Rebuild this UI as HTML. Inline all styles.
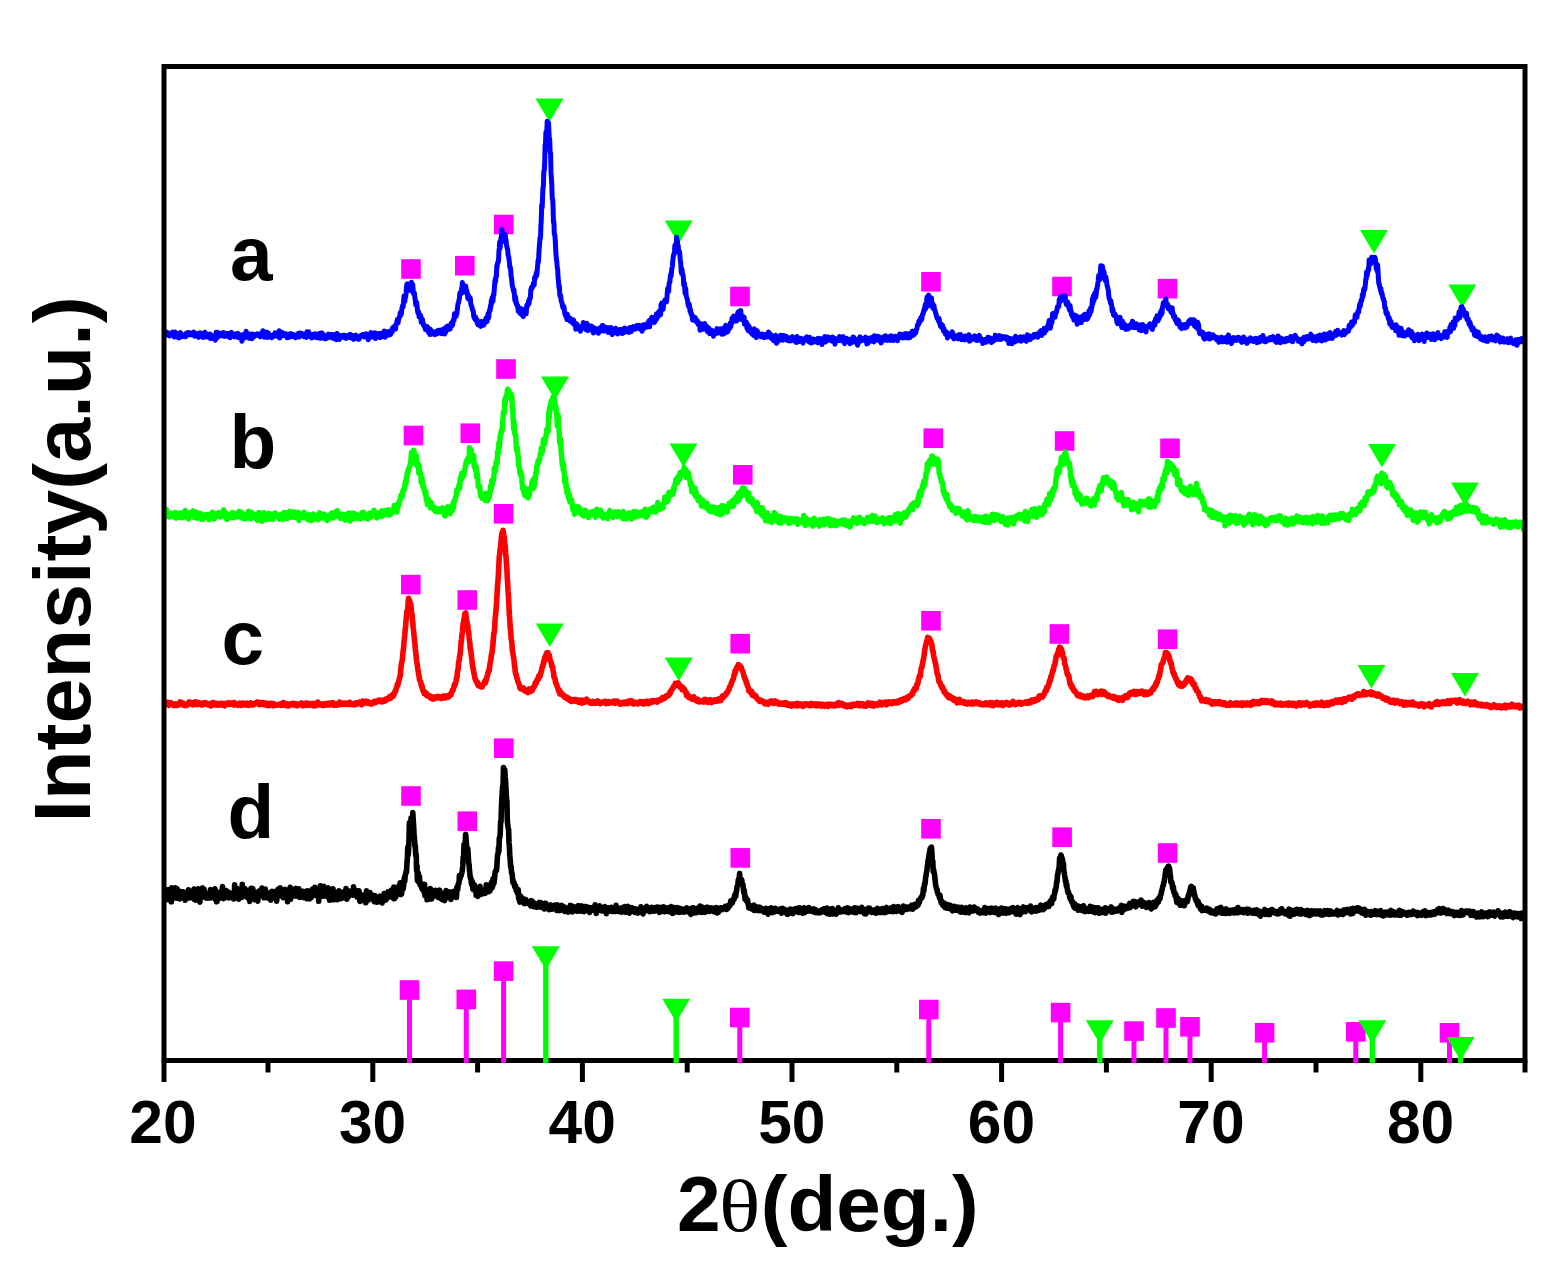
<!DOCTYPE html>
<html lang="en"><head><meta charset="utf-8"><title>XRD patterns</title>
<style>html,body{margin:0;padding:0;background:#fff}svg{display:block}</style></head>
<body>
<svg width="1558" height="1276" viewBox="0 0 1558 1276">
<rect width="1558" height="1276" fill="#fff"/>
<g fill="#ff00ff">
<rect x="401.2" y="259.2" width="19.6" height="19.6"/>
<rect x="455.0" y="255.9" width="19.6" height="19.6"/>
<rect x="494.0" y="214.7" width="19.6" height="19.6"/>
<rect x="730.2" y="286.7" width="19.6" height="19.6"/>
<rect x="921.2" y="272.0" width="19.6" height="19.6"/>
<rect x="1052.2" y="276.7" width="19.6" height="19.6"/>
<rect x="1157.7" y="278.9" width="19.6" height="19.6"/>
<rect x="403.7" y="425.7" width="19.6" height="19.6"/>
<rect x="460.5" y="423.4" width="19.6" height="19.6"/>
<rect x="496.2" y="359.2" width="19.6" height="19.6"/>
<rect x="733.0" y="465.0" width="19.6" height="19.6"/>
<rect x="923.5" y="428.4" width="19.6" height="19.6"/>
<rect x="1054.8" y="431.2" width="19.6" height="19.6"/>
<rect x="1160.2" y="438.5" width="19.6" height="19.6"/>
<rect x="401.0" y="574.8" width="19.6" height="19.6"/>
<rect x="457.5" y="590.2" width="19.6" height="19.6"/>
<rect x="493.8" y="504.0" width="19.6" height="19.6"/>
<rect x="730.4" y="633.9" width="19.6" height="19.6"/>
<rect x="921.2" y="611.0" width="19.6" height="19.6"/>
<rect x="1049.6" y="624.2" width="19.6" height="19.6"/>
<rect x="1157.8" y="629.4" width="19.6" height="19.6"/>
<rect x="401.2" y="786.2" width="19.6" height="19.6"/>
<rect x="457.5" y="811.4" width="19.6" height="19.6"/>
<rect x="494.0" y="738.4" width="19.6" height="19.6"/>
<rect x="730.5" y="848.1" width="19.6" height="19.6"/>
<rect x="921.2" y="819.0" width="19.6" height="19.6"/>
<rect x="1052.3" y="827.4" width="19.6" height="19.6"/>
<rect x="1157.8" y="843.2" width="19.6" height="19.6"/>
</g>
<g fill="#00ff00">
<path d="M535.5 98.5 H563.5 L549.5 122.0 Z"/>
<path d="M664.7 220.5 H692.7 L678.7 244.0 Z"/>
<path d="M1360.0 230.0 H1388.0 L1374.0 253.5 Z"/>
<path d="M1448.3 284.5 H1476.3 L1462.3 308.0 Z"/>
<path d="M541.0 376.5 H569.0 L555.0 400.0 Z"/>
<path d="M669.5 443.5 H697.5 L683.5 467.0 Z"/>
<path d="M1368.0 444.0 H1396.0 L1382.0 467.5 Z"/>
<path d="M1451.0 482.5 H1479.0 L1465.0 506.0 Z"/>
<path d="M535.8 623.5 H563.8 L549.8 647.0 Z"/>
<path d="M664.8 657.5 H692.8 L678.8 681.0 Z"/>
<path d="M1357.5 665.0 H1385.5 L1371.5 688.5 Z"/>
<path d="M1451.0 673.0 H1479.0 L1465.0 696.5 Z"/>
</g>
<path fill="none" stroke="#0000ff" stroke-width="5.0" stroke-linejoin="round" stroke-linecap="butt" d="M165.0 334.6L165.4 335.1L165.8 334.9L166.3 332.0L166.7 335.1L167.1 334.3L167.5 332.5L167.9 334.2L168.4 334.2L168.8 335.0L169.2 334.7L169.6 336.0L170.0 334.4L170.5 334.9L170.9 333.6L171.3 334.7L171.7 333.6L172.1 332.6L172.6 332.1L173.0 333.9L173.4 334.5L173.8 333.9L174.2 337.0L174.7 337.0L175.1 332.1L175.5 332.4L175.9 334.6L176.3 334.5L176.8 334.7L177.2 334.4L177.6 337.2L178.0 333.8L178.4 334.7L178.9 338.0L179.3 335.8L179.7 335.9L180.1 334.3L180.5 332.6L181.0 335.6L181.4 336.8L181.8 335.3L182.2 335.6L182.6 336.4L183.1 334.9L183.5 336.3L183.9 335.6L184.3 335.4L184.7 334.7L185.2 335.8L185.6 336.7L186.0 335.9L186.4 333.0L186.8 335.1L187.3 333.0L187.7 335.0L188.1 332.4L188.5 334.2L188.9 333.5L189.4 332.8L189.8 334.2L190.2 334.7L190.6 334.8L191.0 333.2L191.5 333.2L191.9 334.4L192.3 334.2L192.7 334.7L193.1 335.0L193.6 331.9L194.0 334.8L194.4 336.1L194.8 333.7L195.2 333.2L195.7 335.5L196.1 335.5L196.5 336.1L196.9 335.5L197.3 333.7L197.8 336.6L198.2 336.5L198.6 337.3L199.0 336.3L199.4 332.9L199.9 333.0L200.3 335.3L200.7 334.6L201.1 333.1L201.5 335.2L202.0 336.0L202.4 336.5L202.8 337.3L203.2 336.4L203.6 336.3L204.1 335.3L204.5 337.3L204.9 332.3L205.3 334.8L205.7 335.8L206.2 333.8L206.6 336.2L207.0 334.4L207.4 336.9L207.8 335.8L208.3 336.5L208.7 337.2L209.1 336.6L209.5 334.7L209.9 334.0L210.4 338.5L210.8 336.2L211.2 335.1L211.6 336.4L212.0 336.3L212.5 338.4L212.9 337.2L213.3 337.5L213.7 337.1L214.1 338.6L214.6 336.9L215.0 338.5L215.4 340.1L215.8 334.7L216.2 332.3L216.7 336.1L217.1 337.7L217.5 332.8L217.9 332.4L218.3 334.8L218.8 333.8L219.2 334.5L219.6 335.2L220.0 335.9L220.4 334.3L220.9 335.7L221.3 334.9L221.7 333.0L222.1 333.0L222.5 333.3L223.0 334.5L223.4 332.5L223.8 332.8L224.2 336.6L224.6 335.0L225.1 334.2L225.5 335.6L225.9 334.3L226.3 334.3L226.7 335.4L227.2 335.2L227.6 333.4L228.0 336.5L228.4 334.6L228.8 334.1L229.3 334.2L229.7 335.6L230.1 337.8L230.5 333.3L230.9 335.7L231.4 332.2L231.8 335.0L232.2 336.1L232.6 335.4L233.0 334.2L233.5 335.1L233.9 335.0L234.3 335.1L234.7 336.9L235.1 334.6L235.6 334.0L236.0 334.7L236.4 336.2L236.8 335.8L237.2 335.8L237.7 335.7L238.1 333.4L238.5 337.7L238.9 335.1L239.3 334.5L239.8 336.9L240.2 337.7L240.6 336.6L241.0 336.2L241.4 335.0L241.9 341.2L242.3 338.3L242.7 335.4L243.1 335.7L243.5 337.1L244.0 334.2L244.4 335.1L244.8 335.2L245.2 337.8L245.6 336.9L246.1 331.2L246.5 335.4L246.9 334.0L247.3 337.1L247.7 335.3L248.2 336.2L248.6 334.6L249.0 337.2L249.4 338.2L249.8 334.1L250.3 336.4L250.7 334.5L251.1 335.2L251.5 335.0L251.9 338.8L252.4 334.1L252.8 335.6L253.2 337.4L253.6 336.1L254.0 335.8L254.5 335.0L254.9 336.2L255.3 334.6L255.7 334.9L256.1 334.6L256.6 334.5L257.0 334.5L257.4 333.8L257.8 335.1L258.2 334.3L258.7 334.9L259.1 334.0L259.5 334.6L259.9 333.9L260.3 336.8L260.8 333.8L261.2 333.8L261.6 335.3L262.0 334.6L262.4 332.9L262.9 330.7L263.3 335.0L263.7 335.6L264.1 333.6L264.5 337.2L265.0 335.2L265.4 334.1L265.8 335.5L266.2 335.1L266.6 335.6L267.1 332.1L267.5 337.4L267.9 334.1L268.3 332.8L268.7 335.7L269.2 334.5L269.6 336.4L270.0 335.1L270.4 336.4L270.8 336.8L271.3 335.7L271.7 337.8L272.1 335.8L272.5 336.0L272.9 335.9L273.4 336.4L273.8 335.0L274.2 334.3L274.6 336.1L275.0 332.7L275.5 334.1L275.9 335.2L276.3 333.9L276.7 334.7L277.1 335.1L277.6 336.5L278.0 333.6L278.4 334.3L278.8 334.9L279.2 330.8L279.7 338.0L280.1 333.6L280.5 333.5L280.9 335.6L281.3 334.3L281.8 332.2L282.2 335.7L282.6 335.4L283.0 333.0L283.4 334.1L283.9 335.6L284.3 334.0L284.7 335.4L285.1 335.6L285.5 335.6L286.0 333.7L286.4 335.2L286.8 334.4L287.2 337.8L287.6 336.7L288.1 337.6L288.5 337.1L288.9 336.5L289.3 334.1L289.7 335.9L290.2 336.9L290.6 334.1L291.0 333.6L291.4 334.8L291.8 334.0L292.3 334.0L292.7 335.3L293.1 334.8L293.5 336.8L293.9 334.8L294.4 335.7L294.8 336.3L295.2 335.4L295.6 337.9L296.0 335.2L296.5 335.5L296.9 336.0L297.3 336.8L297.7 334.0L298.1 335.5L298.6 333.3L299.0 337.1L299.4 334.7L299.8 333.0L300.2 333.2L300.7 334.2L301.1 334.5L301.5 333.4L301.9 333.5L302.3 335.2L302.8 334.5L303.2 336.2L303.6 336.5L304.0 335.3L304.4 336.6L304.9 334.0L305.3 336.8L305.7 335.8L306.1 336.4L306.5 337.4L307.0 331.7L307.4 334.9L307.8 332.7L308.2 334.6L308.6 331.7L309.1 333.8L309.5 334.9L309.9 336.2L310.3 336.7L310.7 335.7L311.2 336.3L311.6 338.0L312.0 336.9L312.4 334.4L312.8 337.6L313.3 336.3L313.7 336.2L314.1 334.7L314.5 335.9L314.9 333.7L315.4 335.4L315.8 334.2L316.2 336.2L316.6 337.7L317.0 335.2L317.5 335.6L317.9 336.4L318.3 337.7L318.7 337.6L319.1 333.5L319.6 336.5L320.0 337.0L320.4 338.4L320.8 333.0L321.2 334.5L321.7 337.6L322.1 333.0L322.5 334.0L322.9 336.7L323.3 337.8L323.8 335.7L324.2 337.9L324.6 337.2L325.0 338.8L325.4 336.9L325.9 338.8L326.3 335.4L326.7 336.3L327.1 336.5L327.5 337.8L328.0 336.9L328.4 334.1L328.8 336.4L329.2 336.1L329.6 335.4L330.1 335.5L330.5 335.6L330.9 334.4L331.3 337.6L331.7 337.5L332.2 335.9L332.6 338.0L333.0 334.4L333.4 335.1L333.8 334.7L334.3 338.8L334.7 334.9L335.1 338.0L335.5 338.7L335.9 338.3L336.4 339.6L336.8 335.7L337.2 333.4L337.6 338.1L338.0 336.0L338.5 337.0L338.9 335.7L339.3 339.6L339.7 338.3L340.1 335.4L340.6 337.4L341.0 335.7L341.4 335.6L341.8 335.4L342.2 335.5L342.7 336.8L343.1 336.8L343.5 336.3L343.9 337.5L344.3 335.1L344.8 336.7L345.2 336.4L345.6 338.2L346.0 335.8L346.4 338.4L346.9 336.1L347.3 335.7L347.7 336.1L348.1 336.5L348.5 335.3L349.0 334.9L349.4 334.9L349.8 335.5L350.2 334.3L350.6 337.9L351.1 338.0L351.5 337.1L351.9 336.2L352.3 335.4L352.7 336.2L353.2 337.2L353.6 339.4L354.0 337.7L354.4 336.3L354.8 336.3L355.3 335.4L355.7 335.1L356.1 335.8L356.5 336.3L356.9 338.5L357.4 336.2L357.8 338.0L358.2 339.2L358.6 336.8L359.0 339.2L359.5 338.1L359.9 336.5L360.3 337.2L360.7 336.0L361.1 335.3L361.6 335.9L362.0 336.3L362.4 336.3L362.8 334.6L363.2 336.3L363.7 334.6L364.1 336.3L364.5 337.0L364.9 336.4L365.3 336.3L365.8 336.5L366.2 333.8L366.6 334.7L367.0 336.0L367.4 336.8L367.9 336.0L368.3 339.7L368.7 336.3L369.1 338.2L369.5 337.1L370.0 335.1L370.4 333.8L370.8 332.7L371.2 334.8L371.6 336.3L372.1 336.3L372.5 336.5L372.9 335.6L373.3 337.3L373.7 333.0L374.2 335.3L374.6 335.4L375.0 332.9L375.4 338.5L375.8 333.1L376.3 333.6L376.7 334.1L377.1 336.9L377.5 334.2L377.9 336.5L378.4 336.7L378.8 336.1L379.2 333.5L379.6 334.4L380.0 337.8L380.5 333.6L380.9 334.6L381.3 335.6L381.7 336.9L382.1 335.6L382.6 335.6L383.0 333.0L383.4 335.0L383.8 334.6L384.2 330.9L384.7 335.4L385.1 337.2L385.5 332.5L385.9 333.8L386.3 335.7L386.8 332.1L387.2 331.8L387.6 333.4L388.0 334.3L388.4 334.2L388.9 335.0L389.3 334.0L389.7 331.2L390.1 333.6L390.5 334.4L391.0 332.8L391.4 332.5L391.8 331.1L392.2 332.0L392.6 327.7L393.1 329.7L393.5 328.4L393.9 329.7L394.3 328.1L394.7 325.9L395.2 327.6L395.6 329.0L396.0 324.2L396.4 324.5L396.8 322.5L397.3 319.5L397.7 323.1L398.1 322.7L398.5 319.9L398.9 318.3L399.4 317.1L399.8 316.4L400.2 312.7L400.6 314.6L401.0 315.0L401.5 312.9L401.9 308.4L402.3 307.4L402.7 305.3L403.1 307.0L403.6 301.6L404.0 296.1L404.4 298.8L404.8 301.4L405.2 297.9L405.7 296.8L406.1 292.9L406.5 286.9L406.9 284.2L407.3 283.8L407.8 284.8L408.2 284.4L408.6 286.3L409.0 284.0L409.4 289.0L409.9 286.2L410.3 286.7L410.7 290.7L411.1 286.1L411.5 282.3L412.0 287.6L412.4 290.6L412.8 284.6L413.2 291.4L413.6 293.9L414.1 292.5L414.5 293.4L414.9 297.9L415.3 300.1L415.7 304.8L416.2 304.7L416.6 302.1L417.0 305.1L417.4 309.3L417.8 312.8L418.3 311.4L418.7 312.1L419.1 317.1L419.5 314.1L419.9 315.3L420.4 315.1L420.8 316.5L421.2 322.3L421.6 318.1L422.0 321.1L422.5 319.5L422.9 323.0L423.3 325.1L423.7 324.2L424.1 325.2L424.6 327.1L425.0 327.2L425.4 329.6L425.8 328.7L426.2 327.8L426.7 327.4L427.1 326.6L427.5 329.1L427.9 327.4L428.3 332.4L428.8 331.6L429.2 329.2L429.6 330.3L430.0 334.4L430.4 329.3L430.9 331.4L431.3 334.3L431.7 331.5L432.1 331.4L432.5 331.6L433.0 333.3L433.4 333.3L433.8 333.1L434.2 333.9L434.6 332.9L435.1 334.6L435.5 332.4L435.9 331.9L436.3 331.4L436.7 331.2L437.2 332.4L437.6 333.6L438.0 331.7L438.4 330.3L438.8 330.2L439.3 331.0L439.7 332.2L440.1 332.7L440.5 331.6L440.9 332.7L441.4 333.7L441.8 329.8L442.2 332.0L442.6 329.4L443.0 332.2L443.5 330.7L443.9 328.9L444.3 331.4L444.7 334.0L445.1 331.2L445.6 332.4L446.0 329.9L446.4 326.7L446.8 330.2L447.2 328.6L447.7 326.0L448.1 329.5L448.5 329.4L448.9 327.5L449.3 329.3L449.8 325.9L450.2 328.9L450.6 325.1L451.0 326.0L451.4 322.9L451.9 325.8L452.3 323.4L452.7 324.8L453.1 320.4L453.5 319.9L454.0 320.3L454.4 313.8L454.8 314.4L455.2 317.1L455.6 315.6L456.1 316.4L456.5 313.8L456.9 313.8L457.3 309.8L457.7 305.9L458.2 303.0L458.6 302.7L459.0 299.9L459.4 298.9L459.8 293.2L460.3 292.4L460.7 293.3L461.1 293.7L461.5 290.0L461.9 287.1L462.4 282.6L462.8 292.6L463.2 285.7L463.6 291.2L464.0 291.3L464.5 288.9L464.9 287.6L465.3 288.8L465.7 286.0L466.1 290.2L466.6 290.2L467.0 291.6L467.4 294.9L467.8 298.2L468.2 295.1L468.7 299.1L469.1 296.4L469.5 297.7L469.9 298.4L470.3 298.1L470.8 304.1L471.2 305.1L471.6 306.3L472.0 307.1L472.4 309.6L472.9 310.6L473.3 311.2L473.7 316.0L474.1 317.6L474.5 315.9L475.0 319.3L475.4 316.6L475.8 320.0L476.2 320.7L476.6 320.7L477.1 319.7L477.5 324.0L477.9 323.6L478.3 324.9L478.7 323.5L479.2 322.7L479.6 324.8L480.0 323.1L480.4 324.9L480.8 326.4L481.3 323.7L481.7 321.4L482.1 322.2L482.5 323.9L482.9 322.2L483.4 324.4L483.8 325.1L484.2 323.6L484.6 323.2L485.0 323.1L485.5 319.9L485.9 318.2L486.3 320.2L486.7 319.7L487.1 321.5L487.6 316.2L488.0 313.8L488.4 318.1L488.8 316.9L489.2 311.4L489.7 309.5L490.1 310.7L490.5 305.5L490.9 306.7L491.3 300.4L491.8 303.2L492.2 297.5L492.6 299.4L493.0 301.0L493.4 294.3L493.9 294.9L494.3 289.1L494.7 283.8L495.1 279.4L495.5 282.0L496.0 276.1L496.4 276.6L496.8 265.4L497.2 266.2L497.6 262.5L498.1 262.5L498.5 261.1L498.9 251.7L499.3 248.0L499.7 242.0L500.2 247.8L500.6 241.2L501.0 237.9L501.4 236.8L501.8 229.2L502.3 232.5L502.7 239.4L503.1 238.2L503.5 237.7L503.9 234.7L504.4 238.5L504.8 241.6L505.2 234.5L505.6 239.4L506.0 239.8L506.5 245.3L506.9 246.5L507.3 248.6L507.7 249.4L508.1 255.3L508.6 256.4L509.0 259.2L509.4 262.6L509.8 267.4L510.2 267.0L510.7 270.0L511.1 276.3L511.5 277.9L511.9 281.5L512.3 285.7L512.8 287.3L513.2 289.2L513.6 291.2L514.0 289.8L514.4 295.0L514.9 300.4L515.3 299.7L515.7 297.3L516.1 303.5L516.5 302.3L517.0 305.4L517.4 306.5L517.8 305.7L518.2 311.4L518.6 309.8L519.1 310.8L519.5 311.1L519.9 312.9L520.3 313.7L520.7 308.6L521.2 312.3L521.6 309.3L522.0 313.5L522.4 315.6L522.8 315.7L523.3 316.6L523.7 312.3L524.1 313.5L524.5 311.8L524.9 314.2L525.4 312.8L525.8 308.1L526.2 313.8L526.6 306.5L527.0 304.9L527.5 305.8L527.9 305.6L528.3 304.3L528.7 300.4L529.1 303.5L529.6 298.4L530.0 298.9L530.4 297.8L530.8 290.0L531.2 288.7L531.7 287.1L532.1 288.3L532.5 286.7L532.9 286.0L533.3 283.5L533.8 284.7L534.2 285.0L534.6 277.6L535.0 278.7L535.4 277.7L535.9 274.9L536.3 272.8L536.7 275.8L537.1 271.5L537.5 267.3L538.0 260.6L538.4 262.4L538.8 255.4L539.2 247.7L539.6 243.7L540.1 237.3L540.5 238.0L540.9 226.5L541.3 219.4L541.7 205.1L542.2 207.7L542.6 195.9L543.0 187.8L543.4 186.2L543.8 171.3L544.3 170.4L544.7 162.3L545.1 145.1L545.5 144.3L545.9 132.2L546.4 133.4L546.8 132.2L547.2 121.3L547.6 131.6L548.0 124.9L548.5 122.8L548.9 130.9L549.3 140.0L549.7 138.9L550.1 151.7L550.6 153.6L551.0 172.4L551.4 178.5L551.8 184.3L552.2 198.6L552.7 199.2L553.1 208.6L553.5 222.7L553.9 221.7L554.3 234.0L554.8 234.8L555.2 239.4L555.6 247.2L556.0 254.8L556.4 258.7L556.9 262.9L557.3 268.0L557.7 269.8L558.1 277.6L558.5 281.5L559.0 288.0L559.4 285.9L559.8 295.5L560.2 296.1L560.6 295.3L561.1 300.3L561.5 301.9L561.9 302.6L562.3 304.5L562.7 306.8L563.2 308.1L563.6 307.8L564.0 306.7L564.4 310.4L564.8 314.0L565.3 313.1L565.7 316.1L566.1 316.8L566.5 315.4L566.9 319.4L567.4 314.3L567.8 318.8L568.2 317.3L568.6 316.9L569.0 319.6L569.5 318.1L569.9 321.1L570.3 318.3L570.7 320.8L571.1 320.5L571.6 322.1L572.0 321.4L572.4 321.3L572.8 323.4L573.2 319.8L573.7 320.3L574.1 323.3L574.5 324.8L574.9 324.3L575.3 325.1L575.8 329.2L576.2 323.5L576.6 324.9L577.0 324.3L577.4 327.6L577.9 327.0L578.3 328.7L578.7 328.8L579.1 327.5L579.5 326.5L580.0 326.8L580.4 331.3L580.8 328.9L581.2 328.3L581.6 326.2L582.1 326.5L582.5 326.5L582.9 325.6L583.3 322.5L583.7 327.0L584.2 327.1L584.6 327.6L585.0 326.8L585.4 329.4L585.8 327.5L586.3 328.3L586.7 323.3L587.1 325.3L587.5 330.6L587.9 324.7L588.4 327.3L588.8 329.8L589.2 326.5L589.6 329.9L590.0 326.6L590.5 326.3L590.9 327.3L591.3 326.0L591.7 328.8L592.1 328.0L592.6 328.8L593.0 327.1L593.4 333.0L593.8 329.4L594.2 329.3L594.7 330.3L595.1 329.1L595.5 328.5L595.9 329.5L596.3 330.8L596.8 331.0L597.2 331.8L597.6 329.6L598.0 328.9L598.4 333.3L598.9 329.7L599.3 330.8L599.7 330.8L600.1 331.5L600.5 327.4L601.0 328.7L601.4 328.1L601.8 328.4L602.2 325.6L602.6 329.3L603.1 325.6L603.5 330.0L603.9 331.0L604.3 330.2L604.7 327.4L605.2 330.5L605.6 328.4L606.0 327.4L606.4 327.8L606.8 328.6L607.3 330.4L607.7 332.1L608.1 327.8L608.5 330.2L608.9 332.3L609.4 331.2L609.8 331.3L610.2 327.9L610.6 331.6L611.0 327.5L611.5 330.5L611.9 333.0L612.3 334.5L612.7 332.5L613.1 332.9L613.6 331.1L614.0 331.1L614.4 332.9L614.8 330.9L615.2 330.6L615.7 328.3L616.1 330.9L616.5 330.9L616.9 330.0L617.3 330.8L617.8 334.0L618.2 332.4L618.6 331.0L619.0 329.8L619.4 329.8L619.9 329.3L620.3 331.9L620.7 329.4L621.1 333.1L621.5 329.6L622.0 331.2L622.4 333.6L622.8 332.0L623.2 330.7L623.6 331.7L624.1 332.6L624.5 327.9L624.9 330.1L625.3 329.7L625.7 329.2L626.2 331.1L626.6 328.9L627.0 330.6L627.4 331.2L627.8 332.0L628.3 330.4L628.7 332.4L629.1 328.9L629.5 330.8L629.9 327.5L630.4 328.3L630.8 328.8L631.2 331.7L631.6 329.3L632.0 327.9L632.5 329.5L632.9 326.8L633.3 326.6L633.7 328.2L634.1 328.2L634.6 329.2L635.0 327.5L635.4 328.8L635.8 329.0L636.2 327.4L636.7 326.6L637.1 325.4L637.5 327.5L637.9 326.8L638.3 328.1L638.8 327.3L639.2 327.7L639.6 325.4L640.0 327.9L640.4 329.3L640.9 327.9L641.3 329.6L641.7 329.0L642.1 331.2L642.5 328.0L643.0 325.1L643.4 328.5L643.8 327.0L644.2 324.7L644.6 328.1L645.1 327.4L645.5 327.0L645.9 324.8L646.3 325.8L646.7 325.9L647.2 326.9L647.6 323.1L648.0 323.6L648.4 324.7L648.8 320.9L649.3 320.4L649.7 326.8L650.1 320.0L650.5 323.3L650.9 319.8L651.4 319.0L651.8 317.3L652.2 318.4L652.6 320.7L653.0 317.5L653.5 320.5L653.9 320.5L654.3 322.6L654.7 318.1L655.1 321.5L655.6 320.1L656.0 317.8L656.4 314.1L656.8 318.8L657.2 313.6L657.7 313.7L658.1 315.3L658.5 316.3L658.9 311.4L659.3 312.7L659.8 311.3L660.2 313.8L660.6 314.8L661.0 304.8L661.4 309.8L661.9 303.0L662.3 306.9L662.7 303.5L663.1 309.6L663.5 305.4L664.0 302.8L664.4 301.6L664.8 300.1L665.2 302.0L665.6 300.0L666.1 300.1L666.5 301.9L666.9 298.4L667.3 292.8L667.7 288.4L668.2 289.6L668.6 291.5L669.0 284.7L669.4 282.3L669.8 282.4L670.3 277.2L670.7 274.4L671.1 276.0L671.5 272.1L671.9 268.3L672.4 266.3L672.8 260.8L673.2 257.1L673.6 254.8L674.0 254.7L674.5 251.0L674.9 245.3L675.3 245.4L675.7 245.2L676.1 246.4L676.6 237.2L677.0 241.3L677.4 240.8L677.8 245.1L678.2 245.8L678.7 252.4L679.1 251.6L679.5 251.7L679.9 255.5L680.3 260.0L680.8 263.7L681.2 271.8L681.6 273.5L682.0 269.3L682.4 274.1L682.9 274.5L683.3 276.7L683.7 285.1L684.1 285.5L684.5 283.2L685.0 293.2L685.4 287.7L685.8 290.0L686.2 295.6L686.6 297.2L687.1 298.9L687.5 300.1L687.9 303.6L688.3 305.1L688.7 306.8L689.2 303.9L689.6 306.1L690.0 311.5L690.4 309.4L690.8 311.9L691.3 314.8L691.7 313.8L692.1 316.0L692.5 319.9L692.9 317.1L693.4 319.9L693.8 319.0L694.2 318.6L694.6 317.9L695.0 317.4L695.5 317.9L695.9 321.4L696.3 321.3L696.7 320.2L697.1 322.6L697.6 320.8L698.0 324.2L698.4 322.6L698.8 323.6L699.2 324.4L699.7 325.8L700.1 330.2L700.5 323.4L700.9 326.2L701.3 328.2L701.8 328.2L702.2 325.3L702.6 329.2L703.0 325.2L703.4 326.0L703.9 329.2L704.3 325.4L704.7 323.5L705.1 328.0L705.5 327.6L706.0 328.2L706.4 326.3L706.8 327.9L707.2 326.7L707.6 331.9L708.1 331.0L708.5 331.4L708.9 327.9L709.3 332.2L709.7 333.6L710.2 333.0L710.6 333.1L711.0 331.1L711.4 330.1L711.8 332.8L712.3 332.8L712.7 332.9L713.1 332.7L713.5 336.3L713.9 331.8L714.4 332.1L714.8 331.2L715.2 333.1L715.6 333.3L716.0 332.1L716.5 331.2L716.9 328.6L717.3 333.2L717.7 330.9L718.1 329.1L718.6 330.1L719.0 329.4L719.4 330.8L719.8 331.7L720.2 331.2L720.7 328.7L721.1 332.8L721.5 334.0L721.9 334.2L722.3 333.0L722.8 333.5L723.2 333.9L723.6 330.9L724.0 333.9L724.4 327.6L724.9 327.9L725.3 328.9L725.7 325.3L726.1 327.8L726.5 331.4L727.0 332.2L727.4 329.9L727.8 331.8L728.2 329.3L728.6 328.1L729.1 329.3L729.5 327.4L729.9 327.9L730.3 322.9L730.7 327.0L731.2 322.9L731.6 323.6L732.0 318.3L732.4 319.8L732.8 320.7L733.3 320.5L733.7 316.1L734.1 321.5L734.5 319.8L734.9 318.2L735.4 320.1L735.8 316.8L736.2 318.8L736.6 321.0L737.0 317.2L737.5 313.9L737.9 312.4L738.3 315.7L738.7 314.8L739.1 311.2L739.6 311.5L740.0 314.0L740.4 319.3L740.8 310.5L741.2 317.0L741.7 317.0L742.1 319.0L742.5 319.7L742.9 318.7L743.3 316.8L743.8 317.5L744.2 317.4L744.6 324.3L745.0 322.6L745.4 322.9L745.9 323.0L746.3 322.0L746.7 326.4L747.1 328.5L747.5 329.1L748.0 324.8L748.4 330.8L748.8 327.4L749.2 326.6L749.6 328.6L750.1 329.8L750.5 332.4L750.9 330.8L751.3 330.5L751.7 331.7L752.2 334.3L752.6 329.7L753.0 331.7L753.4 331.1L753.8 335.4L754.3 328.7L754.7 334.0L755.1 331.0L755.5 331.7L755.9 333.9L756.4 337.6L756.8 332.7L757.2 330.8L757.6 335.6L758.0 332.5L758.5 333.9L758.9 334.9L759.3 334.8L759.7 335.3L760.1 336.3L760.6 336.4L761.0 336.7L761.4 335.5L761.8 335.7L762.2 334.0L762.7 336.6L763.1 335.7L763.5 336.3L763.9 335.7L764.3 337.6L764.8 336.5L765.2 337.3L765.6 334.5L766.0 335.1L766.4 336.1L766.9 334.6L767.3 337.1L767.7 334.0L768.1 335.9L768.5 332.1L769.0 334.0L769.4 335.4L769.8 335.6L770.2 333.6L770.6 336.3L771.1 338.1L771.5 338.5L771.9 336.4L772.3 336.6L772.7 335.9L773.2 339.1L773.6 340.7L774.0 337.7L774.4 336.4L774.8 339.7L775.3 340.1L775.7 335.3L776.1 340.2L776.5 343.3L776.9 340.5L777.4 340.4L777.8 340.7L778.2 341.2L778.6 336.7L779.0 336.8L779.5 339.0L779.9 336.9L780.3 337.9L780.7 335.2L781.1 339.5L781.6 339.8L782.0 338.1L782.4 338.0L782.8 340.3L783.2 335.6L783.7 336.2L784.1 335.7L784.5 337.5L784.9 336.9L785.3 338.8L785.8 337.6L786.2 336.4L786.6 336.5L787.0 340.2L787.4 339.0L787.9 338.8L788.3 339.6L788.7 339.6L789.1 340.9L789.5 340.5L790.0 338.2L790.4 337.7L790.8 337.8L791.2 337.8L791.6 340.7L792.1 337.7L792.5 336.5L792.9 338.0L793.3 337.7L793.7 339.2L794.2 337.9L794.6 339.9L795.0 340.1L795.4 341.3L795.8 342.3L796.3 342.4L796.7 340.4L797.1 336.5L797.5 337.4L797.9 339.0L798.4 341.8L798.8 340.5L799.2 341.5L799.6 339.9L800.0 339.9L800.5 339.2L800.9 338.3L801.3 340.2L801.7 341.0L802.1 339.1L802.6 341.7L803.0 343.2L803.4 340.3L803.8 340.0L804.2 339.4L804.7 339.0L805.1 339.1L805.5 337.7L805.9 338.4L806.3 337.6L806.8 337.0L807.2 338.6L807.6 340.6L808.0 338.3L808.4 338.6L808.9 342.0L809.3 341.0L809.7 337.3L810.1 339.9L810.5 339.1L811.0 343.0L811.4 340.0L811.8 340.7L812.2 342.6L812.6 339.5L813.1 342.3L813.5 338.9L813.9 340.3L814.3 339.7L814.7 340.9L815.2 340.8L815.6 340.6L816.0 339.6L816.4 342.0L816.8 342.3L817.3 342.3L817.7 342.8L818.1 338.2L818.5 341.3L818.9 341.6L819.4 339.3L819.8 341.3L820.2 341.3L820.6 339.4L821.0 338.5L821.5 340.4L821.9 344.6L822.3 341.4L822.7 339.4L823.1 340.6L823.6 339.3L824.0 340.1L824.4 340.4L824.8 336.5L825.2 340.7L825.7 342.0L826.1 339.2L826.5 338.6L826.9 340.7L827.3 337.1L827.8 337.3L828.2 336.9L828.6 338.4L829.0 339.6L829.4 339.1L829.9 340.0L830.3 340.2L830.7 340.4L831.1 339.0L831.5 339.9L832.0 341.1L832.4 337.1L832.8 338.6L833.2 338.3L833.6 338.8L834.1 338.0L834.5 338.1L834.9 344.2L835.3 341.5L835.7 338.8L836.2 339.4L836.6 340.6L837.0 339.6L837.4 340.7L837.8 339.0L838.3 339.8L838.7 340.4L839.1 339.8L839.5 336.4L839.9 340.0L840.4 340.6L840.8 340.2L841.2 337.8L841.6 339.0L842.0 339.5L842.5 336.9L842.9 336.7L843.3 341.0L843.7 339.3L844.1 342.3L844.6 343.6L845.0 338.9L845.4 338.4L845.8 339.4L846.2 340.9L846.7 338.3L847.1 341.2L847.5 341.6L847.9 341.2L848.3 340.2L848.8 341.3L849.2 341.9L849.6 339.4L850.0 343.7L850.4 340.5L850.9 340.9L851.3 340.2L851.7 340.7L852.1 342.4L852.5 338.6L853.0 337.0L853.4 338.6L853.8 337.3L854.2 338.6L854.6 339.3L855.1 340.1L855.5 342.3L855.9 339.6L856.3 341.7L856.7 341.0L857.2 342.9L857.6 345.2L858.0 342.4L858.4 343.3L858.8 340.0L859.3 337.7L859.7 338.5L860.1 336.9L860.5 337.9L860.9 338.8L861.4 340.9L861.8 339.6L862.2 339.6L862.6 338.7L863.0 338.7L863.5 340.0L863.9 339.6L864.3 339.6L864.7 339.6L865.1 340.5L865.6 337.1L866.0 338.2L866.4 339.7L866.8 344.0L867.2 341.2L867.7 341.6L868.1 343.4L868.5 341.9L868.9 339.9L869.3 339.7L869.8 338.0L870.2 339.8L870.6 339.8L871.0 338.1L871.4 338.7L871.9 338.4L872.3 341.2L872.7 337.1L873.1 339.2L873.5 340.2L874.0 341.9L874.4 335.7L874.8 338.3L875.2 339.1L875.6 337.0L876.1 340.0L876.5 338.7L876.9 338.6L877.3 336.2L877.7 336.8L878.2 337.7L878.6 340.5L879.0 338.1L879.4 336.8L879.8 337.6L880.3 338.7L880.7 342.1L881.1 343.0L881.5 338.0L881.9 340.3L882.4 341.1L882.8 340.8L883.2 338.8L883.6 336.9L884.0 338.0L884.5 336.3L884.9 339.3L885.3 339.7L885.7 335.7L886.1 338.5L886.6 339.4L887.0 340.2L887.4 340.4L887.8 340.0L888.2 337.6L888.7 337.8L889.1 339.2L889.5 336.5L889.9 338.1L890.3 340.4L890.8 338.0L891.2 335.8L891.6 338.5L892.0 339.5L892.4 337.7L892.9 339.5L893.3 340.4L893.7 336.9L894.1 336.6L894.5 338.0L895.0 336.2L895.4 338.4L895.8 336.8L896.2 339.1L896.6 337.5L897.1 337.1L897.5 340.8L897.9 336.2L898.3 336.5L898.7 335.4L899.2 335.4L899.6 334.0L900.0 335.3L900.4 334.4L900.8 335.0L901.3 336.6L901.7 337.7L902.1 337.4L902.5 336.3L902.9 337.9L903.4 337.5L903.8 337.3L904.2 334.1L904.6 336.8L905.0 335.0L905.5 337.9L905.9 336.4L906.3 333.6L906.7 333.7L907.1 337.4L907.6 334.1L908.0 337.1L908.4 334.8L908.8 338.1L909.2 333.9L909.7 337.3L910.1 337.4L910.5 333.1L910.9 333.0L911.3 335.1L911.8 333.0L912.2 331.2L912.6 333.0L913.0 335.5L913.4 331.2L913.9 334.8L914.3 331.8L914.7 333.4L915.1 331.5L915.5 333.2L916.0 331.7L916.4 329.2L916.8 329.2L917.2 326.9L917.6 324.8L918.1 324.1L918.5 324.4L918.9 321.0L919.3 322.5L919.7 321.9L920.2 321.3L920.6 317.9L921.0 317.6L921.4 317.2L921.8 319.6L922.3 315.0L922.7 314.1L923.1 313.6L923.5 312.4L923.9 310.3L924.4 308.3L924.8 309.7L925.2 304.4L925.6 306.9L926.0 308.5L926.5 304.7L926.9 297.3L927.3 301.4L927.7 300.6L928.1 300.0L928.6 295.1L929.0 300.8L929.4 296.4L929.8 301.7L930.2 302.6L930.7 306.0L931.1 299.9L931.5 298.0L931.9 305.2L932.3 306.1L932.8 303.7L933.2 308.5L933.6 308.3L934.0 305.5L934.4 308.8L934.9 310.1L935.3 311.8L935.7 313.4L936.1 313.8L936.5 316.3L937.0 318.2L937.4 317.4L937.8 318.6L938.2 319.3L938.6 321.3L939.1 318.5L939.5 323.2L939.9 323.0L940.3 326.0L940.7 324.4L941.2 327.3L941.6 327.3L942.0 324.5L942.4 327.0L942.8 325.9L943.3 330.8L943.7 330.2L944.1 328.8L944.5 331.9L944.9 332.1L945.4 334.0L945.8 333.2L946.2 334.0L946.6 331.9L947.0 335.3L947.5 338.0L947.9 336.3L948.3 335.2L948.7 336.3L949.1 334.5L949.6 336.2L950.0 334.1L950.4 335.2L950.8 334.7L951.2 333.2L951.7 334.6L952.1 331.8L952.5 334.9L952.9 333.0L953.3 337.9L953.8 338.8L954.2 337.2L954.6 338.5L955.0 336.2L955.4 337.5L955.9 335.9L956.3 335.9L956.7 337.7L957.1 337.8L957.5 338.2L958.0 338.7L958.4 337.2L958.8 334.8L959.2 336.3L959.6 335.4L960.1 335.5L960.5 334.6L960.9 338.5L961.3 339.5L961.7 336.2L962.2 338.9L962.6 339.2L963.0 336.6L963.4 338.0L963.8 339.7L964.3 338.5L964.7 339.9L965.1 335.9L965.5 336.4L965.9 338.6L966.4 338.6L966.8 337.7L967.2 336.6L967.6 336.4L968.0 336.6L968.5 338.2L968.9 334.8L969.3 341.2L969.7 339.2L970.1 338.0L970.6 340.5L971.0 336.8L971.4 338.7L971.8 338.1L972.2 338.5L972.7 338.1L973.1 338.6L973.5 336.8L973.9 337.3L974.3 337.9L974.8 335.9L975.2 339.8L975.6 338.9L976.0 336.6L976.4 340.6L976.9 340.1L977.3 336.8L977.7 339.0L978.1 340.2L978.5 339.5L979.0 336.2L979.4 335.4L979.8 337.8L980.2 337.4L980.6 338.6L981.1 339.4L981.5 340.7L981.9 339.2L982.3 339.2L982.7 343.5L983.2 339.9L983.6 341.3L984.0 341.3L984.4 340.8L984.8 339.5L985.3 342.2L985.7 340.8L986.1 341.4L986.5 342.0L986.9 340.3L987.4 340.6L987.8 337.3L988.2 338.7L988.6 341.0L989.0 339.0L989.5 337.6L989.9 339.5L990.3 339.0L990.7 339.1L991.1 338.5L991.6 342.6L992.0 338.7L992.4 339.6L992.8 339.6L993.2 341.3L993.7 338.5L994.1 340.6L994.5 338.8L994.9 337.7L995.3 335.1L995.8 339.1L996.2 339.3L996.6 339.1L997.0 338.3L997.4 337.3L997.9 336.3L998.3 339.5L998.7 338.1L999.1 336.4L999.5 335.5L1000.0 337.8L1000.4 337.1L1000.8 339.6L1001.2 338.8L1001.6 337.5L1002.1 336.8L1002.5 337.4L1002.9 336.6L1003.3 337.1L1003.7 337.1L1004.2 337.5L1004.6 338.2L1005.0 337.8L1005.4 338.6L1005.8 336.9L1006.3 338.6L1006.7 339.7L1007.1 339.1L1007.5 337.4L1007.9 338.1L1008.4 338.8L1008.8 343.5L1009.2 338.2L1009.6 339.8L1010.0 341.9L1010.5 340.7L1010.9 340.9L1011.3 338.6L1011.7 341.3L1012.1 343.7L1012.6 340.1L1013.0 341.2L1013.4 339.9L1013.8 340.8L1014.2 340.7L1014.7 342.0L1015.1 337.7L1015.5 336.2L1015.9 338.0L1016.3 338.4L1016.8 341.0L1017.2 339.2L1017.6 337.9L1018.0 339.7L1018.4 340.1L1018.9 338.7L1019.3 337.2L1019.7 339.6L1020.1 337.9L1020.5 336.8L1021.0 341.2L1021.4 337.2L1021.8 338.8L1022.2 338.6L1022.6 338.8L1023.1 338.3L1023.5 336.9L1023.9 339.9L1024.3 339.1L1024.7 339.4L1025.2 340.4L1025.6 339.9L1026.0 340.4L1026.4 341.3L1026.8 338.1L1027.3 334.8L1027.7 337.5L1028.1 337.7L1028.5 337.9L1028.9 337.1L1029.4 336.6L1029.8 339.1L1030.2 339.5L1030.6 335.9L1031.0 338.5L1031.5 336.6L1031.9 336.8L1032.3 337.6L1032.7 336.2L1033.1 336.1L1033.6 337.3L1034.0 334.4L1034.4 335.7L1034.8 336.1L1035.2 334.7L1035.7 336.4L1036.1 335.5L1036.5 334.1L1036.9 335.3L1037.3 336.0L1037.8 337.1L1038.2 334.2L1038.6 334.9L1039.0 335.2L1039.4 333.2L1039.9 331.9L1040.3 331.0L1040.7 331.2L1041.1 330.6L1041.5 335.6L1042.0 331.1L1042.4 333.0L1042.8 332.0L1043.2 332.7L1043.6 330.3L1044.1 328.4L1044.5 333.1L1044.9 330.0L1045.3 330.2L1045.7 330.1L1046.2 330.6L1046.6 329.3L1047.0 328.9L1047.4 326.9L1047.8 325.4L1048.3 324.5L1048.7 322.8L1049.1 320.5L1049.5 323.4L1049.9 322.1L1050.4 328.2L1050.8 325.4L1051.2 323.3L1051.6 319.5L1052.0 322.6L1052.5 313.8L1052.9 313.7L1053.3 314.6L1053.7 313.2L1054.1 314.0L1054.6 314.4L1055.0 317.3L1055.4 315.0L1055.8 313.6L1056.2 312.3L1056.7 311.3L1057.1 309.0L1057.5 306.7L1057.9 306.9L1058.3 305.9L1058.8 306.5L1059.2 300.0L1059.6 298.7L1060.0 300.9L1060.4 297.1L1060.9 301.2L1061.3 299.4L1061.7 297.7L1062.1 296.4L1062.5 299.5L1063.0 297.8L1063.4 296.6L1063.8 297.1L1064.2 299.6L1064.6 300.3L1065.1 295.5L1065.5 299.3L1065.9 302.4L1066.3 304.4L1066.7 303.3L1067.2 302.9L1067.6 301.8L1068.0 303.3L1068.4 306.7L1068.8 305.1L1069.3 309.3L1069.7 310.3L1070.1 305.5L1070.5 309.5L1070.9 310.0L1071.4 314.7L1071.8 314.2L1072.2 313.5L1072.6 317.0L1073.0 315.8L1073.5 317.8L1073.9 320.1L1074.3 319.2L1074.7 319.0L1075.1 316.8L1075.6 315.4L1076.0 318.9L1076.4 317.2L1076.8 317.9L1077.2 324.3L1077.7 322.0L1078.1 319.7L1078.5 316.9L1078.9 318.0L1079.3 321.0L1079.8 322.5L1080.2 320.0L1080.6 320.0L1081.0 321.0L1081.4 322.5L1081.9 316.5L1082.3 319.6L1082.7 318.8L1083.1 319.3L1083.5 317.3L1084.0 314.8L1084.4 315.9L1084.8 314.3L1085.2 318.3L1085.6 319.6L1086.1 319.6L1086.5 315.5L1086.9 314.5L1087.3 319.2L1087.7 316.1L1088.2 317.5L1088.6 314.9L1089.0 310.8L1089.4 315.0L1089.8 314.5L1090.3 310.5L1090.7 307.7L1091.1 311.3L1091.5 308.4L1091.9 307.0L1092.4 299.1L1092.8 303.9L1093.2 296.2L1093.6 298.5L1094.0 300.8L1094.5 294.2L1094.9 292.9L1095.3 294.9L1095.7 297.5L1096.1 295.4L1096.6 288.7L1097.0 288.9L1097.4 286.3L1097.8 283.4L1098.2 280.8L1098.7 275.5L1099.1 276.8L1099.5 276.8L1099.9 279.7L1100.3 273.5L1100.8 265.7L1101.2 269.0L1101.6 273.0L1102.0 271.2L1102.4 266.1L1102.9 270.9L1103.3 270.5L1103.7 271.4L1104.1 272.1L1104.5 276.8L1105.0 279.8L1105.4 280.7L1105.8 276.9L1106.2 279.2L1106.6 281.7L1107.1 285.6L1107.5 286.8L1107.9 288.6L1108.3 290.0L1108.7 295.5L1109.2 298.4L1109.6 299.5L1110.0 299.8L1110.4 303.0L1110.8 300.7L1111.3 303.4L1111.7 306.0L1112.1 311.1L1112.5 310.4L1112.9 309.1L1113.4 314.3L1113.8 315.4L1114.2 314.7L1114.6 313.5L1115.0 315.2L1115.5 315.8L1115.9 315.6L1116.3 317.2L1116.7 320.4L1117.1 322.8L1117.6 323.6L1118.0 321.7L1118.4 320.4L1118.8 321.2L1119.2 320.8L1119.7 323.6L1120.1 317.2L1120.5 323.6L1120.9 320.2L1121.3 324.4L1121.8 327.5L1122.2 324.3L1122.6 321.3L1123.0 327.4L1123.4 327.3L1123.9 325.4L1124.3 327.6L1124.7 324.2L1125.1 328.4L1125.5 329.0L1126.0 328.1L1126.4 328.2L1126.8 329.2L1127.2 328.8L1127.6 326.1L1128.1 329.0L1128.5 327.2L1128.9 325.9L1129.3 326.8L1129.7 326.2L1130.2 325.7L1130.6 324.6L1131.0 327.5L1131.4 323.9L1131.8 324.9L1132.3 321.3L1132.7 321.6L1133.1 325.8L1133.5 324.8L1133.9 325.6L1134.4 327.8L1134.8 326.8L1135.2 324.8L1135.6 325.4L1136.0 324.6L1136.5 323.9L1136.9 324.5L1137.3 326.5L1137.7 325.3L1138.1 325.5L1138.6 327.1L1139.0 329.8L1139.4 325.4L1139.8 327.1L1140.2 325.0L1140.7 330.6L1141.1 327.2L1141.5 328.4L1141.9 330.6L1142.3 329.7L1142.8 324.4L1143.2 328.4L1143.6 327.0L1144.0 328.7L1144.4 327.3L1144.9 328.8L1145.3 329.1L1145.7 328.5L1146.1 331.9L1146.5 326.6L1147.0 327.4L1147.4 326.3L1147.8 327.1L1148.2 326.0L1148.6 326.1L1149.1 325.7L1149.5 326.2L1149.9 323.7L1150.3 327.0L1150.7 327.4L1151.2 325.1L1151.6 325.1L1152.0 325.7L1152.4 329.5L1152.8 325.4L1153.3 325.6L1153.7 324.0L1154.1 322.9L1154.5 321.5L1154.9 325.2L1155.4 319.1L1155.8 321.3L1156.2 319.6L1156.6 318.6L1157.0 315.8L1157.5 316.9L1157.9 320.9L1158.3 317.0L1158.7 319.3L1159.1 318.4L1159.6 317.1L1160.0 316.0L1160.4 312.3L1160.8 313.0L1161.2 315.0L1161.7 309.5L1162.1 313.0L1162.5 307.1L1162.9 306.3L1163.3 302.7L1163.8 304.5L1164.2 302.4L1164.6 303.5L1165.0 301.2L1165.4 305.4L1165.9 299.1L1166.3 304.5L1166.7 304.3L1167.1 306.0L1167.5 303.9L1168.0 307.9L1168.4 308.8L1168.8 307.2L1169.2 308.4L1169.6 306.9L1170.1 309.1L1170.5 308.6L1170.9 311.9L1171.3 312.7L1171.7 309.1L1172.2 307.8L1172.6 313.2L1173.0 312.8L1173.4 316.6L1173.8 316.2L1174.3 316.4L1174.7 316.0L1175.1 319.8L1175.5 319.8L1175.9 319.3L1176.4 320.8L1176.8 323.5L1177.2 322.3L1177.6 319.7L1178.0 322.5L1178.5 321.2L1178.9 321.1L1179.3 325.2L1179.7 323.5L1180.1 327.3L1180.6 326.6L1181.0 324.6L1181.4 327.0L1181.8 328.6L1182.2 326.1L1182.7 325.1L1183.1 325.8L1183.5 325.5L1183.9 324.7L1184.3 324.6L1184.8 327.3L1185.2 327.9L1185.6 325.4L1186.0 327.4L1186.4 326.8L1186.9 327.0L1187.3 323.8L1187.7 323.5L1188.1 323.1L1188.5 321.6L1189.0 322.1L1189.4 323.7L1189.8 320.3L1190.2 321.2L1190.6 319.7L1191.1 321.3L1191.5 321.2L1191.9 319.7L1192.3 320.5L1192.7 320.8L1193.2 322.6L1193.6 324.0L1194.0 319.8L1194.4 325.9L1194.8 320.4L1195.3 325.2L1195.7 326.9L1196.1 325.5L1196.5 325.8L1196.9 324.6L1197.4 328.4L1197.8 322.3L1198.2 326.0L1198.6 324.7L1199.0 330.2L1199.5 333.1L1199.9 333.8L1200.3 333.9L1200.7 332.8L1201.1 331.6L1201.6 334.3L1202.0 333.7L1202.4 332.1L1202.8 332.2L1203.2 334.0L1203.7 337.9L1204.1 338.5L1204.5 339.0L1204.9 335.5L1205.3 335.7L1205.8 338.5L1206.2 336.3L1206.6 336.9L1207.0 334.3L1207.4 335.6L1207.9 336.4L1208.3 334.8L1208.7 334.9L1209.1 333.9L1209.5 339.0L1210.0 336.9L1210.4 334.5L1210.8 338.6L1211.2 337.0L1211.6 338.2L1212.1 336.4L1212.5 335.0L1212.9 334.8L1213.3 336.3L1213.7 337.2L1214.2 336.6L1214.6 336.3L1215.0 337.5L1215.4 337.5L1215.8 338.8L1216.3 339.5L1216.7 338.6L1217.1 339.1L1217.5 339.0L1217.9 337.6L1218.4 337.9L1218.8 342.3L1219.2 339.3L1219.6 337.7L1220.0 339.9L1220.5 339.2L1220.9 338.0L1221.3 338.5L1221.7 337.2L1222.1 338.7L1222.6 341.9L1223.0 340.9L1223.4 338.7L1223.8 340.0L1224.2 340.5L1224.7 339.0L1225.1 338.0L1225.5 341.8L1225.9 338.2L1226.3 337.2L1226.8 339.3L1227.2 342.2L1227.6 339.3L1228.0 339.5L1228.4 335.0L1228.9 337.3L1229.3 340.3L1229.7 337.8L1230.1 341.4L1230.5 340.5L1231.0 341.6L1231.4 343.6L1231.8 339.9L1232.2 340.8L1232.6 340.9L1233.1 340.6L1233.5 337.4L1233.9 340.7L1234.3 339.7L1234.7 339.0L1235.2 340.4L1235.6 338.5L1236.0 340.3L1236.4 339.4L1236.8 340.2L1237.3 337.6L1237.7 338.2L1238.1 339.9L1238.5 337.9L1238.9 337.4L1239.4 338.6L1239.8 340.4L1240.2 340.5L1240.6 340.5L1241.0 340.3L1241.5 341.9L1241.9 342.4L1242.3 340.5L1242.7 340.7L1243.1 341.3L1243.6 337.0L1244.0 338.9L1244.4 340.0L1244.8 340.9L1245.2 339.7L1245.7 341.9L1246.1 339.7L1246.5 341.3L1246.9 343.4L1247.3 339.2L1247.8 341.2L1248.2 340.6L1248.6 340.5L1249.0 339.6L1249.4 341.3L1249.9 338.9L1250.3 337.9L1250.7 340.6L1251.1 338.1L1251.5 340.6L1252.0 340.3L1252.4 338.8L1252.8 339.7L1253.2 339.5L1253.6 341.6L1254.1 339.5L1254.5 340.1L1254.9 339.2L1255.3 340.6L1255.7 338.3L1256.2 339.6L1256.6 339.6L1257.0 342.7L1257.4 341.7L1257.8 340.3L1258.3 342.1L1258.7 342.0L1259.1 339.4L1259.5 337.7L1259.9 341.7L1260.4 340.1L1260.8 337.2L1261.2 339.7L1261.6 339.5L1262.0 336.8L1262.5 339.1L1262.9 335.5L1263.3 337.6L1263.7 339.5L1264.1 341.0L1264.6 341.6L1265.0 341.3L1265.4 341.7L1265.8 339.6L1266.2 341.5L1266.7 339.0L1267.1 340.2L1267.5 339.0L1267.9 338.9L1268.3 339.6L1268.8 339.4L1269.2 340.1L1269.6 339.1L1270.0 337.5L1270.4 339.5L1270.9 338.7L1271.3 337.6L1271.7 337.5L1272.1 339.8L1272.5 337.7L1273.0 336.6L1273.4 339.0L1273.8 339.6L1274.2 339.8L1274.6 337.7L1275.1 339.1L1275.5 341.7L1275.9 338.4L1276.3 338.7L1276.7 342.4L1277.2 339.7L1277.6 338.1L1278.0 336.0L1278.4 339.5L1278.8 338.0L1279.3 340.0L1279.7 338.5L1280.1 337.7L1280.5 342.8L1280.9 340.2L1281.4 341.1L1281.8 340.2L1282.2 338.8L1282.6 340.1L1283.0 338.9L1283.5 341.0L1283.9 340.5L1284.3 339.6L1284.7 341.9L1285.1 340.5L1285.6 340.8L1286.0 339.1L1286.4 340.9L1286.8 338.2L1287.2 341.0L1287.7 338.9L1288.1 340.6L1288.5 339.6L1288.9 340.1L1289.3 339.6L1289.8 339.2L1290.2 338.8L1290.6 336.4L1291.0 336.5L1291.4 340.9L1291.9 340.4L1292.3 337.0L1292.7 341.8L1293.1 337.4L1293.5 338.5L1294.0 338.1L1294.4 336.9L1294.8 337.6L1295.2 335.2L1295.6 337.1L1296.1 337.0L1296.5 337.7L1296.9 338.2L1297.3 338.3L1297.7 338.9L1298.2 341.2L1298.6 339.3L1299.0 340.6L1299.4 340.5L1299.8 340.3L1300.3 341.1L1300.7 342.1L1301.1 340.7L1301.5 341.8L1301.9 343.9L1302.4 338.8L1302.8 339.6L1303.2 338.4L1303.6 342.0L1304.0 337.3L1304.5 339.2L1304.9 340.5L1305.3 337.4L1305.7 338.8L1306.1 337.8L1306.6 336.5L1307.0 338.1L1307.4 338.8L1307.8 337.6L1308.2 338.3L1308.7 338.8L1309.1 339.0L1309.5 335.9L1309.9 338.4L1310.3 336.4L1310.8 334.1L1311.2 336.0L1311.6 338.6L1312.0 338.3L1312.4 336.4L1312.9 340.4L1313.3 339.1L1313.7 337.5L1314.1 336.5L1314.5 338.0L1315.0 337.6L1315.4 340.4L1315.8 339.0L1316.2 341.0L1316.6 339.1L1317.1 337.2L1317.5 339.7L1317.9 336.1L1318.3 336.7L1318.7 336.5L1319.2 335.5L1319.6 338.5L1320.0 334.9L1320.4 340.4L1320.8 337.9L1321.3 340.1L1321.7 340.9L1322.1 337.1L1322.5 337.6L1322.9 339.6L1323.4 337.9L1323.8 337.5L1324.2 333.9L1324.6 335.2L1325.0 338.4L1325.5 339.9L1325.9 336.9L1326.3 336.7L1326.7 338.7L1327.1 338.1L1327.6 337.3L1328.0 335.7L1328.4 333.5L1328.8 338.6L1329.2 335.4L1329.7 337.7L1330.1 332.6L1330.5 335.8L1330.9 335.2L1331.3 334.4L1331.8 337.2L1332.2 338.4L1332.6 335.5L1333.0 337.5L1333.4 334.2L1333.9 333.9L1334.3 334.2L1334.7 333.5L1335.1 334.8L1335.5 331.5L1336.0 334.6L1336.4 335.3L1336.8 333.3L1337.2 332.0L1337.6 330.2L1338.1 333.9L1338.5 333.0L1338.9 334.0L1339.3 332.2L1339.7 333.9L1340.2 333.6L1340.6 333.7L1341.0 333.9L1341.4 334.4L1341.8 335.1L1342.3 332.1L1342.7 334.5L1343.1 332.9L1343.5 331.9L1343.9 330.6L1344.4 334.8L1344.8 333.0L1345.2 331.5L1345.6 332.4L1346.0 332.7L1346.5 331.4L1346.9 330.6L1347.3 331.7L1347.7 330.5L1348.1 329.8L1348.6 331.1L1349.0 326.0L1349.4 325.0L1349.8 326.5L1350.2 327.5L1350.7 326.1L1351.1 326.6L1351.5 321.9L1351.9 325.6L1352.3 325.2L1352.8 324.5L1353.2 321.4L1353.6 322.2L1354.0 322.2L1354.4 322.5L1354.9 318.2L1355.3 314.7L1355.7 316.1L1356.1 316.7L1356.5 315.1L1357.0 317.4L1357.4 313.3L1357.8 311.6L1358.2 311.6L1358.6 312.1L1359.1 308.2L1359.5 305.5L1359.9 303.7L1360.3 306.2L1360.7 302.8L1361.2 300.2L1361.6 301.0L1362.0 298.8L1362.4 294.4L1362.8 297.0L1363.3 294.9L1363.7 288.9L1364.1 288.7L1364.5 290.1L1364.9 288.4L1365.4 283.9L1365.8 279.3L1366.2 279.1L1366.6 272.0L1367.0 276.1L1367.5 273.1L1367.9 271.4L1368.3 268.2L1368.7 270.0L1369.1 260.1L1369.6 263.2L1370.0 264.4L1370.4 259.7L1370.8 264.1L1371.2 260.3L1371.7 257.2L1372.1 262.2L1372.5 259.7L1372.9 261.7L1373.3 257.6L1373.8 258.0L1374.2 261.3L1374.6 258.5L1375.0 257.4L1375.4 259.6L1375.9 264.4L1376.3 269.0L1376.7 264.0L1377.1 271.2L1377.5 264.6L1378.0 270.2L1378.4 278.5L1378.8 283.9L1379.2 283.5L1379.6 286.3L1380.1 288.4L1380.5 290.6L1380.9 288.4L1381.3 293.3L1381.7 292.3L1382.2 294.6L1382.6 296.8L1383.0 298.5L1383.4 298.4L1383.8 300.9L1384.3 301.2L1384.7 307.3L1385.1 308.1L1385.5 307.7L1385.9 312.5L1386.4 314.0L1386.8 313.2L1387.2 312.7L1387.6 314.6L1388.0 317.2L1388.5 319.2L1388.9 317.9L1389.3 317.8L1389.7 323.8L1390.1 323.4L1390.6 321.9L1391.0 321.3L1391.4 324.0L1391.8 326.7L1392.2 327.3L1392.7 326.8L1393.1 325.3L1393.5 327.4L1393.9 325.3L1394.3 325.7L1394.8 325.3L1395.2 325.9L1395.6 330.8L1396.0 324.8L1396.4 328.1L1396.9 326.2L1397.3 326.7L1397.7 329.7L1398.1 327.3L1398.5 330.1L1399.0 335.2L1399.4 330.8L1399.8 331.6L1400.2 329.4L1400.6 331.5L1401.1 328.2L1401.5 330.8L1401.9 331.0L1402.3 335.7L1402.7 332.9L1403.2 332.5L1403.6 332.8L1404.0 332.2L1404.4 335.6L1404.8 335.9L1405.3 332.8L1405.7 334.8L1406.1 332.8L1406.5 334.1L1406.9 334.4L1407.4 332.3L1407.8 332.4L1408.2 334.8L1408.6 329.8L1409.0 332.8L1409.5 331.8L1409.9 330.8L1410.3 333.6L1410.7 334.4L1411.1 336.2L1411.6 331.5L1412.0 337.8L1412.4 335.0L1412.8 337.4L1413.2 335.9L1413.7 334.6L1414.1 336.0L1414.5 340.7L1414.9 339.8L1415.3 335.7L1415.8 335.9L1416.2 337.9L1416.6 337.1L1417.0 336.2L1417.4 335.0L1417.9 334.4L1418.3 338.2L1418.7 338.9L1419.1 340.6L1419.5 336.4L1420.0 339.1L1420.4 338.0L1420.8 339.0L1421.2 336.5L1421.6 335.3L1422.1 334.0L1422.5 337.6L1422.9 337.0L1423.3 338.7L1423.7 336.3L1424.2 341.6L1424.6 335.6L1425.0 336.6L1425.4 335.8L1425.8 336.4L1426.3 334.6L1426.7 333.0L1427.1 334.0L1427.5 337.4L1427.9 336.0L1428.4 336.0L1428.8 335.0L1429.2 337.0L1429.6 337.0L1430.0 337.4L1430.5 334.3L1430.9 336.6L1431.3 339.4L1431.7 336.0L1432.1 336.2L1432.6 335.4L1433.0 333.7L1433.4 333.9L1433.8 336.5L1434.2 335.6L1434.7 339.8L1435.1 335.3L1435.5 334.5L1435.9 336.7L1436.3 335.5L1436.8 338.1L1437.2 335.2L1437.6 335.5L1438.0 332.5L1438.4 335.8L1438.9 336.0L1439.3 337.2L1439.7 335.5L1440.1 336.5L1440.5 337.0L1441.0 338.6L1441.4 336.2L1441.8 338.2L1442.2 336.2L1442.6 337.2L1443.1 335.4L1443.5 334.5L1443.9 334.6L1444.3 337.0L1444.7 331.8L1445.2 331.9L1445.6 334.5L1446.0 332.0L1446.4 331.7L1446.8 332.6L1447.3 337.4L1447.7 331.9L1448.1 331.8L1448.5 331.4L1448.9 332.5L1449.4 332.2L1449.8 327.6L1450.2 330.1L1450.6 331.6L1451.0 324.5L1451.5 328.9L1451.9 327.8L1452.3 326.2L1452.7 325.5L1453.1 322.1L1453.6 328.3L1454.0 323.2L1454.4 323.7L1454.8 325.7L1455.2 318.1L1455.7 320.7L1456.1 320.8L1456.5 320.4L1456.9 318.1L1457.3 319.8L1457.8 317.0L1458.2 318.8L1458.6 317.0L1459.0 312.0L1459.4 313.1L1459.9 317.6L1460.3 310.8L1460.7 310.1L1461.1 307.0L1461.5 308.9L1462.0 306.8L1462.4 308.3L1462.8 311.1L1463.2 309.1L1463.6 310.3L1464.1 314.5L1464.5 313.3L1464.9 314.9L1465.3 316.4L1465.7 313.7L1466.2 315.2L1466.6 313.3L1467.0 319.5L1467.4 318.4L1467.8 320.0L1468.3 319.0L1468.7 322.5L1469.1 324.3L1469.5 324.7L1469.9 322.1L1470.4 323.9L1470.8 326.9L1471.2 326.1L1471.6 328.5L1472.0 329.9L1472.5 327.5L1472.9 329.5L1473.3 328.2L1473.7 331.6L1474.1 332.2L1474.6 335.4L1475.0 332.3L1475.4 331.0L1475.8 334.1L1476.2 333.8L1476.7 334.2L1477.1 336.4L1477.5 334.1L1477.9 336.2L1478.3 331.9L1478.8 337.1L1479.2 336.3L1479.6 336.0L1480.0 335.6L1480.4 339.0L1480.9 336.3L1481.3 339.3L1481.7 336.8L1482.1 337.0L1482.5 337.9L1483.0 340.2L1483.4 337.4L1483.8 338.2L1484.2 338.1L1484.6 338.3L1485.1 336.9L1485.5 340.9L1485.9 341.1L1486.3 338.6L1486.7 339.7L1487.2 337.6L1487.6 341.3L1488.0 341.2L1488.4 339.6L1488.8 336.6L1489.3 339.0L1489.7 338.5L1490.1 337.7L1490.5 338.9L1490.9 335.9L1491.4 337.2L1491.8 336.0L1492.2 337.8L1492.6 340.0L1493.0 337.6L1493.5 339.3L1493.9 337.6L1494.3 337.7L1494.7 340.1L1495.1 339.6L1495.6 341.0L1496.0 340.2L1496.4 337.5L1496.8 335.0L1497.2 337.9L1497.7 336.4L1498.1 336.5L1498.5 336.4L1498.9 338.5L1499.3 338.7L1499.8 339.8L1500.2 342.1L1500.6 337.7L1501.0 339.6L1501.4 338.4L1501.9 338.5L1502.3 340.7L1502.7 341.1L1503.1 337.9L1503.5 342.0L1504.0 339.3L1504.4 342.1L1504.8 340.6L1505.2 342.0L1505.6 341.9L1506.1 339.8L1506.5 340.6L1506.9 338.9L1507.3 338.8L1507.7 340.2L1508.2 342.6L1508.6 340.2L1509.0 340.2L1509.4 342.5L1509.8 339.8L1510.3 339.5L1510.7 338.1L1511.1 340.2L1511.5 341.3L1511.9 340.8L1512.4 342.1L1512.8 342.2L1513.2 343.5L1513.6 343.0L1514.0 341.3L1514.5 342.4L1514.9 344.0L1515.3 342.2L1515.7 339.9L1516.1 342.2L1516.6 341.1L1517.0 345.3L1517.4 342.7L1517.8 339.4L1518.2 340.8L1518.7 342.6L1519.1 339.6L1519.5 341.2L1519.9 341.3L1520.3 341.1L1520.8 340.8L1521.2 341.7L1521.6 338.6L1522.0 339.3L1522.4 339.1L1522.9 339.7L1523.3 339.2L1523.7 339.8L1524.1 339.9"/>
<path fill="none" stroke="#00ff00" stroke-width="5.4" stroke-linejoin="round" stroke-linecap="butt" d="M165.0 514.3L165.4 513.7L165.8 513.1L166.3 509.5L166.7 516.0L167.1 515.9L167.5 514.3L167.9 515.9L168.4 515.4L168.8 513.9L169.2 517.1L169.6 514.6L170.0 514.4L170.5 513.0L170.9 515.6L171.3 514.8L171.7 515.7L172.1 514.2L172.6 515.0L173.0 513.7L173.4 516.7L173.8 514.9L174.2 515.4L174.7 515.3L175.1 512.4L175.5 515.9L175.9 518.0L176.3 513.2L176.8 513.0L177.2 513.4L177.6 517.8L178.0 515.7L178.4 517.4L178.9 516.4L179.3 515.1L179.7 515.2L180.1 514.1L180.5 516.5L181.0 512.9L181.4 513.9L181.8 515.0L182.2 517.8L182.6 513.8L183.1 512.9L183.5 513.6L183.9 516.2L184.3 514.9L184.7 516.4L185.2 510.5L185.6 516.6L186.0 516.0L186.4 512.0L186.8 514.0L187.3 516.4L187.7 516.2L188.1 516.2L188.5 519.0L188.9 515.2L189.4 514.3L189.8 513.0L190.2 513.9L190.6 513.9L191.0 514.1L191.5 513.7L191.9 514.9L192.3 511.6L192.7 512.3L193.1 510.8L193.6 515.8L194.0 514.9L194.4 517.5L194.8 515.8L195.2 513.7L195.7 515.4L196.1 515.3L196.5 512.2L196.9 513.3L197.3 518.3L197.8 516.3L198.2 516.9L198.6 515.2L199.0 515.3L199.4 517.1L199.9 514.4L200.3 513.4L200.7 514.8L201.1 513.8L201.5 516.8L202.0 519.4L202.4 515.7L202.8 519.4L203.2 516.1L203.6 517.3L204.1 515.1L204.5 515.2L204.9 517.1L205.3 515.8L205.7 514.9L206.2 515.7L206.6 515.2L207.0 514.5L207.4 516.4L207.8 517.7L208.3 517.9L208.7 517.2L209.1 519.7L209.5 515.5L209.9 514.4L210.4 518.0L210.8 513.6L211.2 516.9L211.6 514.4L212.0 516.6L212.5 512.2L212.9 517.1L213.3 515.9L213.7 514.8L214.1 519.0L214.6 518.1L215.0 516.3L215.4 515.4L215.8 515.6L216.2 514.4L216.7 516.4L217.1 515.3L217.5 513.4L217.9 513.4L218.3 513.4L218.8 512.7L219.2 513.5L219.6 514.6L220.0 515.7L220.4 516.9L220.9 514.1L221.3 516.0L221.7 513.1L222.1 516.2L222.5 512.3L223.0 512.8L223.4 509.9L223.8 509.9L224.2 512.5L224.6 513.1L225.1 514.4L225.5 512.2L225.9 516.0L226.3 514.7L226.7 519.6L227.2 515.9L227.6 519.2L228.0 514.7L228.4 517.3L228.8 514.6L229.3 515.3L229.7 516.0L230.1 515.3L230.5 515.9L230.9 517.2L231.4 516.8L231.8 514.7L232.2 512.5L232.6 514.0L233.0 515.7L233.5 513.0L233.9 517.9L234.3 516.5L234.7 516.1L235.1 517.3L235.6 516.7L236.0 515.3L236.4 513.5L236.8 515.6L237.2 516.2L237.7 513.8L238.1 516.9L238.5 516.1L238.9 511.5L239.3 515.2L239.8 511.9L240.2 516.5L240.6 515.3L241.0 512.0L241.4 512.8L241.9 514.6L242.3 514.7L242.7 518.2L243.1 518.0L243.5 517.1L244.0 518.7L244.4 514.2L244.8 518.9L245.2 518.9L245.6 516.0L246.1 514.6L246.5 516.3L246.9 518.2L247.3 515.4L247.7 512.9L248.2 516.8L248.6 511.1L249.0 515.6L249.4 514.4L249.8 516.3L250.3 514.1L250.7 518.7L251.1 517.3L251.5 513.2L251.9 512.5L252.4 514.3L252.8 517.3L253.2 514.9L253.6 514.7L254.0 514.6L254.5 516.9L254.9 516.6L255.3 516.7L255.7 515.1L256.1 518.6L256.6 518.9L257.0 514.2L257.4 520.3L257.8 517.2L258.2 514.4L258.7 512.6L259.1 516.4L259.5 515.8L259.9 514.4L260.3 513.0L260.8 518.1L261.2 514.5L261.6 515.2L262.0 521.3L262.4 519.9L262.9 518.1L263.3 515.3L263.7 517.8L264.1 512.7L264.5 516.1L265.0 515.6L265.4 514.9L265.8 515.8L266.2 519.5L266.6 519.4L267.1 519.0L267.5 519.5L267.9 516.1L268.3 514.5L268.7 513.4L269.2 515.6L269.6 518.8L270.0 517.3L270.4 517.8L270.8 514.7L271.3 515.5L271.7 515.3L272.1 514.1L272.5 519.6L272.9 518.9L273.4 516.1L273.8 515.8L274.2 516.1L274.6 513.4L275.0 516.1L275.5 513.0L275.9 515.2L276.3 514.5L276.7 516.7L277.1 514.9L277.6 515.1L278.0 516.1L278.4 516.4L278.8 516.9L279.2 516.7L279.7 519.2L280.1 517.2L280.5 515.1L280.9 516.8L281.3 514.2L281.8 518.4L282.2 517.8L282.6 515.0L283.0 519.2L283.4 518.8L283.9 512.6L284.3 515.2L284.7 515.5L285.1 512.5L285.5 513.4L286.0 513.3L286.4 516.0L286.8 515.8L287.2 518.8L287.6 514.2L288.1 516.7L288.5 514.2L288.9 515.2L289.3 512.7L289.7 511.3L290.2 513.1L290.6 516.0L291.0 517.1L291.4 515.7L291.8 514.6L292.3 511.9L292.7 515.6L293.1 514.6L293.5 512.2L293.9 513.2L294.4 512.0L294.8 517.2L295.2 516.1L295.6 516.4L296.0 517.1L296.5 516.3L296.9 515.5L297.3 514.5L297.7 513.8L298.1 512.2L298.6 516.4L299.0 520.6L299.4 514.7L299.8 517.2L300.2 517.7L300.7 516.0L301.1 517.9L301.5 515.1L301.9 517.6L302.3 514.5L302.8 515.6L303.2 516.5L303.6 514.6L304.0 512.1L304.4 515.1L304.9 517.7L305.3 516.7L305.7 517.3L306.1 515.3L306.5 518.1L307.0 518.8L307.4 517.4L307.8 519.9L308.2 516.5L308.6 515.5L309.1 514.7L309.5 519.2L309.9 517.0L310.3 520.2L310.7 519.6L311.2 520.6L311.6 520.0L312.0 517.2L312.4 518.0L312.8 518.1L313.3 514.0L313.7 519.7L314.1 519.4L314.5 518.7L314.9 517.3L315.4 518.1L315.8 515.4L316.2 516.6L316.6 515.7L317.0 517.5L317.5 516.4L317.9 518.3L318.3 519.7L318.7 515.6L319.1 518.5L319.6 512.8L320.0 513.0L320.4 517.2L320.8 516.8L321.2 517.4L321.7 514.7L322.1 517.5L322.5 516.9L322.9 518.0L323.3 516.2L323.8 517.2L324.2 513.9L324.6 516.1L325.0 515.7L325.4 518.4L325.9 516.0L326.3 516.5L326.7 519.1L327.1 520.6L327.5 518.3L328.0 517.8L328.4 516.0L328.8 517.5L329.2 516.7L329.6 518.9L330.1 516.9L330.5 514.4L330.9 514.8L331.3 514.0L331.7 513.0L332.2 517.3L332.6 516.4L333.0 513.3L333.4 518.0L333.8 515.9L334.3 514.3L334.7 515.8L335.1 514.7L335.5 513.3L335.9 511.7L336.4 515.2L336.8 514.9L337.2 510.6L337.6 516.1L338.0 516.4L338.5 514.2L338.9 515.0L339.3 515.6L339.7 514.8L340.1 515.4L340.6 518.5L341.0 514.0L341.4 516.5L341.8 516.5L342.2 514.7L342.7 516.5L343.1 514.3L343.5 515.4L343.9 517.7L344.3 517.6L344.8 515.5L345.2 520.2L345.6 515.1L346.0 516.0L346.4 515.0L346.9 514.0L347.3 517.4L347.7 514.1L348.1 517.0L348.5 516.7L349.0 513.0L349.4 517.6L349.8 515.1L350.2 521.1L350.6 516.1L351.1 515.3L351.5 513.6L351.9 514.2L352.3 514.8L352.7 513.8L353.2 513.3L353.6 514.0L354.0 515.8L354.4 518.7L354.8 513.4L355.3 515.7L355.7 514.9L356.1 514.2L356.5 514.4L356.9 515.6L357.4 518.0L357.8 515.9L358.2 515.6L358.6 518.4L359.0 517.4L359.5 516.2L359.9 517.4L360.3 516.1L360.7 519.0L361.1 517.0L361.6 515.0L362.0 512.7L362.4 517.3L362.8 514.0L363.2 517.1L363.7 512.1L364.1 515.3L364.5 514.4L364.9 516.2L365.3 517.9L365.8 515.2L366.2 517.2L366.6 518.3L367.0 517.5L367.4 518.4L367.9 519.0L368.3 518.4L368.7 517.0L369.1 515.5L369.5 513.2L370.0 513.4L370.4 514.1L370.8 517.3L371.2 514.7L371.6 512.7L372.1 516.3L372.5 514.2L372.9 513.4L373.3 514.1L373.7 515.6L374.2 510.1L374.6 512.8L375.0 515.0L375.4 514.2L375.8 513.3L376.3 514.7L376.7 518.0L377.1 514.6L377.5 516.7L377.9 517.1L378.4 514.4L378.8 515.8L379.2 514.8L379.6 514.1L380.0 512.6L380.5 516.3L380.9 513.4L381.3 511.9L381.7 510.8L382.1 516.2L382.6 514.9L383.0 513.0L383.4 512.8L383.8 511.2L384.2 514.7L384.7 514.0L385.1 510.6L385.5 514.4L385.9 513.4L386.3 511.1L386.8 511.4L387.2 511.5L387.6 512.7L388.0 512.6L388.4 509.7L388.9 515.0L389.3 513.1L389.7 514.2L390.1 514.7L390.5 511.3L391.0 513.1L391.4 513.5L391.8 513.5L392.2 511.6L392.6 510.0L393.1 511.2L393.5 508.2L393.9 508.5L394.3 505.5L394.7 510.3L395.2 507.4L395.6 507.6L396.0 509.3L396.4 509.5L396.8 512.0L397.3 507.2L397.7 504.2L398.1 507.3L398.5 503.9L398.9 504.3L399.4 500.9L399.8 501.0L400.2 499.6L400.6 498.4L401.0 495.1L401.5 495.9L401.9 496.2L402.3 496.3L402.7 492.1L403.1 489.9L403.6 491.1L404.0 489.7L404.4 489.5L404.8 485.1L405.2 481.7L405.7 484.2L406.1 482.8L406.5 476.6L406.9 477.3L407.3 471.9L407.8 473.6L408.2 469.8L408.6 470.2L409.0 467.9L409.4 467.4L409.9 465.2L410.3 465.1L410.7 462.6L411.1 456.9L411.5 452.4L412.0 459.7L412.4 459.1L412.8 451.7L413.2 454.8L413.6 450.2L414.1 451.1L414.5 453.0L414.9 459.9L415.3 455.9L415.7 457.7L416.2 464.5L416.6 456.0L417.0 465.4L417.4 464.8L417.8 463.1L418.3 464.9L418.7 473.2L419.1 464.9L419.5 469.6L419.9 472.3L420.4 472.7L420.8 474.0L421.2 482.7L421.6 481.4L422.0 477.7L422.5 482.0L422.9 487.0L423.3 487.5L423.7 486.4L424.1 489.7L424.6 491.3L425.0 493.7L425.4 495.0L425.8 491.7L426.2 499.3L426.7 497.4L427.1 502.6L427.5 504.6L427.9 500.1L428.3 499.1L428.8 503.8L429.2 502.8L429.6 502.1L430.0 501.9L430.4 507.9L430.9 503.3L431.3 502.8L431.7 505.5L432.1 505.0L432.5 508.5L433.0 506.9L433.4 506.9L433.8 509.3L434.2 507.4L434.6 510.1L435.1 511.3L435.5 508.8L435.9 508.3L436.3 510.5L436.7 511.8L437.2 511.5L437.6 510.7L438.0 510.1L438.4 510.9L438.8 511.7L439.3 510.1L439.7 508.7L440.1 511.5L440.5 510.7L440.9 511.6L441.4 511.8L441.8 509.7L442.2 508.9L442.6 507.9L443.0 512.2L443.5 512.6L443.9 509.8L444.3 510.7L444.7 515.7L445.1 515.9L445.6 513.5L446.0 514.0L446.4 509.3L446.8 511.6L447.2 513.3L447.7 506.7L448.1 509.7L448.5 512.5L448.9 512.7L449.3 509.6L449.8 510.2L450.2 513.8L450.6 509.4L451.0 506.7L451.4 509.1L451.9 507.9L452.3 510.7L452.7 506.9L453.1 502.9L453.5 507.9L454.0 500.7L454.4 501.2L454.8 501.1L455.2 499.4L455.6 496.8L456.1 496.1L456.5 493.1L456.9 489.6L457.3 491.4L457.7 489.1L458.2 489.0L458.6 488.4L459.0 484.8L459.4 488.7L459.8 487.4L460.3 477.7L460.7 480.7L461.1 478.6L461.5 473.5L461.9 478.9L462.4 475.8L462.8 474.4L463.2 472.9L463.6 476.1L464.0 474.7L464.5 470.3L464.9 469.3L465.3 466.7L465.7 465.0L466.1 462.0L466.6 462.4L467.0 459.7L467.4 460.8L467.8 459.1L468.2 458.0L468.7 458.7L469.1 461.7L469.5 447.4L469.9 453.6L470.3 453.5L470.8 452.9L471.2 449.6L471.6 455.2L472.0 453.9L472.4 455.5L472.9 457.6L473.3 457.8L473.7 455.3L474.1 466.1L474.5 465.0L475.0 464.5L475.4 469.8L475.8 468.6L476.2 466.6L476.6 476.7L477.1 472.9L477.5 476.8L477.9 479.9L478.3 486.6L478.7 487.5L479.2 487.4L479.6 485.9L480.0 489.4L480.4 493.9L480.8 496.6L481.3 496.5L481.7 493.7L482.1 498.3L482.5 495.2L482.9 495.9L483.4 495.2L483.8 496.9L484.2 495.4L484.6 498.1L485.0 500.3L485.5 499.4L485.9 493.1L486.3 494.3L486.7 497.8L487.1 496.8L487.6 500.7L488.0 495.7L488.4 495.4L488.8 497.5L489.2 497.6L489.7 492.4L490.1 493.2L490.5 486.4L490.9 485.1L491.3 489.1L491.8 480.2L492.2 485.0L492.6 481.9L493.0 481.5L493.4 480.0L493.9 476.9L494.3 468.1L494.7 469.6L495.1 470.2L495.5 471.1L496.0 463.9L496.4 461.5L496.8 460.5L497.2 463.9L497.6 451.8L498.1 450.6L498.5 453.1L498.9 442.7L499.3 447.9L499.7 441.7L500.2 435.7L500.6 436.0L501.0 431.9L501.4 432.5L501.8 429.3L502.3 429.8L502.7 420.5L503.1 417.5L503.5 412.0L503.9 411.1L504.4 413.0L504.8 399.8L505.2 405.2L505.6 397.6L506.0 396.4L506.5 396.0L506.9 395.9L507.3 390.7L507.7 389.2L508.1 392.2L508.6 391.4L509.0 390.8L509.4 393.3L509.8 398.1L510.2 395.7L510.7 397.6L511.1 394.1L511.5 400.2L511.9 396.4L512.3 409.6L512.8 408.6L513.2 420.9L513.6 428.8L514.0 421.3L514.4 430.9L514.9 434.5L515.3 433.9L515.7 436.1L516.1 444.2L516.5 450.4L517.0 451.1L517.4 447.8L517.8 453.8L518.2 458.4L518.6 465.9L519.1 466.4L519.5 468.6L519.9 473.6L520.3 471.2L520.7 475.1L521.2 476.2L521.6 474.5L522.0 483.5L522.4 485.1L522.8 489.2L523.3 485.9L523.7 488.2L524.1 493.3L524.5 492.4L524.9 495.7L525.4 488.3L525.8 491.3L526.2 491.1L526.6 493.9L527.0 492.0L527.5 495.0L527.9 497.9L528.3 497.7L528.7 491.2L529.1 496.2L529.6 494.3L530.0 488.7L530.4 488.1L530.8 488.0L531.2 487.3L531.7 484.5L532.1 481.2L532.5 485.5L532.9 483.1L533.3 488.6L533.8 478.5L534.2 486.5L534.6 484.0L535.0 476.7L535.4 478.7L535.9 472.5L536.3 473.2L536.7 466.4L537.1 467.5L537.5 463.5L538.0 461.1L538.4 463.3L538.8 460.2L539.2 461.1L539.6 460.3L540.1 454.3L540.5 453.7L540.9 454.0L541.3 447.9L541.7 453.6L542.2 451.2L542.6 451.0L543.0 445.2L543.4 439.5L543.8 442.2L544.3 441.3L544.7 443.8L545.1 440.9L545.5 440.0L545.9 435.1L546.4 435.2L546.8 429.2L547.2 429.3L547.6 429.1L548.0 431.9L548.5 421.0L548.9 411.8L549.3 417.8L549.7 407.0L550.1 406.5L550.6 405.6L551.0 401.5L551.4 408.1L551.8 404.4L552.2 398.9L552.7 400.1L553.1 397.0L553.5 402.6L553.9 399.3L554.3 398.9L554.8 402.1L555.2 405.4L555.6 409.2L556.0 407.0L556.4 412.7L556.9 416.7L557.3 425.9L557.7 423.4L558.1 414.8L558.5 425.6L559.0 428.9L559.4 436.3L559.8 443.1L560.2 444.0L560.6 438.9L561.1 450.7L561.5 455.0L561.9 459.7L562.3 465.3L562.7 462.1L563.2 470.0L563.6 464.0L564.0 471.3L564.4 474.1L564.8 482.5L565.3 477.9L565.7 477.9L566.1 487.3L566.5 484.9L566.9 492.5L567.4 488.9L567.8 489.4L568.2 496.9L568.6 494.8L569.0 499.2L569.5 494.6L569.9 502.1L570.3 499.5L570.7 502.5L571.1 500.0L571.6 499.8L572.0 503.9L572.4 506.5L572.8 509.6L573.2 507.8L573.7 509.3L574.1 509.6L574.5 514.3L574.9 506.6L575.3 511.2L575.8 508.6L576.2 509.6L576.6 508.3L577.0 511.0L577.4 507.9L577.9 506.9L578.3 508.9L578.7 507.0L579.1 511.4L579.5 512.2L580.0 508.8L580.4 511.9L580.8 510.0L581.2 512.1L581.6 511.2L582.1 514.8L582.5 511.7L582.9 511.0L583.3 511.5L583.7 516.1L584.2 511.4L584.6 513.9L585.0 513.9L585.4 510.2L585.8 513.3L586.3 515.3L586.7 514.3L587.1 512.1L587.5 515.5L587.9 514.5L588.4 517.6L588.8 512.8L589.2 513.2L589.6 514.1L590.0 514.3L590.5 514.5L590.9 514.3L591.3 513.0L591.7 512.1L592.1 513.5L592.6 511.4L593.0 511.9L593.4 512.9L593.8 515.1L594.2 515.4L594.7 512.4L595.1 516.0L595.5 517.1L595.9 514.7L596.3 511.2L596.8 509.3L597.2 514.6L597.6 513.4L598.0 512.1L598.4 510.2L598.9 515.0L599.3 515.0L599.7 513.1L600.1 513.7L600.5 510.3L601.0 516.4L601.4 511.6L601.8 515.8L602.2 515.1L602.6 514.7L603.1 518.1L603.5 514.2L603.9 515.5L604.3 516.4L604.7 516.7L605.2 514.8L605.6 517.3L606.0 516.2L606.4 515.7L606.8 515.0L607.3 515.0L607.7 518.8L608.1 515.0L608.5 513.2L608.9 512.1L609.4 512.5L609.8 510.6L610.2 514.1L610.6 513.7L611.0 513.3L611.5 512.7L611.9 515.8L612.3 516.2L612.7 514.8L613.1 517.5L613.6 516.0L614.0 514.2L614.4 514.9L614.8 511.9L615.2 515.6L615.7 512.1L616.1 514.9L616.5 515.7L616.9 514.5L617.3 516.6L617.8 513.3L618.2 511.7L618.6 514.1L619.0 514.0L619.4 515.9L619.9 514.6L620.3 516.0L620.7 515.9L621.1 516.4L621.5 514.9L622.0 514.4L622.4 513.7L622.8 518.8L623.2 511.5L623.6 513.9L624.1 517.4L624.5 516.0L624.9 518.8L625.3 516.8L625.7 514.6L626.2 515.5L626.6 513.9L627.0 518.6L627.4 518.2L627.8 516.1L628.3 517.5L628.7 515.5L629.1 513.0L629.5 514.5L629.9 512.9L630.4 514.2L630.8 516.1L631.2 517.8L631.6 519.0L632.0 516.2L632.5 517.5L632.9 518.2L633.3 517.4L633.7 511.5L634.1 514.8L634.6 517.1L635.0 513.7L635.4 515.5L635.8 516.9L636.2 511.7L636.7 514.2L637.1 515.8L637.5 514.3L637.9 512.1L638.3 515.7L638.8 514.1L639.2 515.9L639.6 514.3L640.0 513.4L640.4 514.7L640.9 512.2L641.3 512.2L641.7 511.8L642.1 514.1L642.5 515.7L643.0 513.4L643.4 512.7L643.8 512.2L644.2 512.0L644.6 514.2L645.1 509.3L645.5 516.8L645.9 513.7L646.3 517.2L646.7 515.5L647.2 513.4L647.6 515.9L648.0 514.5L648.4 513.5L648.8 514.0L649.3 512.2L649.7 511.3L650.1 511.2L650.5 509.1L650.9 510.9L651.4 511.0L651.8 510.3L652.2 511.1L652.6 509.7L653.0 511.6L653.5 507.2L653.9 509.9L654.3 510.6L654.7 511.9L655.1 512.0L655.6 512.1L656.0 510.2L656.4 511.4L656.8 506.5L657.2 507.5L657.7 502.4L658.1 509.4L658.5 508.8L658.9 506.8L659.3 506.6L659.8 505.1L660.2 506.3L660.6 509.2L661.0 508.9L661.4 505.3L661.9 506.7L662.3 506.3L662.7 507.5L663.1 507.7L663.5 504.1L664.0 503.5L664.4 501.9L664.8 497.0L665.2 501.1L665.6 500.4L666.1 502.3L666.5 496.8L666.9 501.7L667.3 496.9L667.7 498.1L668.2 500.3L668.6 492.9L669.0 492.3L669.4 497.1L669.8 492.0L670.3 491.9L670.7 494.3L671.1 493.0L671.5 494.4L671.9 492.2L672.4 491.7L672.8 493.2L673.2 494.2L673.6 487.4L674.0 490.2L674.5 488.7L674.9 484.2L675.3 483.8L675.7 480.8L676.1 479.3L676.6 481.7L677.0 480.9L677.4 483.1L677.8 477.0L678.2 478.4L678.7 478.8L679.1 478.9L679.5 479.6L679.9 472.4L680.3 477.5L680.8 473.1L681.2 472.3L681.6 474.9L682.0 471.9L682.4 473.6L682.9 471.7L683.3 471.3L683.7 470.0L684.1 467.5L684.5 470.3L685.0 474.6L685.4 474.9L685.8 469.8L686.2 477.6L686.6 475.6L687.1 472.9L687.5 472.8L687.9 476.6L688.3 472.4L688.7 475.1L689.2 479.3L689.6 478.0L690.0 481.1L690.4 485.2L690.8 482.3L691.3 485.4L691.7 491.7L692.1 485.0L692.5 486.9L692.9 488.5L693.4 488.8L693.8 492.9L694.2 491.7L694.6 494.3L695.0 488.2L695.5 496.4L695.9 496.2L696.3 492.2L696.7 497.2L697.1 495.6L697.6 497.5L698.0 500.5L698.4 498.4L698.8 496.7L699.2 499.6L699.7 497.2L700.1 499.5L700.5 500.8L700.9 500.5L701.3 505.9L701.8 505.1L702.2 501.9L702.6 506.2L703.0 500.2L703.4 502.1L703.9 503.2L704.3 506.0L704.7 505.2L705.1 504.6L705.5 506.7L706.0 506.5L706.4 507.9L706.8 504.1L707.2 503.4L707.6 506.0L708.1 508.6L708.5 509.2L708.9 510.7L709.3 510.9L709.7 510.6L710.2 511.2L710.6 508.8L711.0 511.9L711.4 506.9L711.8 509.2L712.3 507.3L712.7 511.2L713.1 506.9L713.5 511.8L713.9 507.4L714.4 510.2L714.8 509.3L715.2 507.6L715.6 512.7L716.0 509.7L716.5 513.5L716.9 509.1L717.3 509.9L717.7 507.8L718.1 512.9L718.6 513.9L719.0 512.0L719.4 510.6L719.8 509.1L720.2 514.8L720.7 511.4L721.1 506.6L721.5 510.1L721.9 505.8L722.3 513.0L722.8 513.4L723.2 512.4L723.6 508.5L724.0 508.0L724.4 506.1L724.9 509.3L725.3 507.0L725.7 507.6L726.1 507.3L726.5 508.2L727.0 510.1L727.4 512.0L727.8 509.0L728.2 508.6L728.6 505.4L729.1 503.3L729.5 503.3L729.9 506.7L730.3 504.9L730.7 506.2L731.2 504.6L731.6 503.3L732.0 501.2L732.4 502.7L732.8 500.4L733.3 506.3L733.7 502.9L734.1 500.3L734.5 503.4L734.9 498.1L735.4 500.3L735.8 497.4L736.2 497.9L736.6 497.0L737.0 499.4L737.5 501.4L737.9 495.1L738.3 492.9L738.7 500.4L739.1 497.4L739.6 497.5L740.0 493.0L740.4 496.3L740.8 496.9L741.2 490.4L741.7 494.1L742.1 490.5L742.5 488.1L742.9 490.5L743.3 492.8L743.8 487.9L744.2 488.2L744.6 494.7L745.0 493.6L745.4 494.2L745.9 490.9L746.3 492.8L746.7 493.5L747.1 494.6L747.5 494.7L748.0 500.0L748.4 496.3L748.8 493.0L749.2 496.1L749.6 498.5L750.1 501.5L750.5 498.2L750.9 498.5L751.3 500.4L751.7 499.5L752.2 498.9L752.6 501.9L753.0 504.6L753.4 504.4L753.8 502.5L754.3 504.4L754.7 502.8L755.1 507.5L755.5 506.9L755.9 506.8L756.4 503.5L756.8 511.6L757.2 502.4L757.6 506.1L758.0 507.4L758.5 511.0L758.9 507.2L759.3 510.9L759.7 511.3L760.1 510.3L760.6 513.3L761.0 514.3L761.4 513.2L761.8 511.7L762.2 507.8L762.7 516.2L763.1 512.8L763.5 509.9L763.9 514.6L764.3 517.3L764.8 514.8L765.2 513.9L765.6 520.8L766.0 517.7L766.4 516.7L766.9 518.3L767.3 512.7L767.7 516.4L768.1 516.1L768.5 521.3L769.0 516.1L769.4 517.2L769.8 516.1L770.2 517.2L770.6 518.8L771.1 519.9L771.5 519.3L771.9 522.5L772.3 518.8L772.7 518.7L773.2 519.7L773.6 517.0L774.0 513.8L774.4 512.5L774.8 516.3L775.3 514.3L775.7 517.7L776.1 515.7L776.5 514.8L776.9 519.6L777.4 521.6L777.8 520.1L778.2 520.7L778.6 520.3L779.0 522.8L779.5 520.4L779.9 519.7L780.3 517.6L780.7 516.4L781.1 523.2L781.6 522.8L782.0 518.3L782.4 520.5L782.8 520.6L783.2 519.7L783.7 519.1L784.1 520.8L784.5 517.6L784.9 519.2L785.3 520.7L785.8 520.3L786.2 520.1L786.6 520.6L787.0 521.1L787.4 518.1L787.9 519.7L788.3 519.4L788.7 523.4L789.1 518.8L789.5 520.9L790.0 523.1L790.4 521.0L790.8 519.8L791.2 519.4L791.6 520.9L792.1 518.3L792.5 520.9L792.9 520.7L793.3 518.8L793.7 521.7L794.2 519.6L794.6 521.4L795.0 522.0L795.4 521.8L795.8 519.7L796.3 521.3L796.7 518.7L797.1 519.6L797.5 524.3L797.9 521.4L798.4 523.2L798.8 521.0L799.2 521.9L799.6 519.8L800.0 522.6L800.5 520.4L800.9 522.2L801.3 521.0L801.7 520.3L802.1 520.0L802.6 519.4L803.0 519.7L803.4 518.0L803.8 515.4L804.2 521.3L804.7 524.8L805.1 523.4L805.5 525.5L805.9 522.4L806.3 519.8L806.8 518.5L807.2 521.3L807.6 520.9L808.0 521.1L808.4 522.9L808.9 520.6L809.3 523.8L809.7 522.6L810.1 522.9L810.5 523.9L811.0 521.8L811.4 524.5L811.8 524.1L812.2 519.8L812.6 526.2L813.1 521.1L813.5 521.9L813.9 523.2L814.3 518.2L814.7 524.6L815.2 524.3L815.6 520.7L816.0 521.3L816.4 521.7L816.8 521.2L817.3 523.6L817.7 522.0L818.1 522.4L818.5 524.0L818.9 525.2L819.4 526.1L819.8 521.1L820.2 519.8L820.6 523.0L821.0 523.5L821.5 521.2L821.9 522.2L822.3 523.1L822.7 521.8L823.1 524.5L823.6 519.1L824.0 520.9L824.4 524.9L824.8 522.5L825.2 519.2L825.7 521.1L826.1 522.2L826.5 523.8L826.9 521.1L827.3 522.0L827.8 518.5L828.2 520.7L828.6 523.8L829.0 520.7L829.4 522.4L829.9 519.2L830.3 525.7L830.7 522.1L831.1 523.5L831.5 519.9L832.0 520.2L832.4 525.4L832.8 521.6L833.2 522.2L833.6 524.2L834.1 524.2L834.5 520.1L834.9 522.4L835.3 524.3L835.7 524.3L836.2 525.6L836.6 524.7L837.0 524.6L837.4 524.9L837.8 522.9L838.3 521.5L838.7 521.5L839.1 522.1L839.5 522.1L839.9 521.6L840.4 522.0L840.8 523.0L841.2 522.7L841.6 523.6L842.0 520.1L842.5 524.1L842.9 520.3L843.3 523.5L843.7 521.9L844.1 523.1L844.6 524.6L845.0 519.9L845.4 524.5L845.8 524.6L846.2 523.8L846.7 525.7L847.1 524.3L847.5 524.7L847.9 522.8L848.3 524.8L848.8 524.1L849.2 524.0L849.6 521.6L850.0 527.1L850.4 526.7L850.9 522.3L851.3 521.4L851.7 521.9L852.1 523.2L852.5 522.1L853.0 519.4L853.4 517.8L853.8 522.2L854.2 520.9L854.6 521.2L855.1 522.0L855.5 519.6L855.9 520.5L856.3 521.0L856.7 521.4L857.2 523.4L857.6 520.6L858.0 518.1L858.4 522.3L858.8 520.6L859.3 519.3L859.7 517.2L860.1 520.0L860.5 521.3L860.9 521.4L861.4 519.8L861.8 521.3L862.2 519.7L862.6 520.1L863.0 522.5L863.5 521.2L863.9 521.6L864.3 523.6L864.7 523.1L865.1 519.9L865.6 520.2L866.0 519.5L866.4 519.6L866.8 521.9L867.2 520.0L867.7 517.3L868.1 521.0L868.5 518.3L868.9 518.7L869.3 520.3L869.8 521.1L870.2 520.7L870.6 517.2L871.0 520.7L871.4 519.5L871.9 517.7L872.3 515.6L872.7 521.2L873.1 519.3L873.5 519.4L874.0 519.7L874.4 518.1L874.8 515.9L875.2 519.3L875.6 519.8L876.1 519.8L876.5 522.3L876.9 522.7L877.3 519.2L877.7 518.8L878.2 521.7L878.6 520.1L879.0 520.0L879.4 521.4L879.8 519.8L880.3 519.4L880.7 520.3L881.1 518.7L881.5 520.0L881.9 518.7L882.4 517.9L882.8 520.1L883.2 519.7L883.6 522.8L884.0 523.7L884.5 521.1L884.9 521.4L885.3 519.1L885.7 519.0L886.1 519.1L886.6 519.1L887.0 519.4L887.4 519.3L887.8 522.5L888.2 519.3L888.7 517.7L889.1 521.5L889.5 520.6L889.9 522.3L890.3 523.6L890.8 519.3L891.2 520.2L891.6 520.0L892.0 517.6L892.4 519.9L892.9 520.3L893.3 521.7L893.7 521.6L894.1 521.1L894.5 520.5L895.0 517.4L895.4 514.7L895.8 517.1L896.2 520.9L896.6 518.4L897.1 513.9L897.5 515.8L897.9 517.6L898.3 513.8L898.7 518.8L899.2 515.2L899.6 518.9L900.0 517.9L900.4 523.2L900.8 514.4L901.3 516.6L901.7 514.1L902.1 518.8L902.5 516.0L902.9 517.0L903.4 516.4L903.8 514.4L904.2 514.2L904.6 512.6L905.0 513.5L905.5 515.8L905.9 517.0L906.3 516.0L906.7 514.7L907.1 513.0L907.6 514.0L908.0 510.5L908.4 511.7L908.8 511.5L909.2 509.4L909.7 507.9L910.1 507.9L910.5 509.4L910.9 506.9L911.3 504.9L911.8 506.7L912.2 505.2L912.6 509.9L913.0 506.9L913.4 502.9L913.9 505.6L914.3 505.6L914.7 505.6L915.1 503.8L915.5 502.9L916.0 503.0L916.4 504.4L916.8 503.2L917.2 505.9L917.6 499.3L918.1 503.5L918.5 498.9L918.9 494.5L919.3 494.3L919.7 491.8L920.2 491.0L920.6 496.1L921.0 492.2L921.4 493.6L921.8 488.5L922.3 489.4L922.7 485.3L923.1 488.1L923.5 482.7L923.9 480.7L924.4 481.0L924.8 485.3L925.2 479.4L925.6 479.2L926.0 473.1L926.5 472.2L926.9 471.9L927.3 463.6L927.7 470.2L928.1 466.0L928.6 463.7L929.0 462.1L929.4 461.4L929.8 460.0L930.2 464.5L930.7 462.5L931.1 463.8L931.5 458.4L931.9 455.9L932.3 462.7L932.8 457.0L933.2 458.3L933.6 462.0L934.0 464.1L934.4 458.1L934.9 460.8L935.3 461.2L935.7 461.7L936.1 460.9L936.5 464.5L937.0 462.4L937.4 463.9L937.8 459.1L938.2 466.4L938.6 461.6L939.1 472.4L939.5 474.0L939.9 473.9L940.3 477.8L940.7 478.9L941.2 479.1L941.6 482.5L942.0 482.4L942.4 482.5L942.8 483.6L943.3 492.0L943.7 490.2L944.1 490.7L944.5 495.0L944.9 494.2L945.4 495.4L945.8 498.0L946.2 499.3L946.6 498.7L947.0 494.4L947.5 498.9L947.9 500.0L948.3 503.0L948.7 503.1L949.1 503.3L949.6 506.5L950.0 504.9L950.4 504.4L950.8 506.4L951.2 507.6L951.7 507.9L952.1 510.0L952.5 506.8L952.9 510.2L953.3 509.7L953.8 508.7L954.2 509.5L954.6 508.5L955.0 509.7L955.4 509.8L955.9 513.4L956.3 510.3L956.7 508.3L957.1 511.3L957.5 511.7L958.0 510.7L958.4 512.6L958.8 509.2L959.2 508.9L959.6 512.3L960.1 510.7L960.5 512.4L960.9 513.1L961.3 513.6L961.7 513.3L962.2 514.5L962.6 516.2L963.0 512.3L963.4 513.9L963.8 514.9L964.3 513.6L964.7 512.0L965.1 516.0L965.5 518.0L965.9 516.6L966.4 514.7L966.8 519.1L967.2 519.9L967.6 513.4L968.0 510.6L968.5 515.3L968.9 515.0L969.3 516.8L969.7 518.4L970.1 517.4L970.6 519.3L971.0 519.2L971.4 518.4L971.8 517.3L972.2 517.2L972.7 518.5L973.1 518.1L973.5 517.4L973.9 520.5L974.3 518.5L974.8 518.4L975.2 519.2L975.6 516.3L976.0 518.2L976.4 520.5L976.9 519.6L977.3 517.2L977.7 519.2L978.1 517.8L978.5 518.8L979.0 519.7L979.4 517.1L979.8 520.7L980.2 519.1L980.6 520.1L981.1 519.5L981.5 520.1L981.9 517.8L982.3 521.6L982.7 521.5L983.2 520.6L983.6 518.1L984.0 521.8L984.4 522.0L984.8 516.4L985.3 521.0L985.7 520.8L986.1 516.1L986.5 522.3L986.9 521.8L987.4 522.2L987.8 521.3L988.2 519.8L988.6 519.7L989.0 521.3L989.5 522.5L989.9 519.6L990.3 519.5L990.7 520.5L991.1 515.9L991.6 520.1L992.0 518.3L992.4 514.3L992.8 520.0L993.2 517.6L993.7 520.3L994.1 520.5L994.5 516.1L994.9 516.7L995.3 518.0L995.8 514.7L996.2 518.1L996.6 517.8L997.0 519.2L997.4 515.0L997.9 518.3L998.3 518.3L998.7 515.4L999.1 519.3L999.5 516.6L1000.0 519.0L1000.4 516.6L1000.8 520.3L1001.2 521.6L1001.6 519.5L1002.1 517.6L1002.5 520.2L1002.9 516.8L1003.3 517.3L1003.7 519.2L1004.2 518.7L1004.6 522.7L1005.0 522.6L1005.4 524.4L1005.8 521.5L1006.3 522.7L1006.7 520.6L1007.1 523.4L1007.5 524.4L1007.9 525.0L1008.4 517.9L1008.8 521.2L1009.2 521.7L1009.6 518.3L1010.0 520.6L1010.5 520.3L1010.9 519.3L1011.3 518.6L1011.7 517.6L1012.1 519.4L1012.6 521.9L1013.0 521.1L1013.4 524.1L1013.8 517.2L1014.2 518.8L1014.7 520.8L1015.1 516.9L1015.5 516.8L1015.9 518.6L1016.3 516.4L1016.8 515.9L1017.2 517.9L1017.6 516.3L1018.0 518.0L1018.4 516.7L1018.9 516.2L1019.3 514.2L1019.7 514.9L1020.1 515.9L1020.5 515.3L1021.0 518.5L1021.4 516.4L1021.8 517.6L1022.2 516.8L1022.6 514.9L1023.1 517.6L1023.5 516.6L1023.9 514.4L1024.3 515.3L1024.7 521.0L1025.2 511.4L1025.6 518.3L1026.0 516.2L1026.4 515.8L1026.8 516.4L1027.3 515.6L1027.7 521.6L1028.1 516.5L1028.5 516.2L1028.9 518.0L1029.4 516.7L1029.8 516.3L1030.2 514.7L1030.6 512.0L1031.0 515.9L1031.5 512.1L1031.9 509.4L1032.3 515.0L1032.7 514.8L1033.1 514.9L1033.6 513.9L1034.0 516.3L1034.4 510.6L1034.8 508.8L1035.2 513.9L1035.7 514.7L1036.1 513.8L1036.5 517.2L1036.9 514.7L1037.3 512.8L1037.8 511.2L1038.2 512.7L1038.6 510.8L1039.0 510.4L1039.4 508.1L1039.9 510.7L1040.3 508.5L1040.7 512.1L1041.1 511.9L1041.5 513.8L1042.0 514.8L1042.4 510.0L1042.8 512.8L1043.2 506.9L1043.6 508.9L1044.1 509.7L1044.5 511.5L1044.9 503.7L1045.3 504.8L1045.7 504.7L1046.2 503.2L1046.6 500.9L1047.0 499.2L1047.4 500.8L1047.8 503.3L1048.3 499.6L1048.7 504.6L1049.1 502.3L1049.5 493.8L1049.9 496.5L1050.4 499.7L1050.8 499.9L1051.2 498.6L1051.6 491.7L1052.0 492.9L1052.5 495.5L1052.9 491.9L1053.3 488.8L1053.7 490.9L1054.1 490.6L1054.6 488.0L1055.0 485.8L1055.4 486.5L1055.8 480.4L1056.2 476.1L1056.7 477.7L1057.1 470.0L1057.5 473.8L1057.9 468.1L1058.3 473.4L1058.8 467.4L1059.2 472.7L1059.6 469.2L1060.0 466.3L1060.4 463.6L1060.9 462.5L1061.3 457.5L1061.7 457.9L1062.1 464.4L1062.5 462.6L1063.0 464.7L1063.4 457.1L1063.8 455.4L1064.2 454.3L1064.6 460.6L1065.1 460.2L1065.5 451.6L1065.9 459.5L1066.3 457.0L1066.7 456.4L1067.2 460.2L1067.6 463.6L1068.0 462.0L1068.4 464.4L1068.8 463.2L1069.3 463.1L1069.7 468.0L1070.1 467.5L1070.5 477.0L1070.9 475.3L1071.4 482.6L1071.8 477.6L1072.2 485.6L1072.6 480.4L1073.0 481.0L1073.5 483.7L1073.9 486.8L1074.3 485.8L1074.7 486.5L1075.1 494.1L1075.6 490.9L1076.0 489.2L1076.4 493.0L1076.8 497.5L1077.2 495.3L1077.7 496.7L1078.1 499.9L1078.5 493.5L1078.9 495.5L1079.3 494.4L1079.8 495.6L1080.2 497.7L1080.6 495.8L1081.0 500.8L1081.4 501.9L1081.9 504.0L1082.3 500.4L1082.7 500.0L1083.1 503.1L1083.5 499.6L1084.0 502.1L1084.4 503.6L1084.8 501.2L1085.2 503.1L1085.6 500.9L1086.1 498.3L1086.5 500.8L1086.9 498.5L1087.3 502.3L1087.7 499.7L1088.2 500.8L1088.6 501.2L1089.0 503.9L1089.4 501.3L1089.8 501.3L1090.3 503.0L1090.7 506.0L1091.1 502.3L1091.5 502.5L1091.9 501.2L1092.4 501.1L1092.8 498.9L1093.2 501.6L1093.6 500.4L1094.0 500.6L1094.5 505.0L1094.9 499.6L1095.3 500.7L1095.7 498.0L1096.1 500.3L1096.6 495.4L1097.0 499.8L1097.4 493.1L1097.8 493.7L1098.2 493.1L1098.7 489.2L1099.1 491.1L1099.5 487.9L1099.9 485.5L1100.3 485.7L1100.8 487.7L1101.2 490.9L1101.6 484.3L1102.0 486.3L1102.4 482.3L1102.9 483.2L1103.3 477.6L1103.7 478.5L1104.1 481.3L1104.5 478.6L1105.0 480.0L1105.4 483.0L1105.8 480.2L1106.2 479.3L1106.6 476.9L1107.1 478.0L1107.5 482.6L1107.9 479.6L1108.3 480.7L1108.7 483.5L1109.2 484.0L1109.6 485.1L1110.0 482.3L1110.4 482.8L1110.8 480.9L1111.3 482.3L1111.7 483.6L1112.1 488.2L1112.5 485.7L1112.9 482.6L1113.4 486.7L1113.8 483.1L1114.2 485.6L1114.6 485.9L1115.0 488.9L1115.5 492.4L1115.9 492.5L1116.3 493.6L1116.7 498.1L1117.1 493.2L1117.6 494.6L1118.0 497.4L1118.4 500.1L1118.8 500.1L1119.2 498.3L1119.7 497.0L1120.1 497.0L1120.5 499.7L1120.9 495.4L1121.3 492.4L1121.8 498.7L1122.2 496.3L1122.6 499.4L1123.0 502.9L1123.4 501.6L1123.9 505.9L1124.3 499.5L1124.7 504.9L1125.1 505.1L1125.5 505.3L1126.0 501.7L1126.4 503.8L1126.8 503.6L1127.2 503.2L1127.6 500.4L1128.1 499.7L1128.5 504.5L1128.9 503.9L1129.3 503.1L1129.7 505.0L1130.2 506.3L1130.6 502.6L1131.0 506.5L1131.4 508.9L1131.8 509.8L1132.3 508.3L1132.7 507.8L1133.1 502.1L1133.5 504.1L1133.9 506.7L1134.4 506.8L1134.8 504.6L1135.2 503.3L1135.6 503.9L1136.0 506.3L1136.5 509.2L1136.9 507.2L1137.3 505.3L1137.7 508.1L1138.1 508.7L1138.6 511.9L1139.0 507.2L1139.4 504.9L1139.8 503.9L1140.2 501.1L1140.7 501.6L1141.1 503.3L1141.5 501.5L1141.9 503.2L1142.3 503.3L1142.8 505.1L1143.2 505.0L1143.6 503.1L1144.0 503.9L1144.4 501.6L1144.9 504.7L1145.3 504.9L1145.7 502.1L1146.1 502.7L1146.5 501.8L1147.0 504.3L1147.4 504.3L1147.8 505.2L1148.2 498.9L1148.6 507.1L1149.1 499.9L1149.5 499.0L1149.9 502.6L1150.3 501.3L1150.7 507.2L1151.2 502.4L1151.6 501.9L1152.0 505.9L1152.4 505.0L1152.8 501.0L1153.3 501.5L1153.7 502.0L1154.1 502.3L1154.5 506.6L1154.9 505.1L1155.4 503.4L1155.8 503.8L1156.2 500.2L1156.6 500.9L1157.0 497.8L1157.5 495.4L1157.9 500.8L1158.3 491.1L1158.7 494.1L1159.1 491.4L1159.6 487.8L1160.0 490.0L1160.4 489.4L1160.8 489.6L1161.2 484.7L1161.7 488.5L1162.1 486.8L1162.5 487.1L1162.9 478.3L1163.3 480.6L1163.8 478.2L1164.2 480.0L1164.6 474.0L1165.0 472.9L1165.4 470.9L1165.9 469.2L1166.3 469.8L1166.7 473.3L1167.1 465.6L1167.5 461.2L1168.0 467.7L1168.4 465.8L1168.8 466.0L1169.2 466.3L1169.6 464.3L1170.1 463.2L1170.5 463.7L1170.9 464.5L1171.3 464.5L1171.7 465.3L1172.2 469.9L1172.6 466.1L1173.0 466.6L1173.4 466.9L1173.8 470.8L1174.3 472.7L1174.7 474.9L1175.1 472.7L1175.5 471.4L1175.9 474.1L1176.4 470.3L1176.8 476.9L1177.2 477.2L1177.6 484.5L1178.0 484.0L1178.5 479.2L1178.9 481.0L1179.3 485.1L1179.7 479.6L1180.1 484.4L1180.6 487.1L1181.0 489.5L1181.4 487.9L1181.8 491.0L1182.2 487.4L1182.7 488.2L1183.1 490.0L1183.5 487.8L1183.9 492.0L1184.3 490.7L1184.8 493.6L1185.2 488.3L1185.6 493.1L1186.0 491.7L1186.4 490.7L1186.9 492.9L1187.3 491.7L1187.7 494.1L1188.1 495.3L1188.5 494.0L1189.0 494.9L1189.4 492.9L1189.8 490.8L1190.2 486.3L1190.6 487.1L1191.1 492.2L1191.5 491.0L1191.9 488.1L1192.3 490.6L1192.7 493.4L1193.2 490.4L1193.6 494.7L1194.0 488.6L1194.4 491.4L1194.8 490.2L1195.3 489.1L1195.7 490.3L1196.1 490.6L1196.5 483.4L1196.9 491.0L1197.4 494.4L1197.8 493.3L1198.2 495.5L1198.6 490.0L1199.0 493.2L1199.5 495.4L1199.9 494.2L1200.3 497.8L1200.7 495.7L1201.1 495.2L1201.6 499.0L1202.0 499.2L1202.4 497.9L1202.8 502.5L1203.2 503.8L1203.7 504.6L1204.1 502.4L1204.5 509.9L1204.9 509.2L1205.3 507.5L1205.8 508.8L1206.2 510.3L1206.6 509.8L1207.0 509.1L1207.4 511.2L1207.9 510.3L1208.3 511.1L1208.7 509.9L1209.1 512.8L1209.5 515.3L1210.0 514.5L1210.4 514.0L1210.8 513.0L1211.2 512.6L1211.6 510.3L1212.1 517.4L1212.5 512.5L1212.9 511.4L1213.3 516.8L1213.7 515.9L1214.2 514.8L1214.6 512.6L1215.0 512.6L1215.4 517.9L1215.8 515.0L1216.3 514.1L1216.7 518.5L1217.1 513.5L1217.5 513.7L1217.9 516.7L1218.4 515.8L1218.8 519.4L1219.2 514.6L1219.6 518.6L1220.0 514.6L1220.5 518.4L1220.9 516.7L1221.3 516.8L1221.7 516.4L1222.1 519.6L1222.6 520.3L1223.0 518.9L1223.4 518.6L1223.8 518.6L1224.2 520.3L1224.7 517.4L1225.1 525.9L1225.5 520.0L1225.9 523.4L1226.3 520.4L1226.8 517.5L1227.2 516.9L1227.6 518.4L1228.0 518.1L1228.4 518.8L1228.9 517.2L1229.3 523.3L1229.7 522.4L1230.1 515.3L1230.5 519.7L1231.0 521.3L1231.4 518.7L1231.8 518.3L1232.2 520.1L1232.6 519.1L1233.1 516.1L1233.5 519.6L1233.9 516.7L1234.3 521.6L1234.7 518.0L1235.2 515.7L1235.6 520.5L1236.0 523.1L1236.4 523.0L1236.8 522.2L1237.3 519.9L1237.7 523.4L1238.1 517.9L1238.5 521.5L1238.9 517.5L1239.4 518.2L1239.8 516.2L1240.2 517.0L1240.6 521.2L1241.0 517.4L1241.5 519.4L1241.9 517.4L1242.3 522.3L1242.7 518.0L1243.1 520.4L1243.6 521.9L1244.0 525.1L1244.4 520.3L1244.8 520.0L1245.2 521.1L1245.7 523.0L1246.1 518.4L1246.5 521.0L1246.9 518.6L1247.3 517.5L1247.8 516.1L1248.2 518.8L1248.6 520.2L1249.0 518.4L1249.4 514.3L1249.9 517.7L1250.3 521.1L1250.7 521.8L1251.1 520.2L1251.5 522.4L1252.0 519.3L1252.4 518.8L1252.8 524.7L1253.2 522.0L1253.6 520.7L1254.1 520.1L1254.5 514.6L1254.9 520.2L1255.3 515.2L1255.7 515.1L1256.2 519.3L1256.6 522.3L1257.0 519.7L1257.4 521.2L1257.8 519.9L1258.3 521.4L1258.7 517.5L1259.1 523.9L1259.5 518.5L1259.9 520.9L1260.4 516.3L1260.8 522.2L1261.2 519.3L1261.6 522.7L1262.0 517.8L1262.5 520.6L1262.9 518.2L1263.3 519.2L1263.7 523.2L1264.1 519.6L1264.6 523.0L1265.0 525.0L1265.4 525.7L1265.8 523.6L1266.2 522.9L1266.7 520.3L1267.1 524.6L1267.5 520.7L1267.9 524.1L1268.3 521.4L1268.8 520.7L1269.2 520.2L1269.6 520.6L1270.0 518.8L1270.4 519.5L1270.9 518.0L1271.3 520.5L1271.7 519.0L1272.1 519.2L1272.5 517.6L1273.0 519.1L1273.4 517.8L1273.8 519.0L1274.2 519.2L1274.6 518.2L1275.1 520.4L1275.5 518.5L1275.9 520.7L1276.3 516.9L1276.7 520.8L1277.2 520.6L1277.6 517.1L1278.0 519.4L1278.4 517.8L1278.8 520.1L1279.3 518.9L1279.7 515.7L1280.1 518.1L1280.5 516.0L1280.9 518.7L1281.4 520.7L1281.8 521.6L1282.2 520.4L1282.6 521.6L1283.0 522.4L1283.5 521.4L1283.9 523.5L1284.3 524.1L1284.7 521.7L1285.1 521.6L1285.6 518.1L1286.0 518.5L1286.4 520.4L1286.8 523.4L1287.2 522.7L1287.7 525.1L1288.1 522.3L1288.5 524.3L1288.9 519.4L1289.3 523.7L1289.8 519.7L1290.2 523.9L1290.6 521.9L1291.0 523.7L1291.4 522.4L1291.9 520.3L1292.3 518.1L1292.7 520.6L1293.1 524.1L1293.5 522.5L1294.0 519.2L1294.4 519.3L1294.8 519.5L1295.2 519.6L1295.6 519.9L1296.1 518.5L1296.5 519.6L1296.9 515.9L1297.3 521.9L1297.7 519.4L1298.2 520.9L1298.6 518.6L1299.0 517.7L1299.4 518.4L1299.8 518.0L1300.3 517.4L1300.7 518.2L1301.1 522.2L1301.5 521.8L1301.9 519.5L1302.4 522.4L1302.8 519.3L1303.2 522.8L1303.6 518.4L1304.0 520.7L1304.5 519.7L1304.9 518.8L1305.3 517.4L1305.7 518.3L1306.1 517.6L1306.6 517.5L1307.0 519.0L1307.4 523.1L1307.8 517.8L1308.2 520.5L1308.7 518.9L1309.1 517.8L1309.5 522.0L1309.9 520.4L1310.3 522.0L1310.8 520.4L1311.2 520.9L1311.6 519.6L1312.0 520.3L1312.4 523.8L1312.9 516.4L1313.3 520.4L1313.7 522.1L1314.1 520.9L1314.5 520.5L1315.0 518.7L1315.4 521.2L1315.8 521.5L1316.2 519.3L1316.6 522.3L1317.1 519.7L1317.5 515.4L1317.9 520.3L1318.3 519.7L1318.7 518.6L1319.2 518.9L1319.6 517.7L1320.0 516.7L1320.4 521.2L1320.8 519.6L1321.3 523.3L1321.7 519.0L1322.1 519.5L1322.5 516.0L1322.9 521.4L1323.4 518.6L1323.8 522.4L1324.2 522.9L1324.6 523.2L1325.0 520.2L1325.5 519.6L1325.9 521.7L1326.3 520.8L1326.7 521.3L1327.1 519.0L1327.6 518.6L1328.0 522.7L1328.4 516.8L1328.8 519.5L1329.2 517.2L1329.7 515.4L1330.1 516.3L1330.5 517.5L1330.9 518.6L1331.3 519.8L1331.8 519.2L1332.2 518.4L1332.6 519.0L1333.0 518.1L1333.4 514.9L1333.9 516.0L1334.3 519.8L1334.7 515.3L1335.1 517.7L1335.5 516.5L1336.0 518.7L1336.4 516.6L1336.8 515.0L1337.2 518.5L1337.6 516.9L1338.1 517.6L1338.5 517.0L1338.9 518.8L1339.3 518.6L1339.7 517.5L1340.2 514.1L1340.6 513.5L1341.0 513.9L1341.4 517.2L1341.8 515.6L1342.3 514.6L1342.7 514.2L1343.1 513.8L1343.5 517.8L1343.9 515.8L1344.4 517.4L1344.8 515.4L1345.2 516.2L1345.6 518.4L1346.0 519.6L1346.5 516.0L1346.9 518.8L1347.3 516.1L1347.7 520.0L1348.1 517.9L1348.6 520.5L1349.0 519.0L1349.4 513.9L1349.8 515.6L1350.2 514.5L1350.7 515.0L1351.1 515.7L1351.5 513.8L1351.9 513.1L1352.3 509.1L1352.8 511.8L1353.2 511.0L1353.6 513.0L1354.0 513.7L1354.4 512.5L1354.9 513.5L1355.3 511.1L1355.7 514.6L1356.1 512.2L1356.5 510.9L1357.0 510.7L1357.4 508.2L1357.8 510.6L1358.2 510.1L1358.6 511.0L1359.1 510.2L1359.5 509.3L1359.9 510.8L1360.3 503.8L1360.7 507.4L1361.2 506.6L1361.6 505.9L1362.0 505.6L1362.4 501.9L1362.8 502.6L1363.3 502.3L1363.7 503.1L1364.1 504.1L1364.5 505.4L1364.9 498.0L1365.4 500.3L1365.8 501.3L1366.2 497.6L1366.6 500.4L1367.0 495.4L1367.5 495.8L1367.9 492.3L1368.3 495.4L1368.7 491.8L1369.1 493.7L1369.6 492.4L1370.0 491.9L1370.4 493.0L1370.8 493.8L1371.2 492.8L1371.7 491.7L1372.1 491.8L1372.5 492.9L1372.9 492.8L1373.3 488.5L1373.8 491.1L1374.2 485.8L1374.6 489.4L1375.0 486.9L1375.4 484.8L1375.9 484.1L1376.3 478.9L1376.7 482.1L1377.1 479.8L1377.5 476.1L1378.0 477.2L1378.4 479.0L1378.8 479.2L1379.2 479.0L1379.6 477.9L1380.1 480.1L1380.5 478.1L1380.9 480.9L1381.3 483.9L1381.7 473.2L1382.2 476.6L1382.6 478.5L1383.0 475.8L1383.4 477.8L1383.8 474.2L1384.3 479.5L1384.7 477.9L1385.1 476.6L1385.5 476.5L1385.9 481.5L1386.4 482.7L1386.8 487.0L1387.2 484.1L1387.6 487.7L1388.0 485.5L1388.5 487.1L1388.9 482.3L1389.3 486.2L1389.7 487.9L1390.1 483.2L1390.6 485.2L1391.0 488.6L1391.4 489.4L1391.8 486.2L1392.2 491.0L1392.7 494.9L1393.1 491.4L1393.5 492.8L1393.9 495.5L1394.3 492.5L1394.8 496.4L1395.2 495.8L1395.6 494.0L1396.0 498.2L1396.4 498.6L1396.9 495.2L1397.3 500.5L1397.7 498.6L1398.1 497.6L1398.5 499.5L1399.0 500.9L1399.4 504.9L1399.8 502.7L1400.2 503.2L1400.6 502.4L1401.1 504.2L1401.5 501.4L1401.9 503.2L1402.3 506.9L1402.7 508.2L1403.2 506.0L1403.6 507.6L1404.0 510.2L1404.4 508.6L1404.8 510.5L1405.3 511.3L1405.7 508.1L1406.1 507.7L1406.5 509.9L1406.9 514.1L1407.4 515.3L1407.8 515.4L1408.2 515.1L1408.6 510.8L1409.0 512.9L1409.5 514.8L1409.9 512.7L1410.3 513.8L1410.7 509.9L1411.1 510.7L1411.6 515.9L1412.0 514.3L1412.4 514.8L1412.8 517.4L1413.2 520.4L1413.7 520.6L1414.1 512.7L1414.5 517.7L1414.9 518.4L1415.3 513.4L1415.8 513.1L1416.2 516.9L1416.6 521.1L1417.0 519.7L1417.4 522.2L1417.9 518.3L1418.3 519.1L1418.7 520.7L1419.1 517.8L1419.5 517.2L1420.0 517.2L1420.4 511.9L1420.8 518.2L1421.2 512.8L1421.6 515.4L1422.1 516.4L1422.5 516.2L1422.9 512.3L1423.3 516.7L1423.7 517.4L1424.2 516.1L1424.6 517.2L1425.0 516.4L1425.4 512.2L1425.8 516.0L1426.3 516.8L1426.7 515.5L1427.1 518.9L1427.5 518.2L1427.9 520.5L1428.4 518.1L1428.8 521.5L1429.2 523.9L1429.6 519.3L1430.0 520.3L1430.5 519.1L1430.9 519.2L1431.3 518.2L1431.7 514.8L1432.1 520.0L1432.6 519.5L1433.0 517.9L1433.4 520.4L1433.8 519.0L1434.2 519.8L1434.7 518.2L1435.1 518.1L1435.5 520.1L1435.9 520.3L1436.3 520.5L1436.8 522.8L1437.2 520.6L1437.6 518.5L1438.0 522.2L1438.4 519.6L1438.9 522.1L1439.3 517.2L1439.7 519.9L1440.1 521.6L1440.5 520.1L1441.0 517.7L1441.4 516.8L1441.8 516.2L1442.2 516.2L1442.6 514.0L1443.1 513.9L1443.5 513.5L1443.9 512.1L1444.3 514.5L1444.7 511.4L1445.2 515.9L1445.6 517.0L1446.0 514.0L1446.4 515.1L1446.8 516.5L1447.3 516.5L1447.7 519.2L1448.1 513.4L1448.5 515.9L1448.9 518.2L1449.4 516.1L1449.8 518.4L1450.2 518.3L1450.6 512.9L1451.0 517.3L1451.5 515.3L1451.9 514.1L1452.3 513.4L1452.7 513.5L1453.1 511.5L1453.6 512.1L1454.0 513.5L1454.4 514.1L1454.8 510.7L1455.2 512.6L1455.7 512.7L1456.1 507.4L1456.5 514.0L1456.9 509.8L1457.3 508.9L1457.8 512.0L1458.2 513.4L1458.6 508.1L1459.0 507.4L1459.4 506.1L1459.9 507.1L1460.3 507.6L1460.7 506.8L1461.1 505.2L1461.5 512.7L1462.0 507.6L1462.4 507.1L1462.8 510.4L1463.2 507.6L1463.6 510.4L1464.1 509.6L1464.5 511.1L1464.9 506.9L1465.3 508.1L1465.7 502.9L1466.2 503.7L1466.6 507.0L1467.0 506.6L1467.4 511.0L1467.8 508.5L1468.3 506.1L1468.7 509.9L1469.1 508.8L1469.5 509.4L1469.9 507.3L1470.4 508.5L1470.8 509.6L1471.2 510.9L1471.6 510.0L1472.0 511.5L1472.5 507.4L1472.9 509.0L1473.3 510.3L1473.7 511.7L1474.1 510.7L1474.6 509.5L1475.0 509.2L1475.4 510.6L1475.8 507.9L1476.2 511.7L1476.7 513.3L1477.1 513.3L1477.5 509.5L1477.9 513.2L1478.3 512.0L1478.8 517.6L1479.2 517.3L1479.6 519.0L1480.0 516.5L1480.4 515.0L1480.9 516.5L1481.3 518.8L1481.7 517.3L1482.1 518.6L1482.5 523.1L1483.0 517.2L1483.4 521.1L1483.8 515.9L1484.2 520.2L1484.6 521.0L1485.1 521.0L1485.5 522.6L1485.9 522.9L1486.3 516.7L1486.7 518.9L1487.2 518.3L1487.6 518.7L1488.0 520.5L1488.4 519.4L1488.8 522.0L1489.3 521.5L1489.7 520.4L1490.1 521.0L1490.5 519.5L1490.9 520.8L1491.4 520.2L1491.8 520.2L1492.2 520.4L1492.6 523.0L1493.0 520.2L1493.5 524.3L1493.9 523.4L1494.3 523.6L1494.7 521.0L1495.1 523.1L1495.6 522.5L1496.0 521.4L1496.4 519.1L1496.8 521.1L1497.2 521.5L1497.7 520.7L1498.1 519.9L1498.5 523.0L1498.9 521.2L1499.3 522.9L1499.8 525.7L1500.2 522.2L1500.6 527.2L1501.0 520.2L1501.4 523.8L1501.9 524.2L1502.3 524.8L1502.7 524.6L1503.1 521.6L1503.5 526.3L1504.0 526.5L1504.4 524.4L1504.8 519.7L1505.2 524.4L1505.6 521.0L1506.1 521.7L1506.5 525.5L1506.9 525.9L1507.3 524.1L1507.7 523.2L1508.2 527.4L1508.6 527.1L1509.0 523.6L1509.4 522.6L1509.8 525.4L1510.3 522.4L1510.7 527.5L1511.1 525.1L1511.5 524.0L1511.9 525.5L1512.4 522.2L1512.8 525.8L1513.2 524.5L1513.6 522.6L1514.0 524.4L1514.5 526.0L1514.9 522.4L1515.3 523.8L1515.7 522.0L1516.1 525.0L1516.6 521.9L1517.0 525.7L1517.4 525.2L1517.8 525.5L1518.2 527.0L1518.7 523.9L1519.1 524.0L1519.5 524.5L1519.9 523.7L1520.3 522.1L1520.8 523.0L1521.2 522.8L1521.6 525.1L1522.0 524.5L1522.4 525.0L1522.9 525.7L1523.3 526.6L1523.7 529.8L1524.1 526.8"/>
<path fill="none" stroke="#ff0000" stroke-width="5.6" stroke-linejoin="round" stroke-linecap="butt" d="M165.0 705.2L165.4 702.2L165.8 704.2L166.3 703.5L166.7 703.6L167.1 703.7L167.5 702.3L167.9 703.1L168.4 703.0L168.8 705.4L169.2 703.7L169.6 703.4L170.0 703.7L170.5 703.3L170.9 702.6L171.3 702.9L171.7 704.0L172.1 703.6L172.6 704.6L173.0 704.3L173.4 704.8L173.8 705.6L174.2 704.8L174.7 704.1L175.1 703.9L175.5 704.4L175.9 705.4L176.3 704.4L176.8 704.6L177.2 705.2L177.6 704.1L178.0 704.3L178.4 705.0L178.9 704.4L179.3 703.7L179.7 703.9L180.1 701.9L180.5 704.5L181.0 703.0L181.4 702.5L181.8 703.9L182.2 704.6L182.6 703.6L183.1 703.1L183.5 704.0L183.9 704.2L184.3 705.4L184.7 704.9L185.2 704.8L185.6 705.7L186.0 704.9L186.4 704.4L186.8 705.3L187.3 705.0L187.7 704.3L188.1 703.7L188.5 703.9L188.9 702.0L189.4 703.8L189.8 703.6L190.2 702.1L190.6 703.4L191.0 702.9L191.5 704.0L191.9 702.8L192.3 703.9L192.7 704.9L193.1 704.8L193.6 702.5L194.0 703.3L194.4 703.3L194.8 702.2L195.2 703.6L195.7 701.9L196.1 703.2L196.5 702.8L196.9 704.5L197.3 703.7L197.8 703.4L198.2 702.4L198.6 704.4L199.0 703.5L199.4 703.7L199.9 704.2L200.3 703.9L200.7 703.6L201.1 703.4L201.5 703.5L202.0 705.0L202.4 703.1L202.8 703.8L203.2 703.5L203.6 703.9L204.1 704.1L204.5 702.9L204.9 702.6L205.3 703.4L205.7 704.2L206.2 704.0L206.6 703.7L207.0 703.3L207.4 703.9L207.8 703.8L208.3 704.8L208.7 703.9L209.1 704.4L209.5 704.7L209.9 704.8L210.4 704.5L210.8 706.0L211.2 705.2L211.6 705.4L212.0 702.7L212.5 703.9L212.9 703.7L213.3 704.5L213.7 702.6L214.1 704.9L214.6 704.9L215.0 703.4L215.4 703.4L215.8 703.4L216.2 703.7L216.7 704.0L217.1 705.0L217.5 703.4L217.9 704.2L218.3 703.9L218.8 705.1L219.2 704.6L219.6 704.9L220.0 703.8L220.4 704.0L220.9 703.4L221.3 705.0L221.7 704.3L222.1 704.0L222.5 703.4L223.0 704.2L223.4 703.8L223.8 704.0L224.2 704.8L224.6 705.8L225.1 703.9L225.5 703.8L225.9 703.5L226.3 703.1L226.7 704.2L227.2 704.4L227.6 703.7L228.0 704.1L228.4 703.5L228.8 703.7L229.3 702.7L229.7 703.5L230.1 704.3L230.5 703.2L230.9 703.3L231.4 703.3L231.8 703.2L232.2 703.9L232.6 702.8L233.0 703.5L233.5 704.6L233.9 704.0L234.3 705.1L234.7 702.7L235.1 704.7L235.6 703.6L236.0 703.5L236.4 704.3L236.8 704.4L237.2 704.5L237.7 704.4L238.1 705.3L238.5 704.1L238.9 704.4L239.3 704.4L239.8 703.2L240.2 704.8L240.6 704.5L241.0 705.2L241.4 703.7L241.9 703.8L242.3 704.3L242.7 704.6L243.1 703.2L243.5 704.0L244.0 703.6L244.4 705.0L244.8 703.5L245.2 704.6L245.6 703.6L246.1 703.5L246.5 703.6L246.9 703.3L247.3 704.3L247.7 705.0L248.2 704.4L248.6 704.5L249.0 705.2L249.4 704.3L249.8 704.3L250.3 703.9L250.7 703.0L251.1 704.5L251.5 703.1L251.9 704.8L252.4 704.1L252.8 705.0L253.2 704.1L253.6 703.8L254.0 704.6L254.5 703.7L254.9 703.7L255.3 703.7L255.7 703.2L256.1 703.3L256.6 702.5L257.0 703.0L257.4 702.1L257.8 703.5L258.2 703.0L258.7 704.3L259.1 704.6L259.5 702.4L259.9 704.1L260.3 703.9L260.8 703.1L261.2 704.3L261.6 703.3L262.0 702.7L262.4 703.7L262.9 703.8L263.3 704.2L263.7 703.0L264.1 704.5L264.5 704.7L265.0 703.0L265.4 703.4L265.8 704.1L266.2 703.9L266.6 705.4L267.1 704.4L267.5 703.6L267.9 703.4L268.3 704.0L268.7 705.7L269.2 703.9L269.6 703.6L270.0 704.0L270.4 703.9L270.8 705.1L271.3 703.3L271.7 704.5L272.1 704.4L272.5 704.8L272.9 703.7L273.4 705.8L273.8 704.4L274.2 704.4L274.6 704.0L275.0 704.1L275.5 705.0L275.9 705.1L276.3 704.8L276.7 705.2L277.1 705.0L277.6 704.8L278.0 704.9L278.4 704.8L278.8 704.4L279.2 704.8L279.7 704.9L280.1 704.1L280.5 703.9L280.9 704.6L281.3 705.4L281.8 703.9L282.2 703.8L282.6 703.7L283.0 704.5L283.4 702.6L283.9 703.9L284.3 704.7L284.7 703.6L285.1 705.3L285.5 704.9L286.0 704.3L286.4 705.0L286.8 703.8L287.2 704.6L287.6 705.9L288.1 704.2L288.5 706.0L288.9 704.8L289.3 705.5L289.7 705.1L290.2 703.8L290.6 704.9L291.0 704.8L291.4 703.9L291.8 703.7L292.3 704.6L292.7 704.1L293.1 703.2L293.5 704.2L293.9 704.9L294.4 704.2L294.8 705.2L295.2 705.3L295.6 704.3L296.0 703.6L296.5 704.1L296.9 704.9L297.3 705.8L297.7 705.3L298.1 705.2L298.6 704.6L299.0 705.1L299.4 704.4L299.8 704.1L300.2 703.4L300.7 703.3L301.1 703.9L301.5 703.0L301.9 703.2L302.3 704.3L302.8 704.0L303.2 705.8L303.6 704.6L304.0 703.7L304.4 704.2L304.9 704.0L305.3 703.7L305.7 704.9L306.1 703.7L306.5 702.9L307.0 705.3L307.4 704.3L307.8 705.1L308.2 703.8L308.6 703.6L309.1 705.2L309.5 703.4L309.9 704.3L310.3 705.1L310.7 704.2L311.2 703.8L311.6 704.0L312.0 704.5L312.4 703.3L312.8 704.3L313.3 704.5L313.7 706.0L314.1 704.1L314.5 703.8L314.9 705.0L315.4 704.4L315.8 704.8L316.2 704.6L316.6 705.5L317.0 704.1L317.5 704.2L317.9 702.1L318.3 703.5L318.7 704.6L319.1 703.3L319.6 703.6L320.0 703.6L320.4 705.0L320.8 704.9L321.2 704.1L321.7 705.2L322.1 704.9L322.5 705.3L322.9 704.3L323.3 705.6L323.8 704.8L324.2 704.1L324.6 703.8L325.0 703.6L325.4 704.3L325.9 703.9L326.3 704.9L326.7 704.6L327.1 705.1L327.5 704.9L328.0 704.2L328.4 703.1L328.8 704.4L329.2 704.8L329.6 704.2L330.1 704.8L330.5 704.1L330.9 703.7L331.3 703.0L331.7 704.5L332.2 703.8L332.6 703.4L333.0 702.7L333.4 703.8L333.8 705.3L334.3 704.5L334.7 703.7L335.1 705.3L335.5 705.3L335.9 704.9L336.4 704.7L336.8 705.1L337.2 704.7L337.6 704.3L338.0 703.5L338.5 704.8L338.9 703.8L339.3 704.7L339.7 702.1L340.1 704.3L340.6 704.2L341.0 703.6L341.4 703.7L341.8 704.3L342.2 703.8L342.7 703.4L343.1 703.3L343.5 703.6L343.9 704.0L344.3 703.3L344.8 703.7L345.2 703.5L345.6 704.4L346.0 703.5L346.4 703.3L346.9 704.2L347.3 703.5L347.7 703.5L348.1 703.9L348.5 704.0L349.0 703.3L349.4 704.3L349.8 702.3L350.2 704.4L350.6 703.1L351.1 703.2L351.5 704.4L351.9 703.8L352.3 703.8L352.7 703.8L353.2 704.6L353.6 704.1L354.0 704.1L354.4 704.9L354.8 703.6L355.3 703.5L355.7 703.0L356.1 704.4L356.5 704.1L356.9 704.1L357.4 703.1L357.8 703.0L358.2 703.5L358.6 702.3L359.0 703.4L359.5 703.2L359.9 702.2L360.3 702.9L360.7 702.7L361.1 704.2L361.6 704.7L362.0 702.8L362.4 702.9L362.8 701.1L363.2 703.2L363.7 703.0L364.1 702.1L364.5 703.4L364.9 701.6L365.3 702.5L365.8 702.3L366.2 701.2L366.6 702.6L367.0 702.9L367.4 701.7L367.9 701.7L368.3 703.3L368.7 702.9L369.1 702.3L369.5 702.9L370.0 703.1L370.4 703.2L370.8 703.7L371.2 703.2L371.6 704.0L372.1 703.7L372.5 702.8L372.9 702.9L373.3 703.1L373.7 702.9L374.2 701.5L374.6 702.5L375.0 701.8L375.4 702.5L375.8 701.3L376.3 701.5L376.7 701.1L377.1 701.8L377.5 700.9L377.9 700.6L378.4 700.7L378.8 700.1L379.2 700.2L379.6 700.1L380.0 700.6L380.5 701.7L380.9 700.3L381.3 700.6L381.7 700.8L382.1 701.9L382.6 700.3L383.0 700.5L383.4 701.0L383.8 701.3L384.2 700.7L384.7 699.9L385.1 699.5L385.5 700.1L385.9 700.5L386.3 699.5L386.8 699.2L387.2 699.6L387.6 698.3L388.0 698.4L388.4 698.4L388.9 698.5L389.3 697.8L389.7 696.5L390.1 698.1L390.5 698.4L391.0 696.6L391.4 697.1L391.8 696.9L392.2 696.8L392.6 694.6L393.1 696.4L393.5 694.3L393.9 694.9L394.3 693.2L394.7 691.9L395.2 691.2L395.6 691.3L396.0 689.0L396.4 688.1L396.8 686.7L397.3 684.4L397.7 685.7L398.1 683.8L398.5 681.8L398.9 681.1L399.4 677.9L399.8 677.1L400.2 676.1L400.6 672.7L401.0 666.8L401.5 663.6L401.9 661.4L402.3 660.2L402.7 655.1L403.1 651.1L403.6 648.0L404.0 642.2L404.4 638.7L404.8 634.7L405.2 629.5L405.7 625.3L406.1 619.4L406.5 616.4L406.9 611.1L407.3 610.2L407.8 609.0L408.2 601.7L408.6 598.3L409.0 599.4L409.4 600.4L409.9 602.0L410.3 603.6L410.7 603.8L411.1 607.2L411.5 613.1L412.0 613.8L412.4 620.1L412.8 622.3L413.2 627.5L413.6 631.3L414.1 636.3L414.5 640.9L414.9 643.4L415.3 648.8L415.7 652.5L416.2 656.5L416.6 661.1L417.0 662.8L417.4 665.8L417.8 668.9L418.3 671.8L418.7 675.2L419.1 675.7L419.5 679.8L419.9 680.8L420.4 681.5L420.8 682.1L421.2 684.9L421.6 686.7L422.0 685.6L422.5 688.9L422.9 690.5L423.3 690.3L423.7 691.1L424.1 693.5L424.6 693.2L425.0 692.2L425.4 693.7L425.8 694.4L426.2 694.9L426.7 693.4L427.1 695.9L427.5 695.0L427.9 695.7L428.3 695.1L428.8 696.2L429.2 695.6L429.6 695.6L430.0 696.8L430.4 697.9L430.9 696.8L431.3 698.0L431.7 697.5L432.1 697.0L432.5 698.8L433.0 697.4L433.4 699.2L433.8 698.2L434.2 698.6L434.6 697.0L435.1 697.2L435.5 698.0L435.9 697.2L436.3 697.1L436.7 696.6L437.2 697.8L437.6 696.5L438.0 696.4L438.4 697.3L438.8 696.9L439.3 696.8L439.7 696.8L440.1 696.7L440.5 697.0L440.9 698.5L441.4 698.0L441.8 698.4L442.2 697.7L442.6 697.3L443.0 696.5L443.5 697.0L443.9 696.0L444.3 696.8L444.7 697.3L445.1 698.1L445.6 697.6L446.0 696.3L446.4 696.9L446.8 695.9L447.2 697.0L447.7 695.9L448.1 696.3L448.5 697.1L448.9 695.6L449.3 696.5L449.8 694.8L450.2 694.3L450.6 695.0L451.0 694.9L451.4 692.8L451.9 692.6L452.3 690.1L452.7 690.0L453.1 690.2L453.5 688.5L454.0 686.8L454.4 684.6L454.8 685.4L455.2 684.4L455.6 682.6L456.1 680.7L456.5 677.5L456.9 678.0L457.3 673.5L457.7 670.5L458.2 668.6L458.6 662.3L459.0 661.4L459.4 658.2L459.8 655.4L460.3 652.7L460.7 647.9L461.1 642.0L461.5 639.3L461.9 635.5L462.4 631.5L462.8 626.9L463.2 623.2L463.6 622.1L464.0 619.1L464.5 617.0L464.9 613.6L465.3 617.4L465.7 612.7L466.1 617.1L466.6 622.2L467.0 621.6L467.4 624.5L467.8 625.5L468.2 631.6L468.7 631.7L469.1 637.2L469.5 640.9L469.9 643.5L470.3 649.3L470.8 650.0L471.2 654.0L471.6 657.9L472.0 660.6L472.4 664.5L472.9 667.7L473.3 669.3L473.7 671.7L474.1 674.0L474.5 675.6L475.0 678.6L475.4 679.2L475.8 680.7L476.2 681.3L476.6 681.1L477.1 683.5L477.5 682.2L477.9 683.9L478.3 685.6L478.7 684.0L479.2 685.5L479.6 685.0L480.0 686.1L480.4 685.3L480.8 686.8L481.3 686.2L481.7 686.6L482.1 687.0L482.5 685.5L482.9 685.4L483.4 684.0L483.8 683.8L484.2 682.6L484.6 681.3L485.0 682.4L485.5 682.7L485.9 680.7L486.3 678.4L486.7 679.2L487.1 676.5L487.6 674.8L488.0 672.9L488.4 671.2L488.8 670.2L489.2 670.5L489.7 665.9L490.1 663.2L490.5 661.4L490.9 659.7L491.3 655.3L491.8 653.9L492.2 651.4L492.6 647.6L493.0 644.1L493.4 637.8L493.9 633.1L494.3 632.3L494.7 627.6L495.1 619.0L495.5 615.7L496.0 610.0L496.4 605.2L496.8 598.7L497.2 591.6L497.6 585.3L498.1 579.4L498.5 573.3L498.9 564.4L499.3 556.5L499.7 553.5L500.2 548.8L500.6 547.0L501.0 542.0L501.4 537.4L501.8 534.3L502.3 532.3L502.7 533.0L503.1 530.2L503.5 533.6L503.9 535.7L504.4 538.1L504.8 544.9L505.2 545.4L505.6 553.0L506.0 557.0L506.5 563.8L506.9 569.3L507.3 578.0L507.7 583.1L508.1 592.0L508.6 597.6L509.0 607.2L509.4 615.5L509.8 619.7L510.2 627.3L510.7 631.2L511.1 638.4L511.5 640.6L511.9 642.7L512.3 650.3L512.8 652.6L513.2 655.1L513.6 657.7L514.0 660.1L514.4 665.0L514.9 666.9L515.3 672.2L515.7 673.9L516.1 674.3L516.5 676.4L517.0 678.5L517.4 678.5L517.8 681.5L518.2 682.5L518.6 683.2L519.1 684.3L519.5 686.2L519.9 687.8L520.3 688.7L520.7 688.2L521.2 688.8L521.6 687.5L522.0 688.9L522.4 687.9L522.8 689.4L523.3 688.0L523.7 688.9L524.1 690.3L524.5 690.8L524.9 689.5L525.4 690.3L525.8 691.2L526.2 691.3L526.6 690.7L527.0 691.7L527.5 691.4L527.9 692.6L528.3 691.7L528.7 690.1L529.1 689.0L529.6 690.4L530.0 691.6L530.4 690.9L530.8 691.3L531.2 690.1L531.7 689.3L532.1 690.7L532.5 689.5L532.9 689.0L533.3 687.2L533.8 687.5L534.2 686.2L534.6 686.2L535.0 683.8L535.4 682.8L535.9 682.0L536.3 683.2L536.7 681.1L537.1 679.5L537.5 679.0L538.0 678.3L538.4 679.4L538.8 675.7L539.2 676.0L539.6 676.9L540.1 676.1L540.5 673.6L540.9 673.1L541.3 671.0L541.7 669.9L542.2 666.9L542.6 667.1L543.0 664.4L543.4 664.4L543.8 660.8L544.3 661.3L544.7 657.8L545.1 656.5L545.5 657.5L545.9 654.8L546.4 655.4L546.8 652.9L547.2 655.6L547.6 653.8L548.0 652.6L548.5 654.6L548.9 655.7L549.3 655.3L549.7 657.6L550.1 660.7L550.6 661.1L551.0 662.0L551.4 663.7L551.8 666.6L552.2 666.4L552.7 667.0L553.1 670.9L553.5 672.5L553.9 676.9L554.3 677.2L554.8 678.3L555.2 679.8L555.6 682.8L556.0 683.0L556.4 684.0L556.9 685.7L557.3 686.8L557.7 687.9L558.1 688.9L558.5 690.5L559.0 691.8L559.4 690.1L559.8 693.9L560.2 692.3L560.6 693.5L561.1 692.5L561.5 693.8L561.9 694.0L562.3 694.3L562.7 695.5L563.2 695.7L563.6 694.9L564.0 695.8L564.4 696.9L564.8 697.4L565.3 697.0L565.7 697.4L566.1 697.6L566.5 697.0L566.9 697.3L567.4 699.1L567.8 697.8L568.2 698.3L568.6 698.3L569.0 699.7L569.5 700.2L569.9 699.0L570.3 699.9L570.7 699.2L571.1 701.3L571.6 701.1L572.0 699.8L572.4 701.3L572.8 700.4L573.2 700.5L573.7 700.4L574.1 699.7L574.5 699.8L574.9 700.8L575.3 700.4L575.8 699.6L576.2 701.5L576.6 699.9L577.0 699.9L577.4 700.0L577.9 701.4L578.3 702.0L578.7 701.5L579.1 702.2L579.5 700.3L580.0 701.2L580.4 700.9L580.8 701.4L581.2 701.7L581.6 700.0L582.1 703.2L582.5 700.9L582.9 702.0L583.3 702.0L583.7 702.5L584.2 702.3L584.6 700.3L585.0 701.0L585.4 701.9L585.8 700.7L586.3 700.3L586.7 699.1L587.1 701.8L587.5 701.2L587.9 700.6L588.4 701.7L588.8 701.7L589.2 701.4L589.6 702.1L590.0 702.7L590.5 703.2L590.9 703.3L591.3 702.5L591.7 702.1L592.1 702.6L592.6 701.9L593.0 701.4L593.4 703.3L593.8 702.4L594.2 702.7L594.7 702.9L595.1 702.0L595.5 703.3L595.9 702.9L596.3 702.0L596.8 702.2L597.2 701.8L597.6 700.8L598.0 701.8L598.4 701.8L598.9 703.1L599.3 702.9L599.7 702.2L600.1 702.6L600.5 703.7L601.0 703.2L601.4 702.9L601.8 702.7L602.2 702.3L602.6 702.1L603.1 702.4L603.5 702.2L603.9 702.5L604.3 701.7L604.7 701.2L605.2 701.3L605.6 702.3L606.0 703.5L606.4 703.3L606.8 701.9L607.3 702.0L607.7 703.4L608.1 703.2L608.5 701.5L608.9 703.0L609.4 702.5L609.8 703.0L610.2 702.5L610.6 702.8L611.0 702.8L611.5 701.9L611.9 702.4L612.3 701.9L612.7 702.8L613.1 701.9L613.6 701.3L614.0 702.7L614.4 702.9L614.8 703.3L615.2 702.8L615.7 701.1L616.1 701.9L616.5 702.1L616.9 702.6L617.3 701.0L617.8 702.7L618.2 702.6L618.6 702.2L619.0 702.8L619.4 703.9L619.9 703.5L620.3 704.2L620.7 704.0L621.1 703.2L621.5 703.4L622.0 702.6L622.4 703.6L622.8 702.5L623.2 702.5L623.6 703.4L624.1 702.2L624.5 703.0L624.9 703.5L625.3 702.5L625.7 702.7L626.2 703.2L626.6 703.4L627.0 701.8L627.4 701.6L627.8 703.7L628.3 703.1L628.7 701.1L629.1 701.5L629.5 702.1L629.9 701.1L630.4 701.8L630.8 701.3L631.2 701.5L631.6 700.8L632.0 702.1L632.5 703.4L632.9 701.9L633.3 703.9L633.7 703.9L634.1 703.6L634.6 703.2L635.0 702.3L635.4 702.3L635.8 702.9L636.2 703.2L636.7 703.4L637.1 703.7L637.5 703.9L637.9 702.9L638.3 702.4L638.8 703.4L639.2 703.4L639.6 702.8L640.0 701.6L640.4 702.2L640.9 701.7L641.3 702.7L641.7 702.0L642.1 702.3L642.5 702.8L643.0 703.0L643.4 704.0L643.8 702.7L644.2 701.6L644.6 703.5L645.1 703.7L645.5 703.4L645.9 702.0L646.3 702.0L646.7 701.8L647.2 701.1L647.6 701.5L648.0 702.5L648.4 702.2L648.8 703.6L649.3 701.5L649.7 701.9L650.1 702.9L650.5 701.2L650.9 701.1L651.4 700.9L651.8 700.7L652.2 702.1L652.6 701.2L653.0 701.8L653.5 700.9L653.9 701.5L654.3 700.8L654.7 700.8L655.1 701.0L655.6 700.8L656.0 701.3L656.4 700.6L656.8 701.5L657.2 702.1L657.7 700.0L658.1 700.0L658.5 701.3L658.9 700.8L659.3 700.1L659.8 700.4L660.2 699.7L660.6 700.0L661.0 699.5L661.4 700.0L661.9 698.1L662.3 697.7L662.7 698.4L663.1 697.8L663.5 698.7L664.0 697.9L664.4 697.9L664.8 698.2L665.2 697.3L665.6 696.4L666.1 696.0L666.5 695.8L666.9 695.7L667.3 695.5L667.7 695.9L668.2 695.2L668.6 695.4L669.0 694.8L669.4 693.1L669.8 694.0L670.3 692.8L670.7 691.1L671.1 690.9L671.5 690.6L671.9 689.0L672.4 689.1L672.8 687.9L673.2 687.4L673.6 686.4L674.0 686.7L674.5 685.7L674.9 685.9L675.3 683.4L675.7 684.9L676.1 685.2L676.6 683.8L677.0 683.1L677.4 683.7L677.8 683.0L678.2 682.9L678.7 683.6L679.1 684.4L679.5 686.1L679.9 685.2L680.3 687.5L680.8 686.0L681.2 686.8L681.6 687.8L682.0 689.6L682.4 688.1L682.9 687.5L683.3 689.8L683.7 689.8L684.1 689.4L684.5 689.6L685.0 690.9L685.4 692.3L685.8 693.0L686.2 692.1L686.6 695.7L687.1 694.3L687.5 694.3L687.9 695.2L688.3 695.4L688.7 697.5L689.2 697.4L689.6 696.8L690.0 697.1L690.4 697.0L690.8 697.6L691.3 698.6L691.7 697.4L692.1 699.2L692.5 698.1L692.9 698.3L693.4 698.8L693.8 696.8L694.2 697.7L694.6 699.1L695.0 699.1L695.5 699.6L695.9 700.5L696.3 700.2L696.7 700.5L697.1 699.9L697.6 699.3L698.0 701.6L698.4 700.0L698.8 700.2L699.2 702.0L699.7 701.8L700.1 700.9L700.5 700.8L700.9 701.0L701.3 700.7L701.8 701.5L702.2 701.1L702.6 700.9L703.0 701.3L703.4 701.2L703.9 702.0L704.3 701.7L704.7 699.4L705.1 701.0L705.5 699.7L706.0 699.6L706.4 701.1L706.8 700.5L707.2 700.9L707.6 702.3L708.1 701.1L708.5 700.8L708.9 701.3L709.3 701.5L709.7 701.0L710.2 699.7L710.6 700.4L711.0 700.9L711.4 702.6L711.8 701.9L712.3 701.8L712.7 701.9L713.1 700.8L713.5 701.3L713.9 700.9L714.4 699.8L714.8 700.3L715.2 701.0L715.6 699.9L716.0 701.2L716.5 701.0L716.9 701.2L717.3 699.6L717.7 700.0L718.1 700.5L718.6 699.8L719.0 698.8L719.4 699.6L719.8 700.6L720.2 699.3L720.7 699.1L721.1 700.4L721.5 697.8L721.9 697.1L722.3 696.2L722.8 696.5L723.2 697.7L723.6 696.3L724.0 695.6L724.4 695.6L724.9 695.8L725.3 695.3L725.7 693.9L726.1 694.4L726.5 692.8L727.0 693.0L727.4 692.5L727.8 692.0L728.2 690.2L728.6 690.0L729.1 689.4L729.5 686.9L729.9 686.8L730.3 686.3L730.7 685.7L731.2 683.7L731.6 682.5L732.0 681.7L732.4 680.5L732.8 680.0L733.3 679.1L733.7 677.4L734.1 674.6L734.5 674.2L734.9 671.1L735.4 672.5L735.8 669.9L736.2 669.7L736.6 667.5L737.0 667.6L737.5 666.9L737.9 666.7L738.3 664.6L738.7 666.6L739.1 665.7L739.6 665.2L740.0 667.1L740.4 666.4L740.8 666.8L741.2 667.2L741.7 669.4L742.1 670.2L742.5 671.1L742.9 671.5L743.3 673.1L743.8 675.2L744.2 677.1L744.6 677.1L745.0 679.4L745.4 679.4L745.9 680.1L746.3 683.0L746.7 682.6L747.1 684.7L747.5 686.3L748.0 686.9L748.4 687.9L748.8 690.8L749.2 689.9L749.6 690.6L750.1 692.2L750.5 691.5L750.9 692.1L751.3 693.1L751.7 691.3L752.2 695.1L752.6 693.2L753.0 693.7L753.4 695.7L753.8 695.6L754.3 694.9L754.7 696.3L755.1 696.1L755.5 696.5L755.9 695.9L756.4 697.0L756.8 698.5L757.2 698.7L757.6 698.9L758.0 699.9L758.5 699.8L758.9 699.6L759.3 699.7L759.7 701.4L760.1 700.2L760.6 700.8L761.0 700.5L761.4 701.0L761.8 701.6L762.2 701.2L762.7 701.7L763.1 701.2L763.5 701.8L763.9 702.7L764.3 703.0L764.8 703.8L765.2 703.3L765.6 702.7L766.0 703.4L766.4 703.6L766.9 702.4L767.3 703.9L767.7 703.5L768.1 704.2L768.5 702.4L769.0 702.2L769.4 703.4L769.8 701.6L770.2 702.1L770.6 702.1L771.1 702.2L771.5 701.0L771.9 701.9L772.3 702.7L772.7 703.0L773.2 702.4L773.6 701.8L774.0 703.4L774.4 702.8L774.8 703.1L775.3 700.9L775.7 702.6L776.1 701.7L776.5 702.7L776.9 702.7L777.4 701.9L777.8 702.9L778.2 703.8L778.6 703.7L779.0 704.1L779.5 703.1L779.9 703.1L780.3 703.1L780.7 703.8L781.1 704.1L781.6 703.5L782.0 703.4L782.4 703.2L782.8 704.2L783.2 703.9L783.7 703.1L784.1 703.3L784.5 703.9L784.9 702.9L785.3 704.5L785.8 703.1L786.2 702.7L786.6 702.9L787.0 705.1L787.4 703.4L787.9 704.5L788.3 704.8L788.7 705.3L789.1 704.8L789.5 704.1L790.0 704.9L790.4 704.8L790.8 705.4L791.2 704.8L791.6 706.0L792.1 704.4L792.5 704.8L792.9 704.2L793.3 704.9L793.7 704.6L794.2 704.7L794.6 705.2L795.0 704.5L795.4 704.0L795.8 705.4L796.3 705.1L796.7 704.6L797.1 705.9L797.5 705.6L797.9 703.4L798.4 704.2L798.8 704.5L799.2 704.8L799.6 704.1L800.0 705.4L800.5 703.8L800.9 704.8L801.3 705.3L801.7 705.5L802.1 705.8L802.6 706.1L803.0 705.6L803.4 706.2L803.8 704.2L804.2 704.5L804.7 705.3L805.1 704.2L805.5 704.6L805.9 703.8L806.3 704.2L806.8 704.1L807.2 704.6L807.6 704.1L808.0 704.7L808.4 705.2L808.9 705.6L809.3 705.2L809.7 705.5L810.1 705.4L810.5 703.7L811.0 703.5L811.4 705.6L811.8 705.4L812.2 704.8L812.6 705.1L813.1 704.6L813.5 704.3L813.9 705.2L814.3 703.8L814.7 705.3L815.2 704.1L815.6 704.6L816.0 705.8L816.4 705.9L816.8 704.6L817.3 705.3L817.7 703.9L818.1 704.0L818.5 704.8L818.9 705.4L819.4 704.1L819.8 704.9L820.2 704.9L820.6 704.2L821.0 704.5L821.5 706.0L821.9 704.8L822.3 705.2L822.7 705.2L823.1 704.3L823.6 705.8L824.0 705.9L824.4 706.3L824.8 705.8L825.2 705.1L825.7 704.7L826.1 704.6L826.5 704.5L826.9 704.4L827.3 706.1L827.8 706.3L828.2 705.2L828.6 706.4L829.0 704.7L829.4 705.2L829.9 704.7L830.3 704.1L830.7 705.1L831.1 704.7L831.5 704.7L832.0 705.2L832.4 704.4L832.8 705.1L833.2 705.2L833.6 705.8L834.1 704.6L834.5 705.0L834.9 705.3L835.3 705.8L835.7 705.5L836.2 705.0L836.6 704.3L837.0 703.5L837.4 704.6L837.8 705.3L838.3 705.4L838.7 702.5L839.1 704.1L839.5 704.4L839.9 704.1L840.4 704.8L840.8 704.9L841.2 704.3L841.6 704.4L842.0 703.5L842.5 703.9L842.9 704.3L843.3 705.5L843.7 704.3L844.1 705.0L844.6 705.9L845.0 705.6L845.4 706.2L845.8 705.2L846.2 705.6L846.7 706.0L847.1 706.8L847.5 705.9L847.9 706.2L848.3 705.2L848.8 705.4L849.2 706.1L849.6 705.6L850.0 705.9L850.4 705.7L850.9 706.6L851.3 706.6L851.7 704.6L852.1 706.3L852.5 705.1L853.0 705.1L853.4 704.7L853.8 705.2L854.2 704.1L854.6 704.3L855.1 704.3L855.5 704.8L855.9 705.2L856.3 705.0L856.7 704.7L857.2 704.1L857.6 703.5L858.0 704.8L858.4 704.9L858.8 705.4L859.3 705.8L859.7 704.8L860.1 705.1L860.5 703.6L860.9 705.3L861.4 704.7L861.8 704.3L862.2 705.2L862.6 703.8L863.0 704.2L863.5 705.8L863.9 705.0L864.3 705.2L864.7 704.8L865.1 704.6L865.6 704.7L866.0 706.2L866.4 704.5L866.8 705.2L867.2 704.6L867.7 704.8L868.1 702.9L868.5 703.4L868.9 705.2L869.3 705.0L869.8 703.7L870.2 703.6L870.6 704.4L871.0 703.3L871.4 705.6L871.9 704.0L872.3 704.3L872.7 703.3L873.1 705.8L873.5 705.0L874.0 706.0L874.4 703.9L874.8 704.5L875.2 704.1L875.6 704.1L876.1 705.2L876.5 705.2L876.9 704.9L877.3 703.8L877.7 704.6L878.2 705.2L878.6 704.1L879.0 703.8L879.4 703.2L879.8 702.2L880.3 703.5L880.7 704.2L881.1 702.9L881.5 704.1L881.9 704.8L882.4 703.3L882.8 703.8L883.2 702.9L883.6 703.3L884.0 702.3L884.5 703.0L884.9 703.2L885.3 703.3L885.7 703.3L886.1 702.0L886.6 704.8L887.0 703.2L887.4 702.6L887.8 702.6L888.2 702.8L888.7 701.8L889.1 702.1L889.5 702.4L889.9 703.1L890.3 702.1L890.8 703.4L891.2 703.4L891.6 702.9L892.0 703.6L892.4 702.8L892.9 701.8L893.3 702.3L893.7 701.9L894.1 701.6L894.5 701.7L895.0 702.9L895.4 701.8L895.8 701.8L896.2 701.7L896.6 703.0L897.1 702.1L897.5 702.1L897.9 701.2L898.3 702.7L898.7 702.5L899.2 700.6L899.6 700.8L900.0 701.4L900.4 701.6L900.8 699.8L901.3 700.2L901.7 701.2L902.1 700.2L902.5 700.0L902.9 700.0L903.4 698.9L903.8 699.9L904.2 699.7L904.6 698.3L905.0 699.3L905.5 699.9L905.9 699.3L906.3 699.5L906.7 698.1L907.1 699.0L907.6 697.1L908.0 698.6L908.4 696.5L908.8 696.1L909.2 696.0L909.7 696.3L910.1 695.7L910.5 695.3L910.9 695.1L911.3 695.3L911.8 694.9L912.2 693.3L912.6 694.1L913.0 691.6L913.4 690.8L913.9 689.9L914.3 690.7L914.7 688.6L915.1 687.8L915.5 689.1L916.0 689.0L916.4 688.1L916.8 684.5L917.2 684.4L917.6 684.1L918.1 682.4L918.5 679.0L918.9 678.6L919.3 676.2L919.7 675.2L920.2 676.7L920.6 673.4L921.0 669.7L921.4 667.6L921.8 667.8L922.3 664.5L922.7 663.4L923.1 660.4L923.5 659.0L923.9 656.9L924.4 652.9L924.8 649.8L925.2 647.8L925.6 645.9L926.0 644.3L926.5 642.6L926.9 640.7L927.3 639.4L927.7 637.4L928.1 639.5L928.6 640.1L929.0 638.0L929.4 638.2L929.8 640.4L930.2 640.3L930.7 640.7L931.1 642.0L931.5 643.4L931.9 644.8L932.3 648.7L932.8 651.7L933.2 651.5L933.6 654.9L934.0 657.5L934.4 658.8L934.9 660.8L935.3 663.4L935.7 664.1L936.1 667.4L936.5 669.1L937.0 673.5L937.4 674.5L937.8 674.4L938.2 676.5L938.6 680.1L939.1 681.9L939.5 681.9L939.9 682.6L940.3 683.1L940.7 685.2L941.2 685.7L941.6 685.9L942.0 688.1L942.4 686.4L942.8 688.1L943.3 689.1L943.7 690.5L944.1 692.0L944.5 690.9L944.9 691.9L945.4 693.2L945.8 694.0L946.2 693.8L946.6 694.1L947.0 695.8L947.5 694.5L947.9 695.3L948.3 696.9L948.7 697.7L949.1 697.2L949.6 695.8L950.0 696.3L950.4 696.6L950.8 696.7L951.2 697.3L951.7 698.7L952.1 698.3L952.5 697.7L952.9 698.1L953.3 698.2L953.8 700.2L954.2 698.5L954.6 700.5L955.0 699.4L955.4 699.9L955.9 699.6L956.3 701.6L956.7 700.9L957.1 702.9L957.5 700.6L958.0 700.3L958.4 701.5L958.8 701.3L959.2 700.7L959.6 699.4L960.1 702.3L960.5 701.9L960.9 702.0L961.3 701.1L961.7 702.1L962.2 701.9L962.6 702.0L963.0 702.1L963.4 702.9L963.8 701.7L964.3 702.0L964.7 702.9L965.1 702.4L965.5 702.5L965.9 702.6L966.4 703.9L966.8 702.4L967.2 703.0L967.6 703.9L968.0 702.7L968.5 702.2L968.9 702.2L969.3 703.7L969.7 702.8L970.1 702.6L970.6 702.9L971.0 702.5L971.4 703.9L971.8 702.3L972.2 704.0L972.7 702.2L973.1 703.3L973.5 703.8L973.9 703.2L974.3 703.5L974.8 702.9L975.2 702.2L975.6 703.3L976.0 701.9L976.4 702.5L976.9 703.6L977.3 702.9L977.7 702.6L978.1 702.5L978.5 703.4L979.0 703.8L979.4 702.9L979.8 704.2L980.2 703.2L980.6 704.2L981.1 703.6L981.5 704.7L981.9 704.7L982.3 704.2L982.7 704.1L983.2 704.1L983.6 704.8L984.0 704.7L984.4 704.2L984.8 703.6L985.3 704.6L985.7 702.8L986.1 704.4L986.5 703.4L986.9 704.7L987.4 703.9L987.8 703.9L988.2 703.3L988.6 703.6L989.0 704.0L989.5 704.5L989.9 702.7L990.3 703.3L990.7 705.3L991.1 704.6L991.6 704.0L992.0 704.6L992.4 702.7L992.8 705.6L993.2 704.6L993.7 703.6L994.1 705.5L994.5 704.2L994.9 703.2L995.3 704.2L995.8 703.9L996.2 703.1L996.6 703.1L997.0 702.2L997.4 702.5L997.9 704.2L998.3 704.7L998.7 704.3L999.1 704.5L999.5 703.8L1000.0 703.9L1000.4 703.1L1000.8 704.6L1001.2 703.1L1001.6 703.7L1002.1 703.9L1002.5 703.0L1002.9 705.5L1003.3 703.9L1003.7 703.7L1004.2 704.4L1004.6 703.4L1005.0 703.6L1005.4 702.8L1005.8 704.1L1006.3 703.5L1006.7 702.3L1007.1 703.8L1007.5 703.7L1007.9 702.9L1008.4 703.7L1008.8 703.8L1009.2 705.0L1009.6 703.4L1010.0 704.7L1010.5 703.8L1010.9 704.7L1011.3 703.8L1011.7 703.7L1012.1 703.7L1012.6 702.1L1013.0 701.3L1013.4 702.8L1013.8 703.1L1014.2 703.2L1014.7 703.7L1015.1 703.5L1015.5 704.6L1015.9 703.6L1016.3 703.4L1016.8 704.2L1017.2 704.0L1017.6 702.8L1018.0 703.0L1018.4 702.4L1018.9 702.3L1019.3 702.5L1019.7 702.8L1020.1 702.5L1020.5 703.5L1021.0 704.1L1021.4 704.2L1021.8 703.0L1022.2 703.8L1022.6 703.5L1023.1 703.3L1023.5 703.1L1023.9 702.8L1024.3 702.9L1024.7 702.4L1025.2 702.0L1025.6 702.6L1026.0 702.9L1026.4 703.2L1026.8 702.5L1027.3 702.4L1027.7 703.1L1028.1 701.6L1028.5 702.1L1028.9 702.8L1029.4 702.4L1029.8 701.8L1030.2 702.8L1030.6 701.6L1031.0 700.4L1031.5 702.3L1031.9 700.0L1032.3 701.0L1032.7 700.6L1033.1 700.8L1033.6 701.3L1034.0 699.9L1034.4 700.4L1034.8 699.9L1035.2 699.4L1035.7 700.9L1036.1 700.0L1036.5 699.7L1036.9 699.2L1037.3 699.3L1037.8 699.1L1038.2 698.6L1038.6 699.5L1039.0 696.2L1039.4 696.1L1039.9 697.0L1040.3 695.6L1040.7 696.3L1041.1 695.9L1041.5 696.8L1042.0 696.5L1042.4 697.0L1042.8 696.2L1043.2 696.2L1043.6 694.8L1044.1 694.4L1044.5 693.3L1044.9 691.8L1045.3 690.8L1045.7 690.2L1046.2 691.0L1046.6 687.5L1047.0 688.9L1047.4 687.3L1047.8 687.5L1048.3 685.7L1048.7 683.7L1049.1 684.0L1049.5 680.7L1049.9 681.3L1050.4 680.2L1050.8 676.5L1051.2 677.5L1051.6 675.0L1052.0 673.8L1052.5 670.9L1052.9 671.2L1053.3 670.6L1053.7 667.9L1054.1 665.6L1054.6 665.2L1055.0 663.8L1055.4 660.8L1055.8 659.5L1056.2 656.3L1056.7 655.4L1057.1 654.8L1057.5 653.2L1057.9 655.0L1058.3 651.2L1058.8 649.1L1059.2 650.2L1059.6 647.1L1060.0 648.9L1060.4 649.2L1060.9 647.9L1061.3 649.5L1061.7 649.9L1062.1 652.0L1062.5 652.4L1063.0 656.6L1063.4 657.6L1063.8 657.7L1064.2 658.4L1064.6 663.8L1065.1 664.7L1065.5 666.0L1065.9 667.3L1066.3 669.7L1066.7 670.8L1067.2 674.3L1067.6 674.2L1068.0 674.2L1068.4 676.2L1068.8 675.6L1069.3 679.6L1069.7 681.5L1070.1 684.0L1070.5 685.2L1070.9 683.8L1071.4 685.8L1071.8 687.5L1072.2 687.8L1072.6 686.9L1073.0 689.0L1073.5 689.6L1073.9 690.9L1074.3 690.1L1074.7 690.7L1075.1 691.5L1075.6 692.2L1076.0 692.4L1076.4 693.3L1076.8 694.2L1077.2 694.7L1077.7 695.7L1078.1 695.5L1078.5 695.6L1078.9 694.6L1079.3 696.2L1079.8 696.4L1080.2 694.7L1080.6 695.6L1081.0 695.9L1081.4 696.1L1081.9 696.1L1082.3 696.1L1082.7 697.4L1083.1 696.0L1083.5 696.7L1084.0 696.5L1084.4 696.5L1084.8 697.8L1085.2 696.7L1085.6 697.0L1086.1 696.6L1086.5 697.6L1086.9 697.5L1087.3 697.1L1087.7 696.0L1088.2 697.7L1088.6 697.3L1089.0 696.4L1089.4 696.6L1089.8 696.3L1090.3 696.6L1090.7 695.5L1091.1 696.0L1091.5 696.3L1091.9 695.5L1092.4 694.9L1092.8 696.5L1093.2 695.3L1093.6 694.0L1094.0 693.7L1094.5 691.7L1094.9 692.5L1095.3 693.1L1095.7 694.0L1096.1 691.3L1096.6 692.4L1097.0 694.4L1097.4 693.5L1097.8 693.5L1098.2 694.4L1098.7 693.4L1099.1 693.0L1099.5 693.6L1099.9 693.3L1100.3 691.7L1100.8 693.5L1101.2 691.0L1101.6 691.7L1102.0 694.4L1102.4 691.8L1102.9 692.8L1103.3 691.5L1103.7 692.0L1104.1 691.8L1104.5 692.2L1105.0 693.6L1105.4 694.5L1105.8 694.1L1106.2 695.0L1106.6 694.0L1107.1 695.9L1107.5 695.4L1107.9 696.4L1108.3 695.0L1108.7 695.5L1109.2 696.7L1109.6 696.4L1110.0 696.1L1110.4 696.1L1110.8 697.0L1111.3 697.3L1111.7 697.5L1112.1 696.7L1112.5 697.2L1112.9 697.5L1113.4 696.4L1113.8 698.4L1114.2 698.4L1114.6 698.5L1115.0 696.9L1115.5 697.8L1115.9 698.6L1116.3 698.8L1116.7 698.6L1117.1 699.6L1117.6 699.8L1118.0 699.4L1118.4 697.9L1118.8 700.4L1119.2 698.8L1119.7 699.4L1120.1 698.1L1120.5 698.9L1120.9 699.3L1121.3 699.2L1121.8 699.7L1122.2 698.9L1122.6 700.3L1123.0 697.4L1123.4 698.0L1123.9 698.6L1124.3 697.4L1124.7 697.0L1125.1 695.8L1125.5 697.6L1126.0 695.6L1126.4 697.5L1126.8 696.8L1127.2 697.1L1127.6 697.5L1128.1 695.4L1128.5 695.0L1128.9 694.7L1129.3 693.5L1129.7 695.0L1130.2 693.7L1130.6 693.7L1131.0 692.4L1131.4 693.1L1131.8 692.3L1132.3 692.8L1132.7 692.2L1133.1 693.9L1133.5 692.5L1133.9 691.4L1134.4 694.0L1134.8 693.0L1135.2 692.0L1135.6 694.7L1136.0 692.7L1136.5 691.5L1136.9 691.5L1137.3 692.4L1137.7 692.3L1138.1 693.6L1138.6 693.3L1139.0 691.7L1139.4 692.7L1139.8 693.2L1140.2 691.5L1140.7 691.5L1141.1 692.8L1141.5 692.5L1141.9 691.0L1142.3 691.9L1142.8 692.6L1143.2 693.0L1143.6 692.7L1144.0 694.7L1144.4 693.1L1144.9 693.3L1145.3 694.3L1145.7 691.9L1146.1 693.1L1146.5 694.5L1147.0 693.0L1147.4 692.8L1147.8 694.4L1148.2 694.2L1148.6 693.2L1149.1 692.7L1149.5 691.9L1149.9 692.5L1150.3 691.4L1150.7 693.1L1151.2 691.5L1151.6 690.3L1152.0 690.1L1152.4 689.5L1152.8 688.2L1153.3 688.2L1153.7 689.4L1154.1 686.7L1154.5 686.7L1154.9 687.1L1155.4 686.4L1155.8 683.6L1156.2 684.8L1156.6 682.0L1157.0 682.9L1157.5 681.4L1157.9 679.4L1158.3 678.6L1158.7 677.0L1159.1 674.6L1159.6 675.7L1160.0 671.4L1160.4 671.3L1160.8 668.0L1161.2 664.9L1161.7 663.9L1162.1 663.5L1162.5 663.2L1162.9 663.1L1163.3 660.5L1163.8 659.4L1164.2 657.3L1164.6 657.0L1165.0 656.1L1165.4 652.5L1165.9 655.8L1166.3 655.3L1166.7 656.2L1167.1 652.8L1167.5 654.4L1168.0 655.1L1168.4 654.7L1168.8 655.6L1169.2 656.8L1169.6 659.5L1170.1 661.0L1170.5 663.4L1170.9 662.6L1171.3 663.4L1171.7 666.7L1172.2 668.7L1172.6 670.5L1173.0 672.5L1173.4 672.1L1173.8 674.5L1174.3 673.9L1174.7 675.7L1175.1 677.2L1175.5 677.4L1175.9 679.2L1176.4 678.9L1176.8 680.6L1177.2 682.2L1177.6 681.3L1178.0 681.7L1178.5 684.7L1178.9 683.9L1179.3 683.0L1179.7 683.3L1180.1 686.0L1180.6 683.3L1181.0 685.5L1181.4 686.1L1181.8 685.4L1182.2 686.2L1182.7 684.9L1183.1 685.5L1183.5 685.2L1183.9 684.9L1184.3 684.6L1184.8 683.5L1185.2 683.5L1185.6 681.7L1186.0 680.5L1186.4 680.3L1186.9 679.6L1187.3 678.4L1187.7 677.9L1188.1 678.0L1188.5 680.0L1189.0 678.5L1189.4 678.5L1189.8 681.0L1190.2 679.8L1190.6 679.3L1191.1 679.0L1191.5 681.6L1191.9 680.6L1192.3 683.2L1192.7 683.3L1193.2 684.7L1193.6 683.2L1194.0 685.6L1194.4 684.0L1194.8 686.6L1195.3 688.7L1195.7 688.9L1196.1 688.0L1196.5 690.7L1196.9 691.0L1197.4 691.2L1197.8 691.2L1198.2 692.3L1198.6 692.6L1199.0 694.9L1199.5 695.6L1199.9 697.0L1200.3 697.7L1200.7 697.0L1201.1 699.2L1201.6 701.0L1202.0 699.0L1202.4 699.9L1202.8 699.2L1203.2 699.4L1203.7 700.0L1204.1 700.7L1204.5 700.9L1204.9 700.8L1205.3 701.2L1205.8 699.5L1206.2 701.2L1206.6 700.8L1207.0 700.4L1207.4 700.7L1207.9 700.6L1208.3 702.0L1208.7 700.8L1209.1 700.3L1209.5 701.4L1210.0 701.4L1210.4 701.7L1210.8 703.0L1211.2 702.0L1211.6 702.5L1212.1 704.1L1212.5 701.7L1212.9 703.1L1213.3 703.6L1213.7 703.7L1214.2 703.8L1214.6 701.8L1215.0 702.4L1215.4 701.7L1215.8 701.7L1216.3 701.7L1216.7 701.8L1217.1 702.9L1217.5 703.4L1217.9 702.3L1218.4 703.4L1218.8 702.5L1219.2 702.5L1219.6 701.6L1220.0 704.0L1220.5 703.8L1220.9 703.3L1221.3 703.4L1221.7 702.5L1222.1 704.0L1222.6 703.8L1223.0 704.3L1223.4 703.9L1223.8 702.9L1224.2 702.9L1224.7 704.5L1225.1 702.9L1225.5 704.2L1225.9 705.1L1226.3 703.6L1226.8 705.3L1227.2 704.6L1227.6 705.1L1228.0 704.3L1228.4 704.4L1228.9 704.8L1229.3 705.2L1229.7 704.4L1230.1 704.3L1230.5 702.7L1231.0 704.1L1231.4 703.5L1231.8 704.0L1232.2 704.4L1232.6 704.9L1233.1 704.8L1233.5 704.4L1233.9 704.2L1234.3 704.9L1234.7 703.4L1235.2 703.7L1235.6 704.1L1236.0 703.0L1236.4 703.8L1236.8 704.3L1237.3 705.0L1237.7 704.8L1238.1 703.2L1238.5 704.0L1238.9 704.1L1239.4 704.2L1239.8 703.9L1240.2 705.0L1240.6 704.7L1241.0 703.2L1241.5 703.5L1241.9 702.9L1242.3 705.6L1242.7 704.1L1243.1 703.7L1243.6 703.3L1244.0 704.1L1244.4 704.6L1244.8 703.4L1245.2 703.6L1245.7 703.4L1246.1 705.0L1246.5 703.7L1246.9 703.0L1247.3 704.0L1247.8 704.2L1248.2 704.8L1248.6 704.7L1249.0 703.6L1249.4 703.9L1249.9 704.2L1250.3 703.0L1250.7 705.3L1251.1 704.9L1251.5 702.6L1252.0 703.6L1252.4 704.0L1252.8 704.1L1253.2 704.1L1253.6 701.4L1254.1 702.1L1254.5 702.7L1254.9 703.6L1255.3 702.5L1255.7 703.5L1256.2 703.5L1256.6 703.5L1257.0 701.9L1257.4 702.6L1257.8 702.6L1258.3 702.3L1258.7 703.7L1259.1 702.0L1259.5 703.5L1259.9 702.0L1260.4 703.0L1260.8 702.7L1261.2 700.6L1261.6 701.6L1262.0 701.3L1262.5 700.7L1262.9 702.1L1263.3 701.8L1263.7 701.0L1264.1 701.9L1264.6 702.2L1265.0 701.4L1265.4 700.8L1265.8 702.3L1266.2 700.8L1266.7 701.8L1267.1 702.4L1267.5 702.0L1267.9 700.8L1268.3 702.0L1268.8 701.7L1269.2 701.7L1269.6 702.7L1270.0 702.6L1270.4 702.0L1270.9 701.8L1271.3 702.8L1271.7 703.0L1272.1 700.9L1272.5 703.8L1273.0 702.3L1273.4 703.9L1273.8 702.5L1274.2 703.2L1274.6 702.8L1275.1 704.9L1275.5 704.8L1275.9 704.1L1276.3 703.8L1276.7 704.2L1277.2 703.2L1277.6 703.2L1278.0 703.2L1278.4 704.8L1278.8 704.3L1279.3 703.7L1279.7 704.8L1280.1 704.8L1280.5 704.8L1280.9 703.2L1281.4 704.2L1281.8 705.2L1282.2 703.9L1282.6 704.2L1283.0 704.8L1283.5 704.3L1283.9 704.3L1284.3 704.1L1284.7 703.9L1285.1 704.6L1285.6 703.8L1286.0 703.5L1286.4 704.1L1286.8 703.7L1287.2 703.8L1287.7 704.5L1288.1 705.2L1288.5 703.2L1288.9 703.7L1289.3 702.9L1289.8 704.9L1290.2 705.0L1290.6 704.3L1291.0 703.9L1291.4 703.5L1291.9 703.3L1292.3 704.5L1292.7 705.4L1293.1 703.6L1293.5 705.5L1294.0 704.4L1294.4 703.4L1294.8 704.7L1295.2 705.0L1295.6 704.8L1296.1 704.5L1296.5 706.1L1296.9 704.5L1297.3 704.9L1297.7 704.8L1298.2 703.6L1298.6 702.8L1299.0 702.9L1299.4 704.0L1299.8 704.6L1300.3 703.2L1300.7 703.9L1301.1 705.3L1301.5 703.0L1301.9 704.6L1302.4 704.3L1302.8 704.4L1303.2 703.0L1303.6 704.0L1304.0 703.1L1304.5 704.8L1304.9 703.5L1305.3 704.2L1305.7 703.4L1306.1 704.1L1306.6 702.5L1307.0 703.9L1307.4 704.1L1307.8 703.4L1308.2 704.5L1308.7 704.1L1309.1 704.5L1309.5 705.1L1309.9 706.1L1310.3 704.4L1310.8 704.8L1311.2 704.6L1311.6 705.5L1312.0 704.4L1312.4 704.9L1312.9 704.6L1313.3 703.9L1313.7 704.5L1314.1 704.6L1314.5 703.2L1315.0 705.5L1315.4 704.5L1315.8 704.5L1316.2 704.6L1316.6 704.2L1317.1 702.9L1317.5 703.5L1317.9 704.5L1318.3 704.7L1318.7 704.9L1319.2 703.6L1319.6 703.9L1320.0 704.8L1320.4 705.0L1320.8 703.8L1321.3 702.8L1321.7 702.1L1322.1 704.7L1322.5 702.4L1322.9 704.3L1323.4 704.4L1323.8 705.5L1324.2 704.1L1324.6 703.9L1325.0 704.7L1325.5 704.4L1325.9 705.1L1326.3 704.8L1326.7 703.7L1327.1 702.7L1327.6 704.3L1328.0 703.6L1328.4 705.2L1328.8 702.8L1329.2 703.6L1329.7 702.9L1330.1 702.4L1330.5 704.1L1330.9 702.7L1331.3 702.7L1331.8 703.2L1332.2 701.5L1332.6 701.9L1333.0 701.7L1333.4 703.4L1333.9 701.8L1334.3 702.1L1334.7 702.4L1335.1 701.6L1335.5 701.4L1336.0 700.2L1336.4 701.8L1336.8 701.9L1337.2 701.5L1337.6 702.3L1338.1 700.0L1338.5 701.6L1338.9 700.4L1339.3 700.0L1339.7 700.7L1340.2 702.1L1340.6 700.3L1341.0 700.5L1341.4 700.0L1341.8 702.5L1342.3 701.3L1342.7 701.0L1343.1 702.0L1343.5 700.6L1343.9 698.8L1344.4 699.7L1344.8 699.3L1345.2 701.4L1345.6 698.8L1346.0 700.2L1346.5 699.4L1346.9 699.4L1347.3 699.3L1347.7 699.2L1348.1 698.3L1348.6 697.3L1349.0 697.8L1349.4 697.1L1349.8 697.3L1350.2 698.1L1350.7 698.1L1351.1 698.5L1351.5 697.6L1351.9 699.2L1352.3 696.8L1352.8 696.4L1353.2 697.9L1353.6 696.2L1354.0 696.5L1354.4 697.2L1354.9 696.2L1355.3 695.1L1355.7 696.0L1356.1 695.9L1356.5 695.2L1357.0 694.3L1357.4 694.9L1357.8 693.9L1358.2 694.2L1358.6 693.9L1359.1 695.4L1359.5 695.5L1359.9 694.3L1360.3 694.9L1360.7 694.5L1361.2 694.2L1361.6 694.4L1362.0 694.8L1362.4 694.7L1362.8 694.3L1363.3 693.6L1363.7 691.6L1364.1 694.1L1364.5 694.7L1364.9 694.0L1365.4 694.0L1365.8 693.6L1366.2 694.6L1366.6 692.7L1367.0 693.8L1367.5 693.4L1367.9 693.1L1368.3 692.9L1368.7 693.2L1369.1 692.4L1369.6 693.9L1370.0 693.2L1370.4 692.7L1370.8 692.9L1371.2 692.0L1371.7 694.7L1372.1 693.2L1372.5 693.8L1372.9 692.6L1373.3 692.9L1373.8 694.5L1374.2 693.7L1374.6 693.6L1375.0 694.9L1375.4 695.3L1375.9 694.0L1376.3 694.2L1376.7 694.1L1377.1 694.4L1377.5 696.2L1378.0 694.1L1378.4 695.6L1378.8 694.1L1379.2 694.4L1379.6 695.8L1380.1 696.1L1380.5 696.2L1380.9 695.9L1381.3 695.8L1381.7 696.4L1382.2 697.1L1382.6 698.3L1383.0 698.6L1383.4 698.0L1383.8 697.8L1384.3 697.9L1384.7 698.7L1385.1 698.6L1385.5 697.8L1385.9 700.0L1386.4 699.4L1386.8 699.1L1387.2 698.6L1387.6 698.6L1388.0 700.2L1388.5 699.4L1388.9 699.7L1389.3 700.6L1389.7 701.8L1390.1 701.5L1390.6 701.2L1391.0 700.8L1391.4 702.4L1391.8 702.2L1392.2 701.2L1392.7 701.7L1393.1 701.2L1393.5 700.1L1393.9 700.4L1394.3 702.3L1394.8 703.0L1395.2 702.5L1395.6 702.0L1396.0 701.9L1396.4 702.6L1396.9 702.3L1397.3 700.5L1397.7 702.2L1398.1 701.5L1398.5 702.2L1399.0 702.3L1399.4 702.8L1399.8 703.6L1400.2 703.4L1400.6 702.1L1401.1 702.2L1401.5 703.6L1401.9 703.2L1402.3 701.8L1402.7 701.9L1403.2 703.9L1403.6 705.2L1404.0 704.6L1404.4 703.7L1404.8 704.0L1405.3 702.3L1405.7 703.5L1406.1 704.7L1406.5 704.4L1406.9 702.6L1407.4 704.9L1407.8 703.9L1408.2 704.2L1408.6 703.7L1409.0 703.7L1409.5 702.6L1409.9 703.7L1410.3 704.4L1410.7 703.0L1411.1 703.7L1411.6 703.5L1412.0 704.7L1412.4 704.3L1412.8 701.9L1413.2 704.1L1413.7 704.9L1414.1 704.1L1414.5 704.5L1414.9 704.6L1415.3 703.8L1415.8 704.3L1416.2 705.2L1416.6 704.3L1417.0 704.9L1417.4 704.8L1417.9 705.3L1418.3 704.5L1418.7 705.1L1419.1 706.1L1419.5 705.8L1420.0 704.7L1420.4 704.1L1420.8 704.4L1421.2 705.4L1421.6 705.4L1422.1 703.6L1422.5 705.2L1422.9 705.2L1423.3 705.4L1423.7 704.9L1424.2 706.9L1424.6 705.7L1425.0 704.4L1425.4 704.9L1425.8 705.8L1426.3 705.4L1426.7 705.1L1427.1 705.0L1427.5 705.1L1427.9 704.9L1428.4 704.3L1428.8 705.3L1429.2 703.6L1429.6 705.1L1430.0 706.3L1430.5 704.8L1430.9 704.9L1431.3 706.9L1431.7 706.1L1432.1 705.1L1432.6 704.6L1433.0 704.8L1433.4 704.3L1433.8 704.3L1434.2 703.7L1434.7 704.4L1435.1 703.4L1435.5 702.5L1435.9 703.1L1436.3 703.8L1436.8 702.8L1437.2 701.7L1437.6 704.4L1438.0 703.8L1438.4 702.6L1438.9 702.7L1439.3 703.6L1439.7 704.2L1440.1 702.7L1440.5 703.4L1441.0 702.6L1441.4 703.2L1441.8 702.6L1442.2 702.0L1442.6 703.3L1443.1 702.6L1443.5 703.4L1443.9 701.8L1444.3 702.7L1444.7 701.8L1445.2 703.3L1445.6 702.3L1446.0 703.7L1446.4 702.3L1446.8 702.4L1447.3 703.1L1447.7 700.8L1448.1 701.1L1448.5 703.3L1448.9 701.2L1449.4 702.1L1449.8 702.7L1450.2 703.2L1450.6 701.7L1451.0 701.7L1451.5 700.4L1451.9 700.7L1452.3 701.6L1452.7 701.0L1453.1 700.7L1453.6 700.7L1454.0 700.7L1454.4 700.9L1454.8 700.7L1455.2 700.3L1455.7 701.5L1456.1 700.4L1456.5 702.1L1456.9 702.8L1457.3 702.3L1457.8 702.7L1458.2 700.3L1458.6 701.3L1459.0 700.4L1459.4 700.4L1459.9 699.8L1460.3 700.2L1460.7 701.5L1461.1 702.1L1461.5 702.6L1462.0 702.9L1462.4 702.2L1462.8 701.2L1463.2 702.0L1463.6 702.2L1464.1 703.3L1464.5 702.0L1464.9 702.2L1465.3 702.2L1465.7 703.5L1466.2 702.8L1466.6 701.8L1467.0 701.5L1467.4 702.6L1467.8 701.2L1468.3 702.4L1468.7 702.4L1469.1 702.3L1469.5 703.0L1469.9 703.1L1470.4 704.8L1470.8 702.8L1471.2 703.5L1471.6 702.7L1472.0 702.2L1472.5 704.3L1472.9 704.6L1473.3 703.1L1473.7 703.6L1474.1 704.4L1474.6 703.7L1475.0 701.9L1475.4 704.3L1475.8 703.6L1476.2 704.5L1476.7 703.5L1477.1 704.7L1477.5 705.2L1477.9 704.2L1478.3 705.0L1478.8 704.1L1479.2 704.2L1479.6 704.2L1480.0 704.2L1480.4 704.3L1480.9 705.7L1481.3 704.8L1481.7 704.1L1482.1 705.6L1482.5 705.2L1483.0 705.8L1483.4 705.0L1483.8 705.5L1484.2 704.9L1484.6 704.8L1485.1 705.6L1485.5 705.4L1485.9 705.6L1486.3 706.0L1486.7 704.5L1487.2 705.9L1487.6 705.1L1488.0 705.5L1488.4 706.0L1488.8 706.1L1489.3 705.5L1489.7 706.9L1490.1 706.5L1490.5 707.3L1490.9 707.6L1491.4 706.6L1491.8 706.2L1492.2 706.7L1492.6 707.0L1493.0 706.4L1493.5 705.3L1493.9 704.8L1494.3 705.4L1494.7 705.3L1495.1 706.3L1495.6 706.1L1496.0 707.0L1496.4 706.3L1496.8 707.3L1497.2 706.3L1497.7 706.8L1498.1 706.0L1498.5 706.4L1498.9 707.0L1499.3 706.8L1499.8 707.2L1500.2 705.9L1500.6 706.6L1501.0 708.0L1501.4 707.0L1501.9 707.0L1502.3 707.1L1502.7 706.5L1503.1 706.9L1503.5 707.4L1504.0 706.8L1504.4 706.3L1504.8 705.3L1505.2 705.2L1505.6 707.9L1506.1 706.1L1506.5 706.4L1506.9 705.6L1507.3 706.3L1507.7 705.8L1508.2 706.0L1508.6 706.9L1509.0 705.5L1509.4 706.8L1509.8 706.4L1510.3 706.7L1510.7 705.6L1511.1 706.2L1511.5 705.1L1511.9 704.2L1512.4 704.8L1512.8 705.3L1513.2 705.3L1513.6 706.0L1514.0 706.8L1514.5 705.3L1514.9 706.6L1515.3 706.4L1515.7 706.1L1516.1 705.8L1516.6 706.5L1517.0 706.8L1517.4 705.8L1517.8 705.9L1518.2 706.1L1518.7 705.2L1519.1 706.5L1519.5 706.7L1519.9 708.1L1520.3 706.0L1520.8 706.2L1521.2 707.0L1521.6 706.9L1522.0 706.7L1522.4 706.9L1522.9 706.5L1523.3 706.8L1523.7 707.5L1524.1 706.0"/>
<path fill="none" stroke="#000000" stroke-width="5.6" stroke-linejoin="round" stroke-linecap="butt" d="M165.0 891.6L165.4 893.3L165.8 899.7L166.3 896.7L166.7 889.7L167.1 895.2L167.5 893.1L167.9 895.4L168.4 889.7L168.8 895.6L169.2 895.5L169.6 900.0L170.0 896.9L170.5 896.6L170.9 889.4L171.3 901.8L171.7 887.9L172.1 897.4L172.6 892.1L173.0 891.0L173.4 891.4L173.8 891.4L174.2 894.9L174.7 894.1L175.1 898.0L175.5 887.9L175.9 894.5L176.3 892.7L176.8 898.2L177.2 888.7L177.6 894.9L178.0 896.1L178.4 890.7L178.9 898.1L179.3 895.7L179.7 899.0L180.1 898.6L180.5 891.5L181.0 891.7L181.4 894.2L181.8 896.6L182.2 896.4L182.6 891.9L183.1 893.5L183.5 892.7L183.9 892.2L184.3 893.4L184.7 893.9L185.2 900.2L185.6 892.7L186.0 894.4L186.4 897.0L186.8 892.8L187.3 894.1L187.7 896.0L188.1 897.3L188.5 889.9L188.9 897.9L189.4 892.6L189.8 894.9L190.2 896.3L190.6 896.2L191.0 897.7L191.5 895.4L191.9 894.2L192.3 895.4L192.7 890.8L193.1 897.2L193.6 891.0L194.0 889.0L194.4 899.5L194.8 892.7L195.2 889.9L195.7 900.2L196.1 893.4L196.5 897.9L196.9 891.5L197.3 893.5L197.8 889.8L198.2 888.9L198.6 891.7L199.0 894.7L199.4 897.9L199.9 902.2L200.3 890.7L200.7 896.6L201.1 891.2L201.5 892.8L202.0 888.2L202.4 888.0L202.8 889.6L203.2 888.4L203.6 892.4L204.1 889.3L204.5 897.2L204.9 894.1L205.3 894.5L205.7 897.9L206.2 895.7L206.6 894.6L207.0 893.7L207.4 893.8L207.8 898.2L208.3 897.9L208.7 896.5L209.1 898.0L209.5 893.3L209.9 896.2L210.4 889.5L210.8 898.0L211.2 893.7L211.6 894.2L212.0 895.7L212.5 894.5L212.9 893.6L213.3 897.3L213.7 894.6L214.1 891.2L214.6 895.2L215.0 888.7L215.4 899.4L215.8 893.6L216.2 894.2L216.7 901.7L217.1 901.6L217.5 894.4L217.9 895.0L218.3 897.6L218.8 898.7L219.2 892.3L219.6 892.7L220.0 896.6L220.4 894.2L220.9 895.8L221.3 896.1L221.7 890.8L222.1 891.6L222.5 886.5L223.0 893.9L223.4 898.6L223.8 890.7L224.2 898.2L224.6 897.6L225.1 894.2L225.5 894.2L225.9 894.5L226.3 890.6L226.7 892.2L227.2 894.2L227.6 895.8L228.0 897.1L228.4 892.1L228.8 897.9L229.3 893.3L229.7 894.6L230.1 896.8L230.5 894.9L230.9 895.0L231.4 896.6L231.8 894.0L232.2 893.3L232.6 894.4L233.0 898.1L233.5 893.9L233.9 899.0L234.3 894.4L234.7 884.9L235.1 891.0L235.6 896.9L236.0 891.6L236.4 890.5L236.8 888.3L237.2 896.0L237.7 895.5L238.1 895.6L238.5 895.4L238.9 899.2L239.3 898.0L239.8 890.5L240.2 896.3L240.6 894.4L241.0 893.2L241.4 894.6L241.9 892.0L242.3 884.2L242.7 897.1L243.1 895.7L243.5 892.1L244.0 891.0L244.4 892.8L244.8 888.5L245.2 892.7L245.6 891.5L246.1 890.6L246.5 890.0L246.9 890.7L247.3 896.0L247.7 897.8L248.2 895.6L248.6 894.9L249.0 892.6L249.4 897.6L249.8 901.4L250.3 891.1L250.7 899.3L251.1 888.3L251.5 892.9L251.9 895.3L252.4 889.3L252.8 888.8L253.2 893.6L253.6 896.1L254.0 892.2L254.5 897.8L254.9 892.1L255.3 899.8L255.7 894.8L256.1 894.6L256.6 896.5L257.0 895.9L257.4 899.8L257.8 901.0L258.2 896.5L258.7 894.5L259.1 891.0L259.5 891.2L259.9 893.8L260.3 892.6L260.8 892.7L261.2 893.5L261.6 894.3L262.0 888.1L262.4 889.4L262.9 895.8L263.3 895.4L263.7 891.3L264.1 897.8L264.5 892.3L265.0 894.0L265.4 889.1L265.8 896.8L266.2 894.5L266.6 897.6L267.1 896.9L267.5 894.3L267.9 895.2L268.3 898.2L268.7 893.4L269.2 893.1L269.6 894.3L270.0 896.5L270.4 896.6L270.8 900.1L271.3 893.5L271.7 897.7L272.1 891.3L272.5 894.9L272.9 893.4L273.4 897.8L273.8 895.4L274.2 892.2L274.6 896.0L275.0 894.9L275.5 893.0L275.9 893.6L276.3 891.1L276.7 901.2L277.1 894.0L277.6 896.3L278.0 889.1L278.4 889.0L278.8 890.7L279.2 890.8L279.7 893.5L280.1 887.9L280.5 893.1L280.9 896.0L281.3 889.1L281.8 895.0L282.2 889.2L282.6 893.7L283.0 893.5L283.4 897.7L283.9 890.7L284.3 892.9L284.7 895.7L285.1 889.3L285.5 893.0L286.0 890.4L286.4 891.6L286.8 895.8L287.2 896.3L287.6 901.8L288.1 898.5L288.5 898.7L288.9 893.7L289.3 893.5L289.7 894.5L290.2 887.2L290.6 899.3L291.0 891.0L291.4 890.2L291.8 891.1L292.3 894.7L292.7 896.0L293.1 891.0L293.5 894.5L293.9 892.0L294.4 890.0L294.8 894.0L295.2 893.1L295.6 888.4L296.0 896.1L296.5 888.8L296.9 893.0L297.3 889.1L297.7 890.1L298.1 891.1L298.6 894.5L299.0 888.7L299.4 892.5L299.8 897.5L300.2 890.5L300.7 892.5L301.1 895.1L301.5 891.9L301.9 895.3L302.3 892.8L302.8 897.2L303.2 895.1L303.6 891.3L304.0 897.7L304.4 893.7L304.9 893.5L305.3 892.3L305.7 892.8L306.1 894.4L306.5 895.4L307.0 898.8L307.4 890.7L307.8 892.7L308.2 898.2L308.6 895.6L309.1 895.8L309.5 898.9L309.9 894.8L310.3 895.1L310.7 893.1L311.2 897.7L311.6 896.0L312.0 889.9L312.4 894.1L312.8 888.8L313.3 895.2L313.7 894.5L314.1 891.6L314.5 890.7L314.9 887.2L315.4 895.2L315.8 893.3L316.2 892.1L316.6 895.8L317.0 892.0L317.5 892.6L317.9 892.7L318.3 890.4L318.7 901.3L319.1 894.0L319.6 893.6L320.0 896.9L320.4 885.8L320.8 893.6L321.2 893.8L321.7 890.7L322.1 895.1L322.5 888.1L322.9 894.3L323.3 896.2L323.8 886.4L324.2 888.4L324.6 892.0L325.0 892.7L325.4 891.4L325.9 894.8L326.3 896.2L326.7 891.8L327.1 895.3L327.5 892.3L328.0 889.2L328.4 887.9L328.8 897.8L329.2 894.9L329.6 900.3L330.1 890.0L330.5 893.3L330.9 895.1L331.3 893.7L331.7 895.3L332.2 895.2L332.6 892.8L333.0 888.9L333.4 892.3L333.8 899.8L334.3 897.3L334.7 899.0L335.1 892.9L335.5 893.9L335.9 893.0L336.4 896.5L336.8 895.2L337.2 896.0L337.6 899.8L338.0 892.3L338.5 897.1L338.9 890.8L339.3 897.8L339.7 893.3L340.1 894.0L340.6 895.3L341.0 898.6L341.4 894.7L341.8 893.6L342.2 892.2L342.7 896.5L343.1 893.6L343.5 894.2L343.9 895.5L344.3 897.7L344.8 893.8L345.2 896.3L345.6 897.7L346.0 888.5L346.4 896.7L346.9 899.2L347.3 891.5L347.7 896.2L348.1 891.3L348.5 896.7L349.0 894.0L349.4 895.3L349.8 891.1L350.2 891.9L350.6 893.7L351.1 892.9L351.5 893.7L351.9 894.6L352.3 891.8L352.7 893.7L353.2 895.2L353.6 886.9L354.0 894.8L354.4 892.4L354.8 891.9L355.3 891.9L355.7 893.3L356.1 893.9L356.5 896.4L356.9 890.7L357.4 897.3L357.8 891.7L358.2 896.2L358.6 897.2L359.0 890.8L359.5 898.1L359.9 901.5L360.3 895.0L360.7 897.7L361.1 895.8L361.6 896.4L362.0 896.4L362.4 895.0L362.8 898.2L363.2 898.8L363.7 895.9L364.1 900.8L364.5 899.3L364.9 898.3L365.3 894.8L365.8 902.8L366.2 901.1L366.6 890.9L367.0 893.6L367.4 895.9L367.9 899.6L368.3 900.0L368.7 895.8L369.1 897.5L369.5 898.2L370.0 892.5L370.4 898.0L370.8 896.2L371.2 898.7L371.6 897.6L372.1 895.0L372.5 896.4L372.9 899.4L373.3 899.3L373.7 897.7L374.2 901.7L374.6 898.0L375.0 895.5L375.4 898.3L375.8 898.1L376.3 899.1L376.7 902.3L377.1 900.2L377.5 901.9L377.9 900.1L378.4 898.2L378.8 901.7L379.2 898.8L379.6 900.2L380.0 896.0L380.5 898.8L380.9 897.1L381.3 898.3L381.7 901.6L382.1 903.0L382.6 899.6L383.0 896.2L383.4 898.8L383.8 896.4L384.2 893.6L384.7 895.3L385.1 895.1L385.5 894.5L385.9 900.1L386.3 895.1L386.8 895.3L387.2 898.2L387.6 893.9L388.0 891.9L388.4 892.3L388.9 896.7L389.3 896.1L389.7 896.1L390.1 893.2L390.5 892.6L391.0 896.9L391.4 890.0L391.8 893.5L392.2 890.3L392.6 893.0L393.1 892.8L393.5 898.3L393.9 887.1L394.3 898.8L394.7 891.1L395.2 895.0L395.6 897.3L396.0 892.2L396.4 893.3L396.8 894.0L397.3 891.6L397.7 889.4L398.1 891.4L398.5 890.5L398.9 885.8L399.4 893.9L399.8 891.5L400.2 882.8L400.6 887.3L401.0 894.5L401.5 894.2L401.9 890.2L402.3 882.8L402.7 887.1L403.1 889.1L403.6 885.5L404.0 880.9L404.4 877.6L404.8 881.3L405.2 875.0L405.7 873.6L406.1 871.6L406.5 872.5L406.9 863.4L407.3 859.4L407.8 847.3L408.2 855.0L408.6 849.0L409.0 839.6L409.4 822.9L409.9 825.2L410.3 823.4L410.7 828.5L411.1 817.7L411.5 817.4L412.0 818.0L412.4 821.6L412.8 812.6L413.2 819.2L413.6 825.6L414.1 834.5L414.5 838.7L414.9 846.0L415.3 845.7L415.7 855.1L416.2 854.6L416.6 870.2L417.0 865.7L417.4 880.3L417.8 880.0L418.3 873.0L418.7 881.8L419.1 881.7L419.5 876.5L419.9 884.4L420.4 883.5L420.8 885.8L421.2 883.6L421.6 887.1L422.0 889.0L422.5 888.6L422.9 888.2L423.3 890.1L423.7 888.8L424.1 892.2L424.6 884.4L425.0 895.6L425.4 891.7L425.8 893.2L426.2 893.7L426.7 889.5L427.1 899.8L427.5 891.4L427.9 896.4L428.3 895.9L428.8 899.3L429.2 895.0L429.6 891.3L430.0 895.7L430.4 888.5L430.9 894.2L431.3 893.2L431.7 899.0L432.1 894.1L432.5 893.5L433.0 892.1L433.4 892.1L433.8 893.0L434.2 896.0L434.6 890.7L435.1 893.2L435.5 890.3L435.9 894.0L436.3 894.1L436.7 891.0L437.2 893.9L437.6 895.4L438.0 897.3L438.4 897.5L438.8 895.0L439.3 891.9L439.7 890.2L440.1 896.5L440.5 898.2L440.9 895.6L441.4 898.7L441.8 894.2L442.2 895.0L442.6 899.7L443.0 893.9L443.5 898.1L443.9 897.8L444.3 897.3L444.7 900.6L445.1 894.5L445.6 895.0L446.0 890.5L446.4 893.1L446.8 894.8L447.2 895.4L447.7 895.3L448.1 897.2L448.5 895.0L448.9 891.7L449.3 896.5L449.8 897.1L450.2 893.5L450.6 893.7L451.0 899.4L451.4 897.0L451.9 896.9L452.3 895.2L452.7 893.3L453.1 891.6L453.5 894.0L454.0 892.3L454.4 891.9L454.8 892.7L455.2 892.3L455.6 894.2L456.1 889.5L456.5 897.5L456.9 887.3L457.3 887.5L457.7 889.5L458.2 883.9L458.6 883.4L459.0 883.3L459.4 875.5L459.8 879.5L460.3 877.0L460.7 875.9L461.1 875.8L461.5 873.7L461.9 872.7L462.4 869.9L462.8 865.5L463.2 857.1L463.6 856.0L464.0 844.6L464.5 844.1L464.9 846.4L465.3 841.1L465.7 834.2L466.1 839.0L466.6 846.3L467.0 848.7L467.4 854.2L467.8 848.6L468.2 855.2L468.7 863.3L469.1 864.5L469.5 870.6L469.9 874.2L470.3 877.9L470.8 878.0L471.2 881.9L471.6 884.7L472.0 884.5L472.4 881.6L472.9 889.0L473.3 887.1L473.7 888.3L474.1 888.2L474.5 884.7L475.0 890.7L475.4 888.9L475.8 889.1L476.2 895.2L476.6 892.0L477.1 893.7L477.5 895.1L477.9 896.3L478.3 888.0L478.7 890.4L479.2 893.4L479.6 890.2L480.0 886.2L480.4 893.0L480.8 893.4L481.3 894.3L481.7 893.1L482.1 891.2L482.5 893.1L482.9 892.4L483.4 891.2L483.8 892.4L484.2 892.4L484.6 889.7L485.0 893.5L485.5 892.8L485.9 892.0L486.3 884.9L486.7 891.2L487.1 890.2L487.6 887.9L488.0 890.7L488.4 886.3L488.8 891.7L489.2 889.2L489.7 886.5L490.1 890.8L490.5 888.3L490.9 887.2L491.3 882.6L491.8 886.5L492.2 887.9L492.6 885.9L493.0 878.9L493.4 884.1L493.9 883.4L494.3 880.8L494.7 876.7L495.1 871.9L495.5 871.5L496.0 870.0L496.4 870.7L496.8 867.8L497.2 860.5L497.6 854.5L498.1 854.1L498.5 847.7L498.9 851.1L499.3 838.0L499.7 837.9L500.2 834.0L500.6 821.8L501.0 822.1L501.4 808.9L501.8 799.6L502.3 791.0L502.7 786.6L503.1 784.9L503.5 767.5L503.9 775.6L504.4 771.5L504.8 769.8L505.2 777.0L505.6 781.8L506.0 788.6L506.5 799.3L506.9 800.9L507.3 820.2L507.7 824.7L508.1 827.5L508.6 829.4L509.0 842.4L509.4 846.8L509.8 855.4L510.2 860.0L510.7 867.4L511.1 866.1L511.5 872.6L511.9 872.6L512.3 875.4L512.8 882.3L513.2 880.6L513.6 882.0L514.0 882.6L514.4 885.5L514.9 887.2L515.3 886.8L515.7 885.9L516.1 890.4L516.5 888.8L517.0 890.5L517.4 892.9L517.8 893.8L518.2 889.6L518.6 898.2L519.1 897.4L519.5 901.0L519.9 902.2L520.3 895.9L520.7 897.3L521.2 899.4L521.6 900.5L522.0 897.7L522.4 898.6L522.8 901.9L523.3 898.7L523.7 901.4L524.1 903.3L524.5 901.3L524.9 903.6L525.4 902.0L525.8 899.5L526.2 901.5L526.6 902.7L527.0 902.2L527.5 902.8L527.9 903.4L528.3 903.2L528.7 903.1L529.1 902.0L529.6 902.7L530.0 902.5L530.4 902.2L530.8 906.0L531.2 900.5L531.7 904.3L532.1 901.1L532.5 903.3L532.9 905.7L533.3 904.0L533.8 906.7L534.2 903.1L534.6 904.5L535.0 904.0L535.4 905.5L535.9 904.8L536.3 904.8L536.7 905.6L537.1 907.3L537.5 905.0L538.0 904.5L538.4 903.6L538.8 903.4L539.2 902.5L539.6 903.1L540.1 905.5L540.5 902.6L540.9 907.2L541.3 905.1L541.7 904.3L542.2 904.8L542.6 906.6L543.0 906.3L543.4 905.8L543.8 907.9L544.3 908.9L544.7 903.2L545.1 906.6L545.5 904.0L545.9 903.4L546.4 905.2L546.8 907.7L547.2 905.7L547.6 905.7L548.0 909.0L548.5 907.9L548.9 906.7L549.3 909.8L549.7 907.6L550.1 905.6L550.6 905.0L551.0 906.6L551.4 908.1L551.8 909.2L552.2 909.2L552.7 908.1L553.1 905.8L553.5 908.8L553.9 907.3L554.3 905.4L554.8 905.2L555.2 907.8L555.6 907.9L556.0 908.6L556.4 905.8L556.9 910.5L557.3 904.7L557.7 907.9L558.1 910.3L558.5 910.1L559.0 906.4L559.4 909.1L559.8 910.6L560.2 909.7L560.6 906.8L561.1 910.3L561.5 905.3L561.9 907.7L562.3 905.7L562.7 907.2L563.2 907.3L563.6 909.2L564.0 906.7L564.4 909.7L564.8 911.4L565.3 909.3L565.7 910.1L566.1 910.0L566.5 908.1L566.9 908.5L567.4 909.1L567.8 909.4L568.2 912.2L568.6 911.6L569.0 908.2L569.5 908.1L569.9 907.1L570.3 905.4L570.7 911.1L571.1 909.7L571.6 905.8L572.0 908.5L572.4 912.0L572.8 908.9L573.2 908.9L573.7 908.6L574.1 907.3L574.5 906.9L574.9 907.8L575.3 909.4L575.8 908.4L576.2 909.7L576.6 911.1L577.0 909.2L577.4 909.1L577.9 906.9L578.3 905.7L578.7 911.1L579.1 909.3L579.5 910.5L580.0 908.4L580.4 906.6L580.8 911.2L581.2 905.7L581.6 908.5L582.1 908.2L582.5 909.6L582.9 910.7L583.3 910.9L583.7 906.6L584.2 911.6L584.6 906.6L585.0 910.8L585.4 908.7L585.8 907.3L586.3 908.1L586.7 906.6L587.1 908.9L587.5 910.2L587.9 910.0L588.4 909.4L588.8 910.8L589.2 910.0L589.6 912.5L590.0 909.8L590.5 907.7L590.9 908.3L591.3 907.9L591.7 908.6L592.1 908.7L592.6 910.1L593.0 910.1L593.4 909.0L593.8 909.2L594.2 907.2L594.7 907.5L595.1 904.7L595.5 907.8L595.9 908.4L596.3 913.5L596.8 907.5L597.2 909.5L597.6 909.0L598.0 906.9L598.4 909.9L598.9 909.2L599.3 907.1L599.7 905.9L600.1 909.4L600.5 907.3L601.0 910.6L601.4 908.6L601.8 909.8L602.2 908.4L602.6 911.0L603.1 909.7L603.5 910.9L603.9 908.7L604.3 907.1L604.7 906.8L605.2 908.6L605.6 910.0L606.0 908.5L606.4 913.7L606.8 909.6L607.3 910.5L607.7 910.2L608.1 907.8L608.5 911.2L608.9 910.4L609.4 910.7L609.8 907.9L610.2 908.7L610.6 908.8L611.0 911.2L611.5 907.2L611.9 910.4L612.3 911.3L612.7 908.9L613.1 908.5L613.6 911.5L614.0 909.7L614.4 911.3L614.8 910.3L615.2 911.4L615.7 908.7L616.1 905.4L616.5 909.7L616.9 907.6L617.3 910.2L617.8 907.7L618.2 911.5L618.6 908.6L619.0 910.2L619.4 910.6L619.9 908.7L620.3 909.5L620.7 908.9L621.1 908.1L621.5 912.3L622.0 908.7L622.4 907.7L622.8 909.6L623.2 910.7L623.6 910.5L624.1 909.9L624.5 909.5L624.9 906.5L625.3 910.9L625.7 912.4L626.2 908.6L626.6 907.2L627.0 911.3L627.4 910.0L627.8 906.3L628.3 909.3L628.7 908.5L629.1 908.4L629.5 913.1L629.9 911.6L630.4 909.6L630.8 909.8L631.2 911.6L631.6 907.5L632.0 910.6L632.5 908.6L632.9 911.0L633.3 909.8L633.7 908.7L634.1 911.6L634.6 910.8L635.0 912.5L635.4 908.8L635.8 910.2L636.2 909.4L636.7 912.4L637.1 909.5L637.5 910.9L637.9 913.1L638.3 911.1L638.8 910.9L639.2 910.6L639.6 910.6L640.0 911.2L640.4 909.5L640.9 906.8L641.3 911.9L641.7 908.2L642.1 912.8L642.5 910.5L643.0 913.9L643.4 911.9L643.8 910.7L644.2 911.7L644.6 908.2L645.1 910.4L645.5 909.7L645.9 910.3L646.3 906.8L646.7 906.4L647.2 910.5L647.6 909.6L648.0 908.7L648.4 909.7L648.8 909.0L649.3 909.3L649.7 911.7L650.1 909.9L650.5 911.5L650.9 909.0L651.4 907.3L651.8 908.8L652.2 909.9L652.6 908.6L653.0 909.7L653.5 909.1L653.9 911.2L654.3 911.1L654.7 911.0L655.1 907.6L655.6 909.0L656.0 910.6L656.4 908.9L656.8 908.5L657.2 907.0L657.7 910.3L658.1 909.0L658.5 910.4L658.9 909.1L659.3 912.5L659.8 909.7L660.2 907.4L660.6 909.7L661.0 910.6L661.4 911.5L661.9 908.7L662.3 908.7L662.7 909.6L663.1 909.5L663.5 906.7L664.0 911.1L664.4 911.7L664.8 908.0L665.2 907.6L665.6 909.4L666.1 908.2L666.5 911.3L666.9 909.0L667.3 911.4L667.7 908.1L668.2 907.9L668.6 908.2L669.0 907.9L669.4 911.1L669.8 911.7L670.3 910.9L670.7 910.5L671.1 906.5L671.5 911.9L671.9 908.2L672.4 911.8L672.8 913.5L673.2 909.8L673.6 910.4L674.0 910.8L674.5 907.5L674.9 908.1L675.3 909.0L675.7 910.3L676.1 911.9L676.6 910.2L677.0 911.8L677.4 909.2L677.8 907.7L678.2 910.4L678.7 910.3L679.1 908.4L679.5 912.5L679.9 909.4L680.3 909.9L680.8 911.0L681.2 908.7L681.6 911.8L682.0 911.3L682.4 911.7L682.9 910.5L683.3 909.7L683.7 909.4L684.1 910.4L684.5 912.1L685.0 910.9L685.4 910.5L685.8 911.3L686.2 911.4L686.6 907.7L687.1 909.3L687.5 911.2L687.9 908.7L688.3 909.1L688.7 911.6L689.2 910.3L689.6 912.8L690.0 910.3L690.4 911.2L690.8 914.5L691.3 912.0L691.7 908.0L692.1 908.4L692.5 908.7L692.9 910.4L693.4 907.8L693.8 910.8L694.2 913.0L694.6 912.7L695.0 908.8L695.5 909.3L695.9 909.7L696.3 909.1L696.7 912.8L697.1 908.8L697.6 908.3L698.0 910.8L698.4 909.9L698.8 911.6L699.2 911.9L699.7 909.3L700.1 906.1L700.5 910.6L700.9 911.0L701.3 912.3L701.8 906.7L702.2 907.5L702.6 912.1L703.0 912.1L703.4 911.5L703.9 909.8L704.3 912.4L704.7 909.3L705.1 907.9L705.5 909.7L706.0 910.8L706.4 911.7L706.8 911.6L707.2 907.1L707.6 910.4L708.1 910.7L708.5 907.8L708.9 909.6L709.3 910.7L709.7 911.3L710.2 908.9L710.6 909.1L711.0 907.9L711.4 910.0L711.8 909.0L712.3 908.5L712.7 910.8L713.1 909.6L713.5 908.4L713.9 911.8L714.4 911.3L714.8 910.8L715.2 908.1L715.6 912.2L716.0 909.3L716.5 907.6L716.9 910.1L717.3 913.0L717.7 909.8L718.1 910.9L718.6 912.1L719.0 909.9L719.4 909.1L719.8 909.6L720.2 910.0L720.7 907.8L721.1 908.8L721.5 909.4L721.9 908.0L722.3 909.6L722.8 909.4L723.2 908.0L723.6 908.4L724.0 908.4L724.4 907.8L724.9 907.6L725.3 906.4L725.7 908.2L726.1 909.2L726.5 909.4L727.0 906.8L727.4 908.7L727.8 908.3L728.2 905.5L728.6 907.2L729.1 905.3L729.5 905.3L729.9 905.8L730.3 904.5L730.7 900.7L731.2 904.0L731.6 901.4L732.0 902.1L732.4 902.8L732.8 900.5L733.3 899.1L733.7 899.6L734.1 899.3L734.5 895.6L734.9 894.7L735.4 895.7L735.8 896.2L736.2 891.2L736.6 891.3L737.0 886.9L737.5 886.0L737.9 883.9L738.3 879.9L738.7 881.2L739.1 879.6L739.6 873.4L740.0 878.9L740.4 879.9L740.8 880.2L741.2 881.5L741.7 879.8L742.1 882.2L742.5 884.2L742.9 884.6L743.3 887.4L743.8 892.9L744.2 890.2L744.6 893.3L745.0 899.1L745.4 897.4L745.9 897.3L746.3 900.1L746.7 901.3L747.1 901.7L747.5 899.7L748.0 903.7L748.4 904.6L748.8 908.0L749.2 906.3L749.6 905.3L750.1 906.6L750.5 906.9L750.9 905.8L751.3 906.7L751.7 908.9L752.2 907.7L752.6 908.0L753.0 906.5L753.4 909.1L753.8 905.1L754.3 910.5L754.7 907.7L755.1 909.5L755.5 910.3L755.9 906.6L756.4 910.1L756.8 908.6L757.2 910.2L757.6 907.9L758.0 907.7L758.5 910.6L758.9 909.5L759.3 909.0L759.7 907.2L760.1 910.7L760.6 908.5L761.0 908.9L761.4 908.3L761.8 909.5L762.2 910.5L762.7 909.8L763.1 909.5L763.5 909.1L763.9 912.0L764.3 912.2L764.8 909.5L765.2 909.0L765.6 910.9L766.0 908.2L766.4 911.0L766.9 911.0L767.3 911.3L767.7 913.3L768.1 914.0L768.5 911.9L769.0 910.6L769.4 912.3L769.8 912.1L770.2 908.3L770.6 909.1L771.1 909.6L771.5 907.9L771.9 908.8L772.3 912.7L772.7 908.9L773.2 911.8L773.6 909.5L774.0 911.9L774.4 911.3L774.8 911.8L775.3 908.2L775.7 910.8L776.1 909.2L776.5 911.2L776.9 910.9L777.4 910.7L777.8 910.3L778.2 910.6L778.6 911.2L779.0 909.6L779.5 909.7L779.9 909.6L780.3 908.8L780.7 912.0L781.1 908.9L781.6 913.3L782.0 912.7L782.4 909.0L782.8 908.5L783.2 910.8L783.7 909.0L784.1 910.7L784.5 911.5L784.9 910.5L785.3 909.7L785.8 910.3L786.2 912.9L786.6 910.6L787.0 914.2L787.4 914.3L787.9 911.0L788.3 911.8L788.7 913.8L789.1 909.8L789.5 911.0L790.0 912.1L790.4 909.0L790.8 910.9L791.2 910.5L791.6 909.3L792.1 912.6L792.5 910.4L792.9 913.8L793.3 911.5L793.7 909.7L794.2 911.1L794.6 909.5L795.0 911.4L795.4 911.3L795.8 908.6L796.3 909.8L796.7 911.2L797.1 910.3L797.5 909.2L797.9 912.0L798.4 912.3L798.8 907.8L799.2 912.5L799.6 907.9L800.0 910.3L800.5 909.8L800.9 910.3L801.3 911.6L801.7 909.1L802.1 910.5L802.6 913.2L803.0 911.3L803.4 912.5L803.8 911.2L804.2 907.8L804.7 912.6L805.1 911.9L805.5 911.7L805.9 910.4L806.3 910.7L806.8 909.8L807.2 911.2L807.6 911.2L808.0 910.5L808.4 910.1L808.9 907.5L809.3 909.1L809.7 909.0L810.1 910.9L810.5 909.8L811.0 909.9L811.4 910.4L811.8 909.6L812.2 909.8L812.6 911.5L813.1 909.9L813.5 908.9L813.9 911.3L814.3 912.0L814.7 911.7L815.2 909.4L815.6 912.7L816.0 911.3L816.4 911.2L816.8 910.8L817.3 911.7L817.7 911.5L818.1 912.8L818.5 911.4L818.9 911.2L819.4 912.6L819.8 911.0L820.2 912.7L820.6 910.9L821.0 911.8L821.5 910.0L821.9 912.0L822.3 911.6L822.7 909.5L823.1 910.4L823.6 910.8L824.0 908.8L824.4 909.1L824.8 911.4L825.2 911.5L825.7 912.5L826.1 908.8L826.5 910.3L826.9 908.0L827.3 913.6L827.8 909.2L828.2 910.9L828.6 913.9L829.0 913.0L829.4 910.0L829.9 914.2L830.3 911.7L830.7 909.1L831.1 911.7L831.5 912.1L832.0 911.9L832.4 908.5L832.8 914.0L833.2 909.5L833.6 910.9L834.1 913.6L834.5 912.1L834.9 911.3L835.3 910.7L835.7 912.6L836.2 914.0L836.6 910.8L837.0 912.0L837.4 910.9L837.8 910.6L838.3 907.8L838.7 911.0L839.1 912.0L839.5 910.4L839.9 911.8L840.4 910.5L840.8 911.9L841.2 910.7L841.6 910.1L842.0 910.2L842.5 911.5L842.9 911.6L843.3 910.3L843.7 910.7L844.1 909.1L844.6 908.8L845.0 911.4L845.4 910.8L845.8 911.1L846.2 910.1L846.7 910.2L847.1 912.2L847.5 907.9L847.9 909.8L848.3 911.7L848.8 912.6L849.2 910.1L849.6 909.5L850.0 908.8L850.4 910.2L850.9 910.8L851.3 910.6L851.7 911.5L852.1 911.3L852.5 909.8L853.0 909.2L853.4 909.9L853.8 910.7L854.2 912.4L854.6 907.8L855.1 911.8L855.5 909.8L855.9 911.4L856.3 912.5L856.7 910.6L857.2 908.2L857.6 909.2L858.0 910.4L858.4 910.0L858.8 910.7L859.3 909.6L859.7 910.4L860.1 909.8L860.5 911.6L860.9 910.3L861.4 910.6L861.8 907.4L862.2 909.4L862.6 909.6L863.0 910.5L863.5 909.9L863.9 910.3L864.3 913.6L864.7 911.0L865.1 909.5L865.6 910.2L866.0 914.0L866.4 911.8L866.8 909.5L867.2 910.1L867.7 910.3L868.1 910.7L868.5 908.1L868.9 909.4L869.3 910.7L869.8 908.3L870.2 910.0L870.6 910.8L871.0 911.7L871.4 912.2L871.9 909.9L872.3 910.9L872.7 911.9L873.1 912.1L873.5 910.9L874.0 910.1L874.4 912.0L874.8 912.5L875.2 911.5L875.6 911.9L876.1 913.2L876.5 909.7L876.9 909.2L877.3 908.3L877.7 910.4L878.2 911.0L878.6 909.3L879.0 912.5L879.4 909.4L879.8 910.8L880.3 910.2L880.7 912.5L881.1 909.6L881.5 912.5L881.9 910.1L882.4 908.5L882.8 909.7L883.2 910.4L883.6 912.4L884.0 909.8L884.5 910.0L884.9 912.7L885.3 910.0L885.7 908.4L886.1 908.7L886.6 907.5L887.0 910.4L887.4 911.9L887.8 909.5L888.2 908.8L888.7 910.6L889.1 910.1L889.5 909.9L889.9 910.2L890.3 909.7L890.8 909.5L891.2 911.4L891.6 907.6L892.0 908.6L892.4 909.9L892.9 908.2L893.3 911.8L893.7 906.6L894.1 910.5L894.5 910.1L895.0 909.8L895.4 910.1L895.8 908.4L896.2 908.3L896.6 911.4L897.1 909.2L897.5 906.9L897.9 907.1L898.3 906.8L898.7 909.3L899.2 910.2L899.6 908.3L900.0 909.7L900.4 909.2L900.8 911.4L901.3 911.0L901.7 911.3L902.1 912.3L902.5 907.4L902.9 909.5L903.4 906.1L903.8 909.5L904.2 909.5L904.6 909.3L905.0 909.4L905.5 908.4L905.9 907.9L906.3 909.1L906.7 907.4L907.1 909.3L907.6 907.2L908.0 908.7L908.4 908.0L908.8 907.1L909.2 906.9L909.7 908.7L910.1 907.1L910.5 907.9L910.9 906.2L911.3 907.0L911.8 905.2L912.2 906.2L912.6 909.3L913.0 908.1L913.4 907.5L913.9 907.3L914.3 904.8L914.7 907.5L915.1 904.4L915.5 905.1L916.0 906.8L916.4 904.3L916.8 904.0L917.2 903.8L917.6 904.2L918.1 905.2L918.5 900.3L918.9 901.6L919.3 902.8L919.7 900.5L920.2 899.6L920.6 898.0L921.0 897.5L921.4 898.0L921.8 897.9L922.3 895.3L922.7 896.0L923.1 892.2L923.5 888.1L923.9 890.8L924.4 883.9L924.8 884.8L925.2 882.2L925.6 877.5L926.0 875.8L926.5 872.1L926.9 870.5L927.3 866.4L927.7 865.1L928.1 860.0L928.6 859.5L929.0 855.2L929.4 853.0L929.8 850.9L930.2 848.6L930.7 852.3L931.1 851.9L931.5 847.1L931.9 852.7L932.3 862.0L932.8 861.0L933.2 871.5L933.6 869.4L934.0 872.4L934.4 873.6L934.9 877.9L935.3 881.7L935.7 885.5L936.1 886.8L936.5 889.1L937.0 889.3L937.4 891.8L937.8 893.0L938.2 894.6L938.6 894.8L939.1 895.8L939.5 897.9L939.9 895.0L940.3 897.8L940.7 899.9L941.2 902.7L941.6 901.5L942.0 901.5L942.4 904.6L942.8 903.4L943.3 905.6L943.7 903.3L944.1 903.1L944.5 904.1L944.9 907.6L945.4 907.7L945.8 906.2L946.2 908.0L946.6 904.4L947.0 908.3L947.5 907.5L947.9 907.2L948.3 907.5L948.7 907.5L949.1 906.6L949.6 906.4L950.0 905.1L950.4 909.0L950.8 905.9L951.2 907.6L951.7 909.5L952.1 910.3L952.5 910.8L952.9 907.9L953.3 908.4L953.8 908.7L954.2 906.3L954.6 910.2L955.0 906.9L955.4 909.0L955.9 910.1L956.3 910.1L956.7 908.4L957.1 910.5L957.5 910.5L958.0 907.1L958.4 909.4L958.8 910.3L959.2 910.0L959.6 908.7L960.1 908.9L960.5 912.2L960.9 908.5L961.3 910.8L961.7 907.4L962.2 909.9L962.6 910.7L963.0 908.7L963.4 908.4L963.8 912.2L964.3 909.8L964.7 911.8L965.1 908.4L965.5 912.6L965.9 907.7L966.4 908.7L966.8 909.0L967.2 909.4L967.6 909.9L968.0 911.8L968.5 912.7L968.9 912.8L969.3 911.3L969.7 910.6L970.1 907.1L970.6 910.0L971.0 909.1L971.4 910.6L971.8 908.5L972.2 909.0L972.7 909.3L973.1 911.0L973.5 910.4L973.9 908.5L974.3 907.0L974.8 908.4L975.2 908.0L975.6 908.1L976.0 909.1L976.4 910.1L976.9 910.8L977.3 909.0L977.7 909.0L978.1 912.2L978.5 910.1L979.0 911.5L979.4 910.6L979.8 911.2L980.2 913.1L980.6 910.7L981.1 912.4L981.5 911.9L981.9 911.3L982.3 910.6L982.7 910.4L983.2 912.7L983.6 912.5L984.0 909.8L984.4 910.7L984.8 907.6L985.3 910.3L985.7 913.2L986.1 908.7L986.5 911.4L986.9 910.7L987.4 912.0L987.8 910.4L988.2 911.9L988.6 908.6L989.0 910.9L989.5 910.3L989.9 910.2L990.3 912.6L990.7 908.7L991.1 909.2L991.6 908.1L992.0 910.6L992.4 909.9L992.8 908.8L993.2 911.6L993.7 910.9L994.1 912.3L994.5 911.9L994.9 911.4L995.3 910.1L995.8 908.1L996.2 910.3L996.6 912.8L997.0 910.9L997.4 909.6L997.9 911.2L998.3 912.2L998.7 914.6L999.1 909.4L999.5 909.7L1000.0 908.9L1000.4 909.1L1000.8 911.2L1001.2 909.7L1001.6 908.0L1002.1 912.2L1002.5 912.9L1002.9 911.7L1003.3 909.5L1003.7 909.2L1004.2 912.9L1004.6 909.7L1005.0 910.2L1005.4 908.8L1005.8 913.3L1006.3 910.0L1006.7 910.7L1007.1 909.9L1007.5 909.9L1007.9 909.4L1008.4 912.6L1008.8 910.1L1009.2 912.7L1009.6 909.0L1010.0 911.3L1010.5 911.9L1010.9 908.6L1011.3 910.3L1011.7 909.1L1012.1 908.3L1012.6 909.7L1013.0 907.7L1013.4 909.7L1013.8 908.1L1014.2 911.2L1014.7 912.6L1015.1 912.6L1015.5 909.8L1015.9 911.1L1016.3 914.3L1016.8 913.2L1017.2 911.7L1017.6 907.6L1018.0 910.3L1018.4 913.8L1018.9 911.6L1019.3 910.7L1019.7 911.5L1020.1 914.6L1020.5 912.4L1021.0 908.9L1021.4 909.0L1021.8 910.3L1022.2 912.1L1022.6 908.9L1023.1 909.7L1023.5 906.9L1023.9 909.1L1024.3 911.2L1024.7 910.8L1025.2 908.4L1025.6 911.6L1026.0 909.1L1026.4 908.4L1026.8 910.6L1027.3 907.7L1027.7 909.3L1028.1 907.8L1028.5 908.8L1028.9 909.3L1029.4 908.5L1029.8 908.0L1030.2 908.5L1030.6 906.1L1031.0 908.8L1031.5 911.9L1031.9 909.6L1032.3 910.7L1032.7 909.1L1033.1 909.4L1033.6 910.5L1034.0 910.8L1034.4 910.6L1034.8 908.6L1035.2 909.7L1035.7 907.6L1036.1 911.2L1036.5 909.2L1036.9 909.2L1037.3 907.6L1037.8 910.0L1038.2 910.1L1038.6 909.5L1039.0 910.3L1039.4 907.5L1039.9 910.0L1040.3 908.7L1040.7 905.0L1041.1 909.3L1041.5 907.6L1042.0 909.0L1042.4 908.1L1042.8 907.3L1043.2 909.7L1043.6 906.8L1044.1 908.0L1044.5 908.4L1044.9 906.5L1045.3 905.0L1045.7 906.9L1046.2 906.1L1046.6 904.3L1047.0 905.5L1047.4 906.4L1047.8 905.6L1048.3 906.6L1048.7 906.4L1049.1 904.1L1049.5 903.2L1049.9 901.7L1050.4 904.3L1050.8 900.8L1051.2 902.4L1051.6 903.6L1052.0 900.5L1052.5 897.3L1052.9 897.6L1053.3 897.6L1053.7 899.3L1054.1 894.9L1054.6 894.0L1055.0 890.1L1055.4 890.8L1055.8 888.4L1056.2 887.1L1056.7 881.5L1057.1 881.5L1057.5 875.0L1057.9 873.8L1058.3 871.0L1058.8 868.9L1059.2 867.1L1059.6 858.4L1060.0 860.3L1060.4 858.0L1060.9 855.1L1061.3 856.1L1061.7 859.0L1062.1 858.2L1062.5 859.8L1063.0 864.2L1063.4 863.5L1063.8 870.9L1064.2 872.2L1064.6 875.1L1065.1 878.2L1065.5 882.0L1065.9 880.7L1066.3 886.3L1066.7 884.0L1067.2 888.2L1067.6 890.9L1068.0 892.6L1068.4 891.8L1068.8 893.3L1069.3 894.4L1069.7 897.3L1070.1 898.6L1070.5 899.4L1070.9 896.6L1071.4 899.9L1071.8 902.0L1072.2 901.3L1072.6 901.8L1073.0 904.2L1073.5 905.9L1073.9 906.8L1074.3 907.6L1074.7 903.9L1075.1 908.3L1075.6 905.8L1076.0 907.5L1076.4 905.3L1076.8 907.0L1077.2 906.2L1077.7 906.6L1078.1 910.1L1078.5 906.2L1078.9 909.3L1079.3 908.0L1079.8 906.6L1080.2 910.0L1080.6 908.6L1081.0 907.3L1081.4 909.0L1081.9 907.3L1082.3 910.8L1082.7 906.6L1083.1 907.7L1083.5 905.8L1084.0 909.2L1084.4 910.4L1084.8 910.3L1085.2 911.6L1085.6 909.5L1086.1 909.0L1086.5 910.8L1086.9 908.7L1087.3 910.2L1087.7 908.7L1088.2 908.6L1088.6 909.4L1089.0 911.4L1089.4 911.3L1089.8 910.5L1090.3 906.4L1090.7 910.0L1091.1 910.6L1091.5 910.9L1091.9 908.9L1092.4 911.4L1092.8 910.4L1093.2 907.4L1093.6 911.0L1094.0 912.1L1094.5 910.3L1094.9 908.7L1095.3 912.6L1095.7 911.4L1096.1 907.7L1096.6 911.8L1097.0 910.8L1097.4 910.6L1097.8 907.9L1098.2 907.9L1098.7 910.4L1099.1 913.3L1099.5 910.8L1099.9 910.7L1100.3 909.8L1100.8 910.3L1101.2 912.2L1101.6 909.2L1102.0 912.7L1102.4 910.9L1102.9 910.5L1103.3 910.1L1103.7 909.4L1104.1 910.8L1104.5 909.1L1105.0 910.6L1105.4 907.8L1105.8 913.2L1106.2 910.3L1106.6 908.3L1107.1 910.8L1107.5 911.2L1107.9 909.7L1108.3 910.9L1108.7 909.1L1109.2 909.6L1109.6 909.7L1110.0 910.7L1110.4 909.4L1110.8 910.5L1111.3 906.9L1111.7 912.2L1112.1 911.3L1112.5 911.4L1112.9 910.5L1113.4 911.8L1113.8 910.6L1114.2 910.8L1114.6 910.3L1115.0 909.5L1115.5 909.1L1115.9 911.1L1116.3 911.0L1116.7 909.6L1117.1 911.0L1117.6 909.1L1118.0 909.3L1118.4 910.5L1118.8 909.7L1119.2 908.4L1119.7 907.4L1120.1 908.0L1120.5 907.7L1120.9 909.9L1121.3 905.3L1121.8 912.4L1122.2 907.7L1122.6 910.7L1123.0 909.1L1123.4 909.5L1123.9 906.5L1124.3 909.5L1124.7 907.7L1125.1 908.4L1125.5 906.3L1126.0 907.8L1126.4 906.9L1126.8 908.1L1127.2 908.4L1127.6 906.9L1128.1 907.5L1128.5 907.6L1128.9 906.6L1129.3 906.1L1129.7 903.4L1130.2 907.7L1130.6 906.5L1131.0 905.4L1131.4 905.4L1131.8 903.6L1132.3 903.9L1132.7 904.9L1133.1 901.5L1133.5 903.4L1133.9 904.0L1134.4 901.4L1134.8 902.2L1135.2 905.4L1135.6 906.8L1136.0 904.0L1136.5 904.6L1136.9 902.1L1137.3 905.5L1137.7 903.3L1138.1 903.4L1138.6 903.8L1139.0 902.7L1139.4 902.5L1139.8 903.4L1140.2 902.1L1140.7 902.5L1141.1 900.0L1141.5 902.3L1141.9 905.2L1142.3 906.2L1142.8 905.5L1143.2 903.2L1143.6 904.4L1144.0 903.1L1144.4 902.7L1144.9 906.1L1145.3 904.4L1145.7 905.1L1146.1 906.2L1146.5 907.4L1147.0 906.5L1147.4 906.0L1147.8 906.5L1148.2 906.0L1148.6 905.6L1149.1 902.5L1149.5 904.2L1149.9 905.1L1150.3 904.1L1150.7 908.2L1151.2 908.9L1151.6 907.8L1152.0 903.9L1152.4 906.2L1152.8 905.7L1153.3 905.5L1153.7 902.4L1154.1 905.9L1154.5 906.9L1154.9 904.9L1155.4 906.5L1155.8 902.3L1156.2 903.5L1156.6 904.2L1157.0 900.2L1157.5 900.8L1157.9 899.7L1158.3 902.1L1158.7 898.1L1159.1 899.5L1159.6 897.4L1160.0 899.0L1160.4 895.5L1160.8 894.7L1161.2 893.7L1161.7 890.8L1162.1 889.8L1162.5 887.8L1162.9 885.9L1163.3 885.6L1163.8 882.3L1164.2 881.8L1164.6 878.9L1165.0 876.4L1165.4 873.1L1165.9 869.8L1166.3 870.1L1166.7 871.3L1167.1 868.4L1167.5 871.7L1168.0 866.4L1168.4 867.7L1168.8 866.2L1169.2 872.6L1169.6 868.6L1170.1 874.3L1170.5 876.3L1170.9 882.1L1171.3 881.3L1171.7 882.3L1172.2 883.2L1172.6 888.2L1173.0 886.3L1173.4 887.2L1173.8 892.3L1174.3 892.0L1174.7 892.4L1175.1 895.8L1175.5 896.6L1175.9 894.6L1176.4 899.7L1176.8 902.4L1177.2 899.3L1177.6 897.9L1178.0 901.3L1178.5 900.6L1178.9 902.4L1179.3 903.0L1179.7 902.3L1180.1 905.3L1180.6 900.4L1181.0 902.4L1181.4 904.2L1181.8 905.1L1182.2 904.2L1182.7 905.0L1183.1 902.1L1183.5 901.1L1183.9 905.7L1184.3 905.7L1184.8 903.1L1185.2 900.6L1185.6 900.7L1186.0 901.9L1186.4 900.6L1186.9 901.7L1187.3 901.7L1187.7 899.8L1188.1 895.9L1188.5 896.9L1189.0 894.2L1189.4 892.6L1189.8 890.9L1190.2 889.7L1190.6 887.1L1191.1 889.0L1191.5 886.4L1191.9 887.2L1192.3 889.8L1192.7 891.0L1193.2 887.7L1193.6 890.7L1194.0 891.9L1194.4 895.6L1194.8 895.1L1195.3 898.8L1195.7 898.4L1196.1 900.8L1196.5 899.7L1196.9 901.2L1197.4 902.8L1197.8 904.6L1198.2 901.4L1198.6 905.9L1199.0 904.2L1199.5 907.0L1199.9 904.7L1200.3 906.9L1200.7 909.4L1201.1 909.5L1201.6 906.2L1202.0 910.6L1202.4 907.7L1202.8 908.5L1203.2 909.2L1203.7 909.0L1204.1 909.4L1204.5 909.1L1204.9 910.1L1205.3 909.9L1205.8 909.2L1206.2 908.3L1206.6 908.2L1207.0 910.0L1207.4 910.9L1207.9 910.2L1208.3 909.2L1208.7 910.4L1209.1 909.1L1209.5 909.8L1210.0 910.9L1210.4 910.1L1210.8 912.8L1211.2 912.6L1211.6 910.7L1212.1 911.9L1212.5 911.5L1212.9 911.4L1213.3 911.7L1213.7 913.2L1214.2 912.2L1214.6 912.3L1215.0 912.7L1215.4 913.2L1215.8 913.9L1216.3 910.4L1216.7 912.3L1217.1 908.9L1217.5 911.3L1217.9 909.3L1218.4 909.0L1218.8 910.8L1219.2 909.7L1219.6 910.7L1220.0 907.8L1220.5 912.6L1220.9 907.4L1221.3 910.0L1221.7 913.1L1222.1 909.0L1222.6 913.2L1223.0 913.0L1223.4 911.9L1223.8 911.4L1224.2 911.4L1224.7 912.4L1225.1 913.2L1225.5 913.4L1225.9 908.8L1226.3 912.7L1226.8 912.5L1227.2 909.9L1227.6 913.2L1228.0 913.2L1228.4 912.6L1228.9 911.6L1229.3 912.6L1229.7 913.2L1230.1 910.4L1230.5 910.6L1231.0 910.7L1231.4 912.7L1231.8 911.1L1232.2 910.3L1232.6 910.1L1233.1 910.0L1233.5 911.5L1233.9 912.3L1234.3 912.9L1234.7 909.9L1235.2 909.7L1235.6 909.4L1236.0 909.7L1236.4 908.8L1236.8 912.8L1237.3 911.1L1237.7 910.0L1238.1 907.6L1238.5 912.6L1238.9 912.0L1239.4 911.3L1239.8 912.1L1240.2 910.0L1240.6 911.7L1241.0 910.2L1241.5 911.9L1241.9 911.0L1242.3 909.5L1242.7 909.6L1243.1 912.5L1243.6 912.7L1244.0 910.8L1244.4 910.3L1244.8 910.7L1245.2 911.8L1245.7 909.5L1246.1 912.1L1246.5 909.9L1246.9 909.3L1247.3 910.6L1247.8 913.2L1248.2 909.9L1248.6 910.6L1249.0 909.4L1249.4 911.3L1249.9 911.6L1250.3 911.4L1250.7 910.8L1251.1 912.3L1251.5 912.8L1252.0 911.2L1252.4 911.6L1252.8 911.3L1253.2 911.2L1253.6 913.3L1254.1 910.4L1254.5 911.7L1254.9 913.0L1255.3 910.8L1255.7 912.4L1256.2 912.8L1256.6 909.8L1257.0 913.6L1257.4 911.1L1257.8 912.8L1258.3 910.7L1258.7 910.7L1259.1 912.4L1259.5 914.5L1259.9 915.7L1260.4 916.0L1260.8 914.2L1261.2 914.1L1261.6 913.7L1262.0 914.0L1262.5 912.4L1262.9 911.7L1263.3 912.3L1263.7 911.9L1264.1 910.6L1264.6 909.5L1265.0 909.9L1265.4 914.5L1265.8 910.3L1266.2 913.7L1266.7 913.4L1267.1 913.3L1267.5 911.1L1267.9 914.5L1268.3 912.9L1268.8 911.5L1269.2 911.2L1269.6 911.8L1270.0 914.5L1270.4 910.1L1270.9 910.7L1271.3 911.1L1271.7 911.7L1272.1 909.6L1272.5 909.9L1273.0 910.4L1273.4 912.0L1273.8 911.2L1274.2 911.3L1274.6 912.0L1275.1 911.8L1275.5 913.3L1275.9 911.5L1276.3 912.4L1276.7 911.7L1277.2 913.3L1277.6 913.8L1278.0 912.5L1278.4 913.7L1278.8 911.8L1279.3 913.6L1279.7 911.7L1280.1 911.2L1280.5 909.6L1280.9 910.6L1281.4 911.4L1281.8 908.8L1282.2 911.5L1282.6 912.6L1283.0 912.4L1283.5 912.1L1283.9 912.8L1284.3 911.9L1284.7 911.7L1285.1 913.8L1285.6 912.5L1286.0 914.0L1286.4 912.1L1286.8 913.3L1287.2 913.9L1287.7 912.0L1288.1 914.5L1288.5 914.1L1288.9 909.0L1289.3 915.9L1289.8 910.7L1290.2 916.2L1290.6 911.8L1291.0 910.3L1291.4 911.1L1291.9 913.2L1292.3 910.8L1292.7 911.4L1293.1 913.9L1293.5 911.1L1294.0 913.1L1294.4 914.2L1294.8 910.1L1295.2 910.9L1295.6 912.5L1296.1 912.2L1296.5 912.3L1296.9 909.3L1297.3 910.7L1297.7 912.1L1298.2 912.5L1298.6 913.6L1299.0 911.8L1299.4 911.2L1299.8 911.1L1300.3 911.4L1300.7 909.6L1301.1 914.1L1301.5 910.9L1301.9 910.6L1302.4 910.9L1302.8 912.3L1303.2 911.9L1303.6 910.9L1304.0 913.2L1304.5 912.4L1304.9 911.9L1305.3 912.4L1305.7 914.3L1306.1 914.0L1306.6 913.2L1307.0 914.6L1307.4 910.2L1307.8 914.1L1308.2 912.0L1308.7 912.3L1309.1 912.7L1309.5 915.7L1309.9 912.8L1310.3 913.0L1310.8 914.1L1311.2 910.8L1311.6 913.2L1312.0 914.3L1312.4 912.1L1312.9 913.8L1313.3 911.9L1313.7 910.9L1314.1 913.7L1314.5 912.1L1315.0 913.2L1315.4 912.6L1315.8 911.0L1316.2 913.9L1316.6 913.1L1317.1 913.7L1317.5 912.5L1317.9 911.0L1318.3 913.9L1318.7 912.9L1319.2 912.1L1319.6 911.2L1320.0 913.7L1320.4 911.1L1320.8 911.5L1321.3 915.0L1321.7 912.7L1322.1 912.8L1322.5 913.0L1322.9 915.1L1323.4 913.0L1323.8 913.3L1324.2 911.9L1324.6 913.1L1325.0 910.7L1325.5 911.8L1325.9 912.3L1326.3 913.1L1326.7 913.9L1327.1 911.2L1327.6 910.7L1328.0 912.3L1328.4 911.0L1328.8 914.5L1329.2 914.0L1329.7 911.0L1330.1 912.6L1330.5 914.1L1330.9 911.0L1331.3 911.6L1331.8 911.8L1332.2 914.1L1332.6 912.9L1333.0 912.3L1333.4 913.5L1333.9 913.4L1334.3 913.8L1334.7 913.9L1335.1 913.6L1335.5 913.9L1336.0 912.7L1336.4 911.8L1336.8 911.8L1337.2 910.4L1337.6 912.2L1338.1 915.0L1338.5 912.7L1338.9 913.7L1339.3 913.9L1339.7 912.0L1340.2 911.9L1340.6 913.2L1341.0 911.4L1341.4 914.1L1341.8 914.0L1342.3 913.9L1342.7 913.6L1343.1 914.4L1343.5 913.5L1343.9 909.7L1344.4 913.2L1344.8 911.0L1345.2 911.7L1345.6 911.1L1346.0 911.2L1346.5 909.7L1346.9 909.4L1347.3 911.4L1347.7 911.5L1348.1 912.6L1348.6 910.5L1349.0 911.5L1349.4 912.9L1349.8 911.3L1350.2 910.7L1350.7 914.0L1351.1 908.9L1351.5 909.9L1351.9 909.1L1352.3 909.8L1352.8 913.5L1353.2 908.3L1353.6 909.5L1354.0 908.7L1354.4 908.8L1354.9 910.8L1355.3 909.0L1355.7 910.9L1356.1 911.0L1356.5 908.5L1357.0 910.9L1357.4 907.9L1357.8 909.9L1358.2 910.8L1358.6 907.9L1359.1 909.2L1359.5 909.9L1359.9 909.6L1360.3 909.5L1360.7 912.1L1361.2 909.3L1361.6 911.4L1362.0 913.0L1362.4 910.0L1362.8 910.6L1363.3 910.0L1363.7 912.8L1364.1 913.7L1364.5 909.4L1364.9 910.5L1365.4 911.5L1365.8 915.2L1366.2 911.9L1366.6 913.2L1367.0 911.5L1367.5 914.6L1367.9 911.6L1368.3 913.2L1368.7 911.8L1369.1 913.0L1369.6 912.5L1370.0 913.1L1370.4 913.1L1370.8 915.2L1371.2 911.6L1371.7 914.8L1372.1 913.3L1372.5 912.8L1372.9 913.6L1373.3 913.4L1373.8 914.3L1374.2 914.1L1374.6 914.0L1375.0 913.2L1375.4 910.7L1375.9 913.9L1376.3 914.5L1376.7 913.7L1377.1 913.8L1377.5 912.4L1378.0 913.7L1378.4 914.4L1378.8 911.4L1379.2 912.4L1379.6 912.3L1380.1 914.5L1380.5 912.3L1380.9 910.7L1381.3 913.4L1381.7 915.1L1382.2 913.4L1382.6 913.1L1383.0 914.0L1383.4 916.0L1383.8 913.7L1384.3 913.8L1384.7 914.5L1385.1 913.1L1385.5 912.1L1385.9 914.8L1386.4 914.1L1386.8 914.7L1387.2 914.2L1387.6 914.2L1388.0 912.0L1388.5 913.5L1388.9 911.9L1389.3 913.4L1389.7 912.3L1390.1 915.3L1390.6 912.0L1391.0 910.4L1391.4 913.0L1391.8 912.4L1392.2 911.7L1392.7 913.1L1393.1 914.7L1393.5 912.4L1393.9 912.0L1394.3 915.0L1394.8 914.6L1395.2 913.5L1395.6 913.0L1396.0 914.6L1396.4 912.6L1396.9 912.5L1397.3 912.2L1397.7 913.6L1398.1 914.7L1398.5 912.9L1399.0 915.2L1399.4 910.4L1399.8 913.2L1400.2 911.2L1400.6 914.4L1401.1 915.1L1401.5 911.3L1401.9 912.5L1402.3 913.6L1402.7 911.7L1403.2 912.6L1403.6 912.4L1404.0 913.8L1404.4 913.0L1404.8 912.6L1405.3 913.1L1405.7 914.1L1406.1 914.2L1406.5 913.7L1406.9 915.2L1407.4 913.1L1407.8 913.4L1408.2 913.7L1408.6 912.4L1409.0 914.8L1409.5 914.3L1409.9 914.3L1410.3 912.5L1410.7 913.6L1411.1 914.4L1411.6 914.5L1412.0 912.1L1412.4 912.4L1412.8 911.1L1413.2 911.0L1413.7 913.9L1414.1 912.5L1414.5 913.2L1414.9 913.9L1415.3 912.7L1415.8 913.4L1416.2 912.3L1416.6 912.9L1417.0 914.5L1417.4 915.7L1417.9 915.4L1418.3 912.6L1418.7 912.9L1419.1 914.8L1419.5 914.4L1420.0 914.2L1420.4 913.9L1420.8 915.1L1421.2 913.6L1421.6 915.2L1422.1 914.0L1422.5 913.5L1422.9 911.8L1423.3 913.7L1423.7 914.3L1424.2 913.6L1424.6 912.2L1425.0 911.0L1425.4 913.0L1425.8 915.7L1426.3 912.1L1426.7 912.7L1427.1 913.6L1427.5 915.0L1427.9 912.7L1428.4 914.0L1428.8 914.4L1429.2 912.6L1429.6 914.9L1430.0 912.9L1430.5 914.2L1430.9 914.7L1431.3 913.9L1431.7 912.3L1432.1 914.3L1432.6 914.4L1433.0 913.5L1433.4 914.2L1433.8 912.4L1434.2 911.7L1434.7 912.4L1435.1 913.0L1435.5 913.7L1435.9 911.7L1436.3 912.9L1436.8 912.8L1437.2 911.7L1437.6 909.6L1438.0 909.3L1438.4 912.4L1438.9 909.1L1439.3 908.6L1439.7 909.3L1440.1 910.4L1440.5 913.1L1441.0 911.7L1441.4 910.9L1441.8 910.7L1442.2 911.7L1442.6 911.4L1443.1 908.6L1443.5 912.5L1443.9 911.7L1444.3 909.3L1444.7 910.3L1445.2 911.1L1445.6 910.8L1446.0 910.4L1446.4 911.2L1446.8 913.6L1447.3 911.1L1447.7 912.4L1448.1 911.8L1448.5 910.2L1448.9 912.3L1449.4 912.1L1449.8 912.9L1450.2 913.7L1450.6 912.9L1451.0 911.7L1451.5 912.5L1451.9 913.0L1452.3 911.5L1452.7 911.6L1453.1 914.1L1453.6 912.0L1454.0 912.8L1454.4 915.6L1454.8 914.5L1455.2 914.8L1455.7 913.0L1456.1 914.6L1456.5 912.4L1456.9 912.5L1457.3 913.3L1457.8 912.7L1458.2 915.3L1458.6 913.5L1459.0 912.6L1459.4 915.0L1459.9 914.8L1460.3 915.4L1460.7 912.4L1461.1 912.7L1461.5 910.6L1462.0 913.8L1462.4 913.2L1462.8 912.5L1463.2 914.9L1463.6 912.1L1464.1 912.4L1464.5 911.9L1464.9 911.5L1465.3 912.7L1465.7 912.4L1466.2 912.4L1466.6 911.6L1467.0 910.9L1467.4 911.7L1467.8 912.6L1468.3 911.5L1468.7 912.0L1469.1 912.4L1469.5 911.8L1469.9 911.3L1470.4 912.9L1470.8 915.3L1471.2 914.3L1471.6 913.3L1472.0 912.4L1472.5 912.7L1472.9 914.7L1473.3 911.6L1473.7 915.4L1474.1 913.5L1474.6 914.1L1475.0 913.7L1475.4 915.5L1475.8 915.8L1476.2 913.6L1476.7 917.1L1477.1 915.2L1477.5 913.0L1477.9 915.7L1478.3 915.5L1478.8 915.6L1479.2 916.5L1479.6 916.8L1480.0 914.0L1480.4 914.5L1480.9 914.2L1481.3 914.3L1481.7 911.9L1482.1 914.5L1482.5 913.9L1483.0 916.7L1483.4 913.3L1483.8 913.7L1484.2 914.6L1484.6 913.9L1485.1 915.1L1485.5 915.7L1485.9 913.2L1486.3 914.3L1486.7 915.1L1487.2 913.2L1487.6 916.8L1488.0 914.4L1488.4 914.4L1488.8 912.3L1489.3 913.2L1489.7 912.0L1490.1 915.5L1490.5 913.6L1490.9 914.6L1491.4 915.1L1491.8 914.8L1492.2 913.9L1492.6 915.0L1493.0 913.1L1493.5 912.1L1493.9 912.3L1494.3 915.5L1494.7 916.0L1495.1 913.6L1495.6 913.5L1496.0 914.8L1496.4 912.7L1496.8 913.2L1497.2 912.3L1497.7 914.2L1498.1 910.8L1498.5 912.0L1498.9 911.8L1499.3 914.0L1499.8 914.9L1500.2 914.2L1500.6 916.9L1501.0 914.5L1501.4 913.1L1501.9 913.8L1502.3 915.0L1502.7 914.9L1503.1 916.9L1503.5 914.6L1504.0 913.3L1504.4 913.3L1504.8 915.8L1505.2 912.0L1505.6 915.6L1506.1 915.8L1506.5 914.4L1506.9 915.0L1507.3 916.4L1507.7 916.3L1508.2 915.9L1508.6 915.8L1509.0 914.2L1509.4 913.2L1509.8 911.6L1510.3 916.3L1510.7 915.6L1511.1 912.9L1511.5 916.1L1511.9 914.2L1512.4 914.2L1512.8 913.4L1513.2 917.6L1513.6 913.0L1514.0 913.0L1514.5 915.5L1514.9 915.9L1515.3 915.4L1515.7 913.3L1516.1 914.4L1516.6 913.7L1517.0 914.0L1517.4 916.9L1517.8 915.1L1518.2 915.9L1518.7 913.6L1519.1 914.1L1519.5 915.4L1519.9 916.1L1520.3 914.7L1520.8 916.9L1521.2 918.5L1521.6 913.1L1522.0 915.4L1522.4 916.2L1522.9 914.8L1523.3 917.2L1523.7 915.0L1524.1 915.4"/>
<g stroke="#000" stroke-width="5.0" fill="none" stroke-linecap="butt">
<rect x="164.0" y="66.5" width="1361.0" height="994.0"/>
<path d="M164.0 1060.5 v21.5"/>
<path d="M268.0 1060.5 v12.0"/>
<path d="M372.8 1060.5 v21.5"/>
<path d="M477.6 1060.5 v12.0"/>
<path d="M582.4 1060.5 v21.5"/>
<path d="M687.2 1060.5 v12.0"/>
<path d="M792.0 1060.5 v21.5"/>
<path d="M896.8 1060.5 v12.0"/>
<path d="M1001.6 1060.5 v21.5"/>
<path d="M1106.4 1060.5 v12.0"/>
<path d="M1211.2 1060.5 v21.5"/>
<path d="M1316.0 1060.5 v12.0"/>
<path d="M1420.8 1060.5 v21.5"/>
<path d="M1525.0 1060.5 v12.0"/>
</g>
<g fill="#ff00ff" stroke="none">
<rect x="407.0" y="982.2" width="5" height="80.7"/>
<rect x="399.7" y="980.2" width="19.6" height="19.6"/>
<rect x="463.8" y="991.6" width="5" height="71.3"/>
<rect x="456.5" y="989.6" width="19.6" height="19.6"/>
<rect x="501.1" y="963.3" width="5" height="99.6"/>
<rect x="493.8" y="961.3" width="19.6" height="19.6"/>
<rect x="737.3" y="1009.7" width="5" height="53.2"/>
<rect x="730.0" y="1007.7" width="19.6" height="19.6"/>
<rect x="926.3" y="1001.7" width="5" height="61.2"/>
<rect x="919.0" y="999.7" width="19.6" height="19.6"/>
<rect x="1058.1" y="1004.8" width="5" height="58.1"/>
<rect x="1050.8" y="1002.8" width="19.6" height="19.6"/>
<rect x="1131.5" y="1023.3" width="5" height="39.6"/>
<rect x="1124.2" y="1021.3" width="19.6" height="19.6"/>
<rect x="1163.5" y="1010.2" width="5" height="52.7"/>
<rect x="1156.2" y="1008.2" width="19.6" height="19.6"/>
<rect x="1187.5" y="1019.0" width="5" height="43.9"/>
<rect x="1180.2" y="1017.0" width="19.6" height="19.6"/>
<rect x="1262.1" y="1025.0" width="5" height="37.9"/>
<rect x="1254.8" y="1023.0" width="19.6" height="19.6"/>
<rect x="1353.3" y="1024.0" width="5" height="38.9"/>
<rect x="1346.0" y="1022.0" width="19.6" height="19.6"/>
<rect x="1447.0" y="1025.0" width="5" height="37.9"/>
<rect x="1439.7" y="1023.0" width="19.6" height="19.6"/>
</g>
<g fill="#00ff00" stroke="none">
<rect x="543.1" y="948.3" width="5.4" height="114.6"/>
<path d="M531.8 946.3 H559.8 L545.8 969.8 Z"/>
<rect x="673.5" y="1000.7" width="5.4" height="62.2"/>
<path d="M662.2 998.7 H690.2 L676.2 1022.2 Z"/>
<rect x="1097.1" y="1022.3" width="5.4" height="40.6"/>
<path d="M1085.8 1020.3 H1113.8 L1099.8 1043.8 Z"/>
<rect x="1369.6" y="1022.3" width="5.4" height="40.6"/>
<path d="M1358.3 1020.3 H1386.3 L1372.3 1043.8 Z"/>
<rect x="1457.9" y="1039.0" width="5.4" height="23.9"/>
<path d="M1446.6 1037.0 H1474.6 L1460.6 1060.5 Z"/>
</g>
<g font-family="'Liberation Sans', Arial, Helvetica, sans-serif" font-weight="bold" fill="#000">
<g font-size="60.5" text-anchor="middle">
<text x="163.0" y="1142.8">20</text>
<text x="372.6" y="1142.8">30</text>
<text x="582.2" y="1142.8">40</text>
<text x="791.8" y="1142.8">50</text>
<text x="1001.4" y="1142.8">60</text>
<text x="1211.0" y="1142.8">70</text>
<text x="1420.6" y="1142.8">80</text>
</g>
<g font-size="76.5">
<text x="230" y="279.5">a</text>
<text x="229.5" y="468">b</text>
<text x="221.5" y="664">c</text>
<text x="227.5" y="837.5">d</text>
</g>
<text font-size="78.5" x="677" y="1231">2</text>
<text font-family="'Liberation Serif', 'Times New Roman', serif" font-weight="normal" font-size="74" transform="translate(718.9 1231) scale(1.167 1)">θ</text>
<text font-size="78.5" x="760.8" y="1231" textLength="217.8" lengthAdjust="spacingAndGlyphs">(deg.)</text>
<text font-size="80" transform="translate(90.3 822.4) rotate(-90)" textLength="526.1" lengthAdjust="spacingAndGlyphs">Intensity(a.u.)</text>
</g>
</svg>
</body></html>
